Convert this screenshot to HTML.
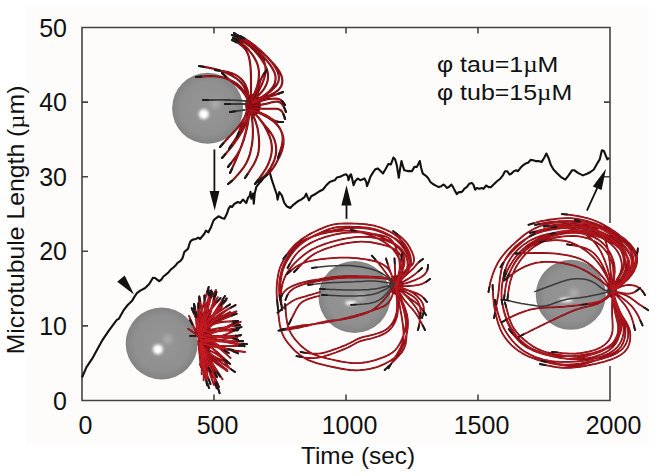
<!DOCTYPE html>
<html><head><meta charset="utf-8"><style>
html,body{margin:0;padding:0;background:#fff;width:658px;height:476px;overflow:hidden}
svg{display:block}
.s{font-family:"Liberation Sans",sans-serif}
.r{font-family:"Liberation Serif",serif}
</style></head><body>
<svg width="658" height="476" viewBox="0 0 658 476">
<defs><clipPath id="c1"><circle cx="207.6" cy="108.3" r="35.5"/></clipPath><clipPath id="c2"><circle cx="161.7" cy="343.5" r="36"/></clipPath><clipPath id="c3"><circle cx="354.5" cy="297" r="36"/></clipPath><clipPath id="c4"><circle cx="570.8" cy="294.8" r="35"/></clipPath><filter id="blur1" x="-1" y="-1" width="3" height="3"><feGaussianBlur stdDeviation="1.8"/></filter><filter id="blur2" x="-1" y="-1" width="3" height="3"><feGaussianBlur stdDeviation="2.5"/></filter></defs>
<rect x="26" y="7" width="623" height="437" fill="#fdfcfb"/>
<g stroke="#444" stroke-width="1.6" fill="none">
<path d="M82 27.5 H610 V400.5 H82 Z"/>
<path d="M214 400.5 v-6 M214 27.5 v6"/>
<path d="M346 400.5 v-6 M346 27.5 v6"/>
<path d="M478 400.5 v-6 M478 27.5 v6"/>
<path d="M82 325.9 h6 M610 325.9 h-6"/>
<path d="M82 251.3 h6 M610 251.3 h-6"/>
<path d="M82 176.7 h6 M610 176.7 h-6"/>
<path d="M82 102.1 h6 M610 102.1 h-6"/>
</g>
<g class="s" font-size="25" fill="#111">
<text x="67" y="409.5" text-anchor="end">0</text>
<text x="67" y="334.9" text-anchor="end">10</text>
<text x="67" y="260.3" text-anchor="end">20</text>
<text x="67" y="185.7" text-anchor="end">30</text>
<text x="67" y="111.1" text-anchor="end">40</text>
<text x="67" y="36.5" text-anchor="end">50</text>
<text x="85.5" y="434" text-anchor="middle">0</text>
<text x="217.5" y="434" text-anchor="middle">500</text>
<text x="349.5" y="434" text-anchor="middle">1000</text>
<text x="481.5" y="434" text-anchor="middle">1500</text>
<text x="613.5" y="434" text-anchor="middle">2000</text>
</g>
<text x="301" y="464" textLength="114" lengthAdjust="spacingAndGlyphs" class="s" font-size="24" fill="#111">Time (sec)</text>
<text transform="translate(23.5 354.3) rotate(-90)" textLength="268.7" lengthAdjust="spacingAndGlyphs" class="s" font-size="24" fill="#111">Microtubule Length (<tspan class="r">µ</tspan>m)</text>
<g class="s" font-size="23" fill="#111" transform="translate(437 0) scale(1.085 1) translate(-437 0)"><text x="437" y="72">φ tau=1<tspan class="r">µ</tspan>M</text><text x="437" y="100.4">φ tub=15<tspan class="r">µ</tspan>M</text></g>
<path d="M82,377.5 L86.5,367.2 L92.2,358.7 L97.9,348.3 L102.6,339.8 L108.3,331.3 L114,323.7 L116.8,319.9 L118.7,318.9 L123.5,310.4 L127.7,305 L131.9,301.1 L134.4,296.9 L136.9,293.2 L140.3,290.6 L145.2,288 L149.4,283.8 L152.8,277.9 L155,278 L157.1,279.6 L159.2,281.2 L161.3,279.6 L163.4,276.5 L165.5,274.9 L168.1,272.8 L170.7,269.6 L173.4,267.5 L176,264.9 L177.6,262.8 L180.2,261.2 L182.3,258.6 L183.3,255.5 L184.4,251.8 L186.5,250.2 L188.1,248.6 L189.1,245 L190.2,241.8 L191.7,240.2 L193.8,239.2 L195.6,239.2 L198.2,237.6 L200,239 L204.2,234 L205.9,230.6 L208.4,232.3 L211,227.2 L213.5,220.5 L215.2,218.8 L218.5,216.3 L221.9,218 L224.4,218.8 L226.9,213.8 L228.6,208.7 L230.3,206.2 L232,207 L234.5,203.7 L237.9,202 L240.4,202.9 L242.9,199.5 L244.6,201.2 L246.3,202.9 L248,197.8 L249.6,196.1 L250.5,191.9 L251.3,198.7 L253,193.6 L253.8,203.7 L254.7,193.6 L256.3,186.9 L258.9,183.5 L261.4,181 L263.9,177.6 L266.4,175.1 L269.5,171.5 L271.7,179.4 L274.2,187 L276.8,194.5 L277.6,199.6 L279.3,192 L281.8,195.4 L284.3,202.9 L286.8,206.3 L290.2,208 L293.6,204.6 L297.8,201.3 L301.1,199.6 L304.5,197.1 L306.2,193.7 L307.9,197.9 L309,200.4 L311.2,196.2 L314.6,194.5 L317.1,192.9 L319.6,191.2 L323,189.5 L326.3,185.3 L329.7,181.9 L332.2,181.1 L334.7,180.3 L336.8,177.6 L340.1,176.8 L343.5,175.1 L346,174.3 L347.7,176 L348.5,180.2 L350.2,175.1 L351,174.3 L351.9,177.6 L353.6,185.2 L355.3,181 L357.8,178.5 L360.3,180.2 L362.8,179.3 L364.5,178.5 L366.2,181.8 L367,186 L368.7,181.8 L370.4,176.8 L372.9,172.6 L375.4,169.2 L377.9,168.4 L380.5,170.9 L383,173.4 L385.5,169.2 L388.3,164 L390.9,164.4 L393.4,157.6 L395.1,159.3 L396.8,165.2 L398.8,177.8 L400.1,168.6 L401.5,161 L402.6,165.2 L404.3,170.3 L407.7,171.1 L411.9,171.1 L414.4,166.9 L416.9,166.9 L418.6,163.5 L419.8,161 L421.1,167.7 L422.8,173.6 L425.3,175.3 L427.9,177.8 L430.4,182 L432.9,184 L435.4,185.4 L438.8,187.1 L441.3,186.2 L443.5,184.5 L444.7,185.4 L446.8,187.9 L448.9,187.1 L451.4,184.5 L453.1,187.1 L454.7,190.4 L456.9,194.1 L459,192.1 L461.5,192.1 L463.2,190.4 L464.2,188.8 L466.7,187.1 L469.2,183.8 L471.8,182.9 L473.4,184.6 L475.1,189.7 L476.8,188 L479.3,188.8 L481.8,188 L483.5,188.8 L486.1,185.5 L488.6,187.1 L491.1,187.1 L493.6,184.6 L497,181.3 L500.3,178.7 L502.9,175.4 L505,171.2 L507.1,171.2 L509.6,174.5 L511.3,173.7 L513.8,171.2 L516.3,170.3 L518,171.2 L520.5,167.8 L523,165.3 L525.5,163.6 L528.1,162.8 L530.6,159.9 L533.1,160.3 L535.6,161.1 L538.4,161.1 L541.7,161.9 L544.2,157.7 L546.4,153.5 L548.4,157.7 L551,165.3 L553.5,169.5 L556.8,172.9 L561,177.1 L565.3,179.6 L568.6,175.4 L572,170.3 L574.5,170.3 L577.9,172.9 L582.9,175.4 L587.1,173.7 L590.5,172 L593.8,169.5 L597.2,163.6 L599.7,159.4 L601.9,150.2 L603.9,151 L605.6,155.2 L607.3,159.4 L609,157.7" fill="none" stroke="#111" stroke-width="2.1" stroke-linejoin="round"/>
<g fill="#111" stroke="#111">
<path d="M214.4 149.4 V192" stroke-width="1.8"/><path d="M209.6 191 L219.4 191 L214.7 210.5 Z" stroke="none"/>
<path d="M346.5 218.8 V204" stroke-width="1.8"/><path d="M341.4 205.4 L351.6 205.4 L346.5 185.2 Z" stroke="none"/>
<path d="M586.9 210.7 L597.2 188.2" stroke-width="1.8"/><path d="M592.8 186.5 L601.6 190.1 L606 168.8 Z" stroke="none"/>
<path d="M117.2 281.8 L124.7 275.5 L134 294.4 Z" stroke="none"/>
</g>
<rect x="600" y="223" width="20" height="143" fill="#fdfdfd"/>
<radialGradient id="g1" gradientUnits="userSpaceOnUse" cx="207.6" cy="108.3" r="35.5">
<stop offset="0" stop-color="#959595"/><stop offset="0.75" stop-color="#909090"/><stop offset="1" stop-color="#838383"/></radialGradient>
<circle cx="207.6" cy="108.3" r="35.5" fill="url(#g1)"/>
<circle cx="215.5" cy="104" r="4" fill="#c8c8c8" opacity="0.6" filter="url(#blur2)"/>
<ellipse cx="203.8" cy="114.2" rx="5" ry="5" fill="#fff" filter="url(#blur1)"/>
<radialGradient id="g2" gradientUnits="userSpaceOnUse" cx="161.7" cy="343.5" r="36">
<stop offset="0" stop-color="#959595"/><stop offset="0.75" stop-color="#909090"/><stop offset="1" stop-color="#838383"/></radialGradient>
<circle cx="161.7" cy="343.5" r="36" fill="url(#g2)"/>
<circle cx="168" cy="339.3" r="4" fill="#c8c8c8" opacity="0.6" filter="url(#blur2)"/>
<ellipse cx="157.9" cy="349.4" rx="5" ry="5" fill="#fff" filter="url(#blur1)"/>
<radialGradient id="g3" gradientUnits="userSpaceOnUse" cx="354.5" cy="297" r="36">
<stop offset="0" stop-color="#959595"/><stop offset="0.75" stop-color="#909090"/><stop offset="1" stop-color="#838383"/></radialGradient>
<circle cx="354.5" cy="297" r="36" fill="url(#g3)"/>
<circle cx="360" cy="297" r="4" fill="#c8c8c8" opacity="0.6" filter="url(#blur2)"/>
<ellipse cx="351" cy="303" rx="6" ry="2.2" fill="#fff" filter="url(#blur1)"/>
<radialGradient id="g4" gradientUnits="userSpaceOnUse" cx="570.8" cy="294.8" r="35">
<stop offset="0" stop-color="#959595"/><stop offset="0.75" stop-color="#909090"/><stop offset="1" stop-color="#838383"/></radialGradient>
<circle cx="570.8" cy="294.8" r="35" fill="url(#g4)"/>
<circle cx="574" cy="293" r="4" fill="#c8c8c8" opacity="0.6" filter="url(#blur2)"/>
<ellipse cx="566" cy="300" rx="7" ry="2.2" fill="#fff" filter="url(#blur1)"/>
<ellipse cx="253" cy="105" rx="8" ry="11" fill="#940c12"/>
<path d="M252.0 102.0 253.9 101.3 256.7 100.3 259.5 99.3 261.4 98.6 263.3 97.9 266.1 96.7 268.9 95.6 270.7 94.7 272.5 93.8 275.1 92.4 277.5 90.7 278.9 89.4 280.1 87.9 281.5 85.4 282.3 82.6 282.4 80.7 282.2 78.8 281.5 76.0 280.3 73.3 279.4 71.5 278.3 69.8 276.6 67.4 274.7 65.1 273.4 63.6 272.0 62.1 270.0 59.9 267.9 57.7 266.5 56.3 265.0 54.9 262.8 52.8 260.6 50.8 259.1 49.5 257.5 48.3 255.2 46.4 252.7 44.6 251.1 43.5 249.4 42.4 246.8 40.8 244.3 39.3 242.5 38.3 240.8 37.2 238.3 35.7 235.7 34.1 234.0 33.0M252.0 102.0 254.7 100.6 256.5 99.7 259.2 98.3 260.9 97.3 263.5 95.8 265.2 94.6 267.6 92.8 269.1 91.4 271.1 89.3 272.4 87.7 273.9 85.2 274.7 83.4 275.4 80.6 275.6 77.7 275.4 75.7 274.6 72.9 273.8 71.1 272.4 68.4 271.4 66.7 269.6 64.2 268.4 62.6 266.5 60.2 265.2 58.7 263.2 56.4 261.8 55.0 259.7 52.8 257.5 50.8 256.0 49.4 253.7 47.5 252.1 46.2 249.7 44.3 248.1 43.1 245.6 41.4 243.9 40.3 241.3 38.9 239.5 38.0 236.7 36.8 234.8 36.1 232.0 35.0M251.0 102.0 253.3 100.1 254.8 98.7 257.1 96.7 258.5 95.3 260.6 93.2 261.9 91.6 263.7 89.3 264.8 87.6 266.2 85.0 267.2 82.2 267.7 80.3 268.0 77.3 268.0 75.4 267.7 72.4 267.2 70.5 266.2 67.7 264.9 65.0 263.9 63.3 262.4 60.7 261.2 59.0 259.5 56.6 258.3 55.0 256.3 52.7 255.0 51.2 252.9 49.1 250.6 47.0 249.1 45.8 246.7 44.0 245.0 42.9 242.4 41.5 240.6 40.7 237.8 39.6 235.9 38.9 233.0 38.0M251.0 100.0 252.4 97.3 253.3 95.6 254.6 92.9 255.4 91.0 256.5 88.2 257.1 86.3 257.9 83.4 258.5 80.5 258.7 78.5 258.9 75.5 259.0 73.5 258.8 70.5 258.5 68.6 257.9 65.7 256.9 62.9 256.1 61.0 254.7 58.4 253.7 56.7 252.0 54.2 250.8 52.6 248.9 50.3 246.9 48.0 245.5 46.6 243.2 44.7 241.7 43.4 239.2 41.7 237.5 40.6 235.0 39.0M251.0 100.0 251.0 97.0 251.0 95.0 251.0 91.9 251.0 89.9 251.0 86.9 251.0 84.9 251.0 81.9 251.0 79.9 251.0 76.9 250.9 74.8 250.8 71.8 250.7 69.8 250.5 66.8 250.3 64.8 249.9 61.8 249.5 59.8 248.9 56.9 248.3 55.0 247.1 52.3 246.2 50.5 244.4 48.2 243.0 46.8 240.7 44.9 239.1 43.7 236.5 42.2 234.7 41.3 232.0 40.0M255.0 100.0 256.0 97.2 256.8 95.3 257.9 92.5 258.8 90.7 260.1 88.0 261.0 86.2 262.2 83.5 263.0 81.6 264.0 78.8 264.6 76.9 265.2 74.0 265.5 72.0 265.6 69.0 265.5 67.1 264.9 64.1 264.4 62.2 263.3 59.4 262.5 57.6 261.0 55.1 259.8 53.5 257.9 51.2 256.5 49.7 254.3 47.7 252.8 46.4 250.4 44.5 248.8 43.3 246.3 41.6 244.7 40.4 242.2 38.8 240.5 37.7 238.0 36.0M253.0 102.0 255.7 100.7 257.5 99.8 260.2 98.4 262.0 97.4 264.5 95.8 266.2 94.7 268.6 92.8 270.1 91.6 272.4 89.6 273.8 88.2 275.8 86.0 277.0 84.4 278.3 81.8 278.7 80.0 278.9 77.1 278.6 75.2 277.8 72.4 277.0 70.6 275.6 67.9 274.0 65.4 272.8 63.7 271.0 61.4 269.7 59.8 267.7 57.5 266.3 56.1 264.2 53.9 262.7 52.5 260.5 50.5 259.0 49.2 256.7 47.2 255.1 45.9 252.7 44.1 251.1 42.9 248.6 41.2 246.9 40.1 244.4 38.5 242.6 37.5 240.0 36.0M252.0 100.0 253.4 97.3 254.4 95.4 255.7 92.7 256.6 90.8 257.8 88.0 258.6 86.1 259.6 83.2 260.2 81.2 261.4 78.4 262.2 76.5 263.8 74.0 265.0 72.3 267.0 70.0M248.0 98.0 247.2 95.1 246.6 93.2 245.6 90.3 244.9 88.5 243.5 85.9 242.4 84.2 240.4 82.0 239.0 80.6 236.7 78.7 235.0 77.6 232.5 76.0 230.7 75.0 228.0 73.7 226.2 72.9 223.4 71.7 221.5 71.0 218.7 70.1 216.7 69.5 213.8 68.8 211.8 68.4 208.9 67.8 206.9 67.4 204.0 66.9 202.0 66.5 199.0 66.0M247.0 97.0 245.5 94.4 244.5 92.6 242.9 90.1 241.7 88.5 239.7 86.3 238.2 84.9 235.8 83.1 233.3 81.6 231.5 80.7 228.7 79.5 226.9 78.8 224.0 77.8 222.0 77.3 219.1 76.7 217.1 76.5 214.1 76.2 211.1 76.1 209.1 76.1 206.1 76.2 204.0 76.4 201.0 76.6 199.0 76.7 196.0 77.0M248.0 100.0 247.0 98.2 245.5 95.5 244.4 93.8 242.6 91.3 241.3 89.8 239.1 87.7 237.6 86.3 235.2 84.4 233.6 83.1 231.2 81.2 229.6 79.9 227.3 77.8 225.8 76.5 223.5 74.4 222.0 73.0M249.0 97.0 248.4 94.0 248.0 92.1 247.2 89.1 246.5 87.3 245.3 84.5 244.3 82.8 242.5 80.5 241.1 79.0 238.8 77.0 237.2 75.9 234.6 74.4 232.7 73.6 229.9 72.7 228.0 72.1 225.0 71.5 223.0 71.1 220.0 70.7 218.0 70.4 215.0 70.0M252.0 104.0 254.9 103.0 256.8 102.4 259.6 101.4 262.5 100.5 264.5 100.0 267.4 99.3 269.4 99.0 272.4 98.7 275.4 98.6 277.3 98.8 280.0 99.6 282.2 101.2 283.4 102.6 285.0 105.0M252.0 108.0 254.0 108.1 257.0 108.3 260.0 108.5 262.0 108.7 264.0 108.8 267.0 108.8 270.0 108.8 272.0 108.7 274.0 108.7 276.9 108.8 279.5 109.6 281.0 110.5 282.2 111.8 283.5 114.3 284.5 117.1 285.0 119.0M253.0 106.0 255.0 105.7 258.0 105.3 261.0 104.8 263.0 104.4 265.0 104.0 267.9 103.4 270.8 102.6 272.8 102.1 274.7 101.7 277.5 101.6 280.0 102.4 281.4 103.5 282.6 104.9 284.1 107.4 285.3 110.1 286.0 112.0M253.0 110.0 255.9 111.0 257.7 111.7 260.6 112.8 262.4 113.6 265.1 114.9 266.9 115.8 269.4 117.4 271.1 118.6 273.6 120.1 275.4 121.0 278.1 121.8 280.1 122.0 283.0 122.0M252.0 103.0 253.9 102.3 256.8 101.3 258.8 100.6 261.7 99.5 263.6 98.9 266.5 97.8 268.5 97.1 271.4 96.1 273.3 95.4 276.2 94.4 278.2 93.7 281.1 92.7 283.0 92.0M248.0 108.0 247.0 110.8 246.3 112.7 245.3 115.5 244.6 117.4 243.5 120.2 242.4 123.0 241.7 124.9 240.6 127.7 239.9 129.5 238.8 132.3 238.1 134.2 237.0 137.0M250.0 110.0 248.9 112.8 248.2 114.7 247.1 117.6 246.4 119.4 245.2 122.2 243.9 124.9 242.9 126.7 241.4 129.4 240.4 131.1 238.8 133.7 237.7 135.4 236.1 137.9 234.4 140.5 233.4 142.2 231.7 144.7 230.6 146.4 229.0 149.0M250.0 110.0 249.2 112.9 248.6 114.8 247.7 117.7 247.1 119.6 246.1 122.5 245.4 124.4 244.2 127.1 243.4 128.9 242.0 131.6 240.9 133.3 239.3 135.9 237.7 138.4 236.5 140.0 234.8 142.5 233.6 144.1 231.8 146.5 230.5 148.1 228.6 150.4 227.3 151.9 225.3 154.2 224.0 155.7 222.0 158.0M250.0 110.0 249.5 113.0 249.1 114.9 248.5 117.9 248.2 119.9 247.6 122.9 247.2 124.8 246.6 127.8 246.2 129.8 245.5 132.7 245.0 134.6 244.2 137.6 243.6 139.5 242.7 142.3 241.7 145.2 241.0 147.1 240.0 149.9 239.2 151.8 238.1 154.6 237.4 156.5 236.2 159.2 235.4 161.1 234.2 163.8 233.3 165.7 232.1 168.4 231.3 170.3 230.0 173.0M251.0 110.0 251.4 113.0 251.6 115.0 251.9 118.0 252.2 120.0 252.5 123.0 252.6 125.0 252.8 128.0 252.9 130.0 252.9 133.0 252.8 136.0 252.7 138.0 252.4 141.0 252.2 143.0 251.7 145.9 251.3 147.9 250.7 150.8 250.0 153.7 249.4 155.7 248.4 158.5 247.6 160.3 246.3 163.0 245.3 164.7 243.7 167.3 241.9 169.7 240.7 171.3 238.7 173.6 237.4 175.1 235.4 177.4 234.1 178.8 231.9 180.9 230.4 182.1 228.0 184.0M252.0 110.0 254.0 112.3 255.3 113.8 257.3 116.1 258.6 117.6 260.4 120.0 261.6 121.6 263.3 124.1 264.4 125.8 265.8 128.5 266.8 130.3 268.1 133.0 269.3 135.7 270.0 137.6 270.9 140.5 271.3 142.4 271.7 145.4 271.9 147.4 271.8 150.4 271.6 152.4 271.1 155.3 270.6 157.3 269.7 160.2 268.7 163.0 267.9 164.8 266.5 167.5 265.5 169.3 263.9 171.8 262.8 173.5 261.0 175.9 259.8 177.6 258.0 180.0 256.8 181.6 255.0 184.0M253.0 110.0 254.8 110.9 257.5 112.2 260.2 113.5 262.0 114.4 263.8 115.3 266.5 116.7 269.1 118.3 270.7 119.4 272.4 120.5 274.7 122.4 276.8 124.5 278.1 126.1 279.3 127.7 280.8 130.2 282.0 132.9 282.6 134.8 283.1 136.7 283.5 139.7 283.5 142.7 283.4 144.6 283.0 146.6 282.3 149.5 281.3 152.3 280.6 154.2 279.8 156.0 278.4 158.7 277.0 161.4 276.1 163.2 275.1 164.9 273.5 167.5 271.8 169.9 270.5 171.5 269.2 172.9 267.0 175.0 264.6 176.8 263.0 178.0M253.0 110.0 255.8 111.2 257.6 112.0 260.4 113.2 262.2 114.0 264.9 115.3 266.7 116.3 269.3 117.8 271.0 118.9 273.3 120.7 275.5 122.8 276.9 124.2 278.7 126.6 279.8 128.3 281.1 130.9 281.8 132.8 282.5 135.7 282.7 138.6 282.6 140.6 282.2 143.5 281.8 145.5 281.0 148.4 280.4 150.3 279.5 153.2 278.9 155.1 278.0 158.0M251.0 110.0 251.8 111.9 252.9 114.7 253.7 116.6 254.8 119.4 255.5 121.3 256.4 124.2 257.0 126.1 257.7 129.1 258.0 131.1 258.5 134.1 258.7 136.1 259.0 139.1 259.1 141.1 259.1 144.1 259.1 146.2 258.8 149.2 258.6 151.2 258.0 154.1 257.4 156.1 256.3 158.9 255.5 160.7 254.2 163.4 253.2 165.2 251.6 167.8 250.5 169.5 248.9 172.1 247.8 173.8 246.1 176.3 245.0 178.0M250.0 110.0 249.6 113.0 249.3 115.0 248.9 117.9 248.5 119.9 248.0 122.9 247.4 125.8 247.0 127.8 246.3 130.7 245.8 132.7 245.0 135.6 244.5 137.5 243.6 140.4 242.6 143.2 241.9 145.1 240.8 147.9 239.9 149.7 238.5 152.4 237.5 154.1 235.9 156.6 234.1 159.0 232.9 160.6 231.1 163.0 229.8 164.6 228.0 167.0M252.0 110.0 253.9 112.3 255.2 113.8 257.2 116.1 258.5 117.7 260.4 120.0 261.6 121.5 263.6 123.8 264.8 125.4 266.8 127.7 268.0 129.2 269.9 131.6 271.0 133.2 272.6 135.8 273.5 137.6 274.6 140.3 275.2 142.2 275.8 145.1 276.1 148.1 276.2 150.1 276.0 153.0 275.7 155.0 275.0 157.9 274.4 159.8 273.3 162.5 272.4 164.3 271.0 167.0 270.0 168.7 268.3 171.2 267.1 172.8 265.2 175.1 263.9 176.6 261.7 178.6 260.2 180.0 258.0 182.0M249.0 109.0 247.6 111.7 246.7 113.4 245.3 116.1 244.3 117.8 242.8 120.4 241.7 122.1 240.0 124.6 238.9 126.2 237.0 128.6 235.6 130.1 233.6 132.3 232.2 133.7 230.1 135.9 228.7 137.3 226.7 139.5 225.3 141.0 223.3 143.2 222.0 144.7 220.0 147.0" fill="none" stroke="#68080c" stroke-width="2.1" stroke-linecap="round" stroke-linejoin="round"/>
<path d="M252.0 102.0 253.9 101.3 256.7 100.3 259.5 99.3 261.4 98.6 263.3 97.9 266.1 96.7 268.9 95.6 270.7 94.7 272.5 93.8 275.1 92.4 277.5 90.7 278.9 89.4 280.1 87.9 281.5 85.4 282.3 82.6 282.4 80.7 282.2 78.8 281.5 76.0 280.3 73.3 279.4 71.5 278.3 69.8 276.6 67.4 274.7 65.1 273.4 63.6 272.0 62.1 270.0 59.9 267.9 57.7 266.5 56.3 265.0 54.9 262.8 52.8 260.6 50.8 259.1 49.5 257.5 48.3 255.2 46.4 252.7 44.6 251.1 43.5 249.4 42.4 246.8 40.8 244.3 39.3 242.5 38.3 240.8 37.2 238.3 35.7 235.7 34.1 234.0 33.0M252.0 102.0 254.7 100.6 256.5 99.7 259.2 98.3 260.9 97.3 263.5 95.8 265.2 94.6 267.6 92.8 269.1 91.4 271.1 89.3 272.4 87.7 273.9 85.2 274.7 83.4 275.4 80.6 275.6 77.7 275.4 75.7 274.6 72.9 273.8 71.1 272.4 68.4 271.4 66.7 269.6 64.2 268.4 62.6 266.5 60.2 265.2 58.7 263.2 56.4 261.8 55.0 259.7 52.8 257.5 50.8 256.0 49.4 253.7 47.5 252.1 46.2 249.7 44.3 248.1 43.1 245.6 41.4 243.9 40.3 241.3 38.9 239.5 38.0 236.7 36.8 234.8 36.1 232.0 35.0M251.0 102.0 253.3 100.1 254.8 98.7 257.1 96.7 258.5 95.3 260.6 93.2 261.9 91.6 263.7 89.3 264.8 87.6 266.2 85.0 267.2 82.2 267.7 80.3 268.0 77.3 268.0 75.4 267.7 72.4 267.2 70.5 266.2 67.7 264.9 65.0 263.9 63.3 262.4 60.7 261.2 59.0 259.5 56.6 258.3 55.0 256.3 52.7 255.0 51.2 252.9 49.1 250.6 47.0 249.1 45.8 246.7 44.0 245.0 42.9 242.4 41.5 240.6 40.7 237.8 39.6 235.9 38.9 233.0 38.0M251.0 100.0 252.4 97.3 253.3 95.6 254.6 92.9 255.4 91.0 256.5 88.2 257.1 86.3 257.9 83.4 258.5 80.5 258.7 78.5 258.9 75.5 259.0 73.5 258.8 70.5 258.5 68.6 257.9 65.7 256.9 62.9 256.1 61.0 254.7 58.4 253.7 56.7 252.0 54.2 250.8 52.6 248.9 50.3 246.9 48.0 245.5 46.6 243.2 44.7 241.7 43.4 239.2 41.7 237.5 40.6 235.0 39.0M251.0 100.0 251.0 97.0 251.0 95.0 251.0 91.9 251.0 89.9 251.0 86.9 251.0 84.9 251.0 81.9 251.0 79.9 251.0 76.9 250.9 74.8 250.8 71.8 250.7 69.8 250.5 66.8 250.3 64.8 249.9 61.8 249.5 59.8 248.9 56.9 248.3 55.0 247.1 52.3 246.2 50.5 244.4 48.2 243.0 46.8 240.7 44.9 239.1 43.7 236.5 42.2 234.7 41.3 232.0 40.0M255.0 100.0 256.0 97.2 256.8 95.3 257.9 92.5 258.8 90.7 260.1 88.0 261.0 86.2 262.2 83.5 263.0 81.6 264.0 78.8 264.6 76.9 265.2 74.0 265.5 72.0 265.6 69.0 265.5 67.1 264.9 64.1 264.4 62.2 263.3 59.4 262.5 57.6 261.0 55.1 259.8 53.5 257.9 51.2 256.5 49.7 254.3 47.7 252.8 46.4 250.4 44.5 248.8 43.3 246.3 41.6 244.7 40.4 242.2 38.8 240.5 37.7 238.0 36.0M253.0 102.0 255.7 100.7 257.5 99.8 260.2 98.4 262.0 97.4 264.5 95.8 266.2 94.7 268.6 92.8 270.1 91.6 272.4 89.6 273.8 88.2 275.8 86.0 277.0 84.4 278.3 81.8 278.7 80.0 278.9 77.1 278.6 75.2 277.8 72.4 277.0 70.6 275.6 67.9 274.0 65.4 272.8 63.7 271.0 61.4 269.7 59.8 267.7 57.5 266.3 56.1 264.2 53.9 262.7 52.5 260.5 50.5 259.0 49.2 256.7 47.2 255.1 45.9 252.7 44.1 251.1 42.9 248.6 41.2 246.9 40.1 244.4 38.5 242.6 37.5 240.0 36.0M252.0 100.0 253.4 97.3 254.4 95.4 255.7 92.7 256.6 90.8 257.8 88.0 258.6 86.1 259.6 83.2 260.2 81.2 261.4 78.4 262.2 76.5 263.8 74.0 265.0 72.3 267.0 70.0M248.0 98.0 247.2 95.1 246.6 93.2 245.6 90.3 244.9 88.5 243.5 85.9 242.4 84.2 240.4 82.0 239.0 80.6 236.7 78.7 235.0 77.6 232.5 76.0 230.7 75.0 228.0 73.7 226.2 72.9 223.4 71.7 221.5 71.0 218.7 70.1 216.7 69.5 213.8 68.8 211.8 68.4 208.9 67.8 206.9 67.4 204.0 66.9 202.0 66.5 199.0 66.0M247.0 97.0 245.5 94.4 244.5 92.6 242.9 90.1 241.7 88.5 239.7 86.3 238.2 84.9 235.8 83.1 233.3 81.6 231.5 80.7 228.7 79.5 226.9 78.8 224.0 77.8 222.0 77.3 219.1 76.7 217.1 76.5 214.1 76.2 211.1 76.1 209.1 76.1 206.1 76.2 204.0 76.4 201.0 76.6 199.0 76.7 196.0 77.0M248.0 100.0 247.0 98.2 245.5 95.5 244.4 93.8 242.6 91.3 241.3 89.8 239.1 87.7 237.6 86.3 235.2 84.4 233.6 83.1 231.2 81.2 229.6 79.9 227.3 77.8 225.8 76.5 223.5 74.4 222.0 73.0M249.0 97.0 248.4 94.0 248.0 92.1 247.2 89.1 246.5 87.3 245.3 84.5 244.3 82.8 242.5 80.5 241.1 79.0 238.8 77.0 237.2 75.9 234.6 74.4 232.7 73.6 229.9 72.7 228.0 72.1 225.0 71.5 223.0 71.1 220.0 70.7 218.0 70.4 215.0 70.0M252.0 104.0 254.9 103.0 256.8 102.4 259.6 101.4 262.5 100.5 264.5 100.0 267.4 99.3 269.4 99.0 272.4 98.7 275.4 98.6 277.3 98.8 280.0 99.6 282.2 101.2 283.4 102.6 285.0 105.0M252.0 108.0 254.0 108.1 257.0 108.3 260.0 108.5 262.0 108.7 264.0 108.8 267.0 108.8 270.0 108.8 272.0 108.7 274.0 108.7 276.9 108.8 279.5 109.6 281.0 110.5 282.2 111.8 283.5 114.3 284.5 117.1 285.0 119.0M253.0 106.0 255.0 105.7 258.0 105.3 261.0 104.8 263.0 104.4 265.0 104.0 267.9 103.4 270.8 102.6 272.8 102.1 274.7 101.7 277.5 101.6 280.0 102.4 281.4 103.5 282.6 104.9 284.1 107.4 285.3 110.1 286.0 112.0M253.0 110.0 255.9 111.0 257.7 111.7 260.6 112.8 262.4 113.6 265.1 114.9 266.9 115.8 269.4 117.4 271.1 118.6 273.6 120.1 275.4 121.0 278.1 121.8 280.1 122.0 283.0 122.0M252.0 103.0 253.9 102.3 256.8 101.3 258.8 100.6 261.7 99.5 263.6 98.9 266.5 97.8 268.5 97.1 271.4 96.1 273.3 95.4 276.2 94.4 278.2 93.7 281.1 92.7 283.0 92.0M248.0 108.0 247.0 110.8 246.3 112.7 245.3 115.5 244.6 117.4 243.5 120.2 242.4 123.0 241.7 124.9 240.6 127.7 239.9 129.5 238.8 132.3 238.1 134.2 237.0 137.0M250.0 110.0 248.9 112.8 248.2 114.7 247.1 117.6 246.4 119.4 245.2 122.2 243.9 124.9 242.9 126.7 241.4 129.4 240.4 131.1 238.8 133.7 237.7 135.4 236.1 137.9 234.4 140.5 233.4 142.2 231.7 144.7 230.6 146.4 229.0 149.0M250.0 110.0 249.2 112.9 248.6 114.8 247.7 117.7 247.1 119.6 246.1 122.5 245.4 124.4 244.2 127.1 243.4 128.9 242.0 131.6 240.9 133.3 239.3 135.9 237.7 138.4 236.5 140.0 234.8 142.5 233.6 144.1 231.8 146.5 230.5 148.1 228.6 150.4 227.3 151.9 225.3 154.2 224.0 155.7 222.0 158.0M250.0 110.0 249.5 113.0 249.1 114.9 248.5 117.9 248.2 119.9 247.6 122.9 247.2 124.8 246.6 127.8 246.2 129.8 245.5 132.7 245.0 134.6 244.2 137.6 243.6 139.5 242.7 142.3 241.7 145.2 241.0 147.1 240.0 149.9 239.2 151.8 238.1 154.6 237.4 156.5 236.2 159.2 235.4 161.1 234.2 163.8 233.3 165.7 232.1 168.4 231.3 170.3 230.0 173.0M251.0 110.0 251.4 113.0 251.6 115.0 251.9 118.0 252.2 120.0 252.5 123.0 252.6 125.0 252.8 128.0 252.9 130.0 252.9 133.0 252.8 136.0 252.7 138.0 252.4 141.0 252.2 143.0 251.7 145.9 251.3 147.9 250.7 150.8 250.0 153.7 249.4 155.7 248.4 158.5 247.6 160.3 246.3 163.0 245.3 164.7 243.7 167.3 241.9 169.7 240.7 171.3 238.7 173.6 237.4 175.1 235.4 177.4 234.1 178.8 231.9 180.9 230.4 182.1 228.0 184.0M252.0 110.0 254.0 112.3 255.3 113.8 257.3 116.1 258.6 117.6 260.4 120.0 261.6 121.6 263.3 124.1 264.4 125.8 265.8 128.5 266.8 130.3 268.1 133.0 269.3 135.7 270.0 137.6 270.9 140.5 271.3 142.4 271.7 145.4 271.9 147.4 271.8 150.4 271.6 152.4 271.1 155.3 270.6 157.3 269.7 160.2 268.7 163.0 267.9 164.8 266.5 167.5 265.5 169.3 263.9 171.8 262.8 173.5 261.0 175.9 259.8 177.6 258.0 180.0 256.8 181.6 255.0 184.0M253.0 110.0 254.8 110.9 257.5 112.2 260.2 113.5 262.0 114.4 263.8 115.3 266.5 116.7 269.1 118.3 270.7 119.4 272.4 120.5 274.7 122.4 276.8 124.5 278.1 126.1 279.3 127.7 280.8 130.2 282.0 132.9 282.6 134.8 283.1 136.7 283.5 139.7 283.5 142.7 283.4 144.6 283.0 146.6 282.3 149.5 281.3 152.3 280.6 154.2 279.8 156.0 278.4 158.7 277.0 161.4 276.1 163.2 275.1 164.9 273.5 167.5 271.8 169.9 270.5 171.5 269.2 172.9 267.0 175.0 264.6 176.8 263.0 178.0M253.0 110.0 255.8 111.2 257.6 112.0 260.4 113.2 262.2 114.0 264.9 115.3 266.7 116.3 269.3 117.8 271.0 118.9 273.3 120.7 275.5 122.8 276.9 124.2 278.7 126.6 279.8 128.3 281.1 130.9 281.8 132.8 282.5 135.7 282.7 138.6 282.6 140.6 282.2 143.5 281.8 145.5 281.0 148.4 280.4 150.3 279.5 153.2 278.9 155.1 278.0 158.0M251.0 110.0 251.8 111.9 252.9 114.7 253.7 116.6 254.8 119.4 255.5 121.3 256.4 124.2 257.0 126.1 257.7 129.1 258.0 131.1 258.5 134.1 258.7 136.1 259.0 139.1 259.1 141.1 259.1 144.1 259.1 146.2 258.8 149.2 258.6 151.2 258.0 154.1 257.4 156.1 256.3 158.9 255.5 160.7 254.2 163.4 253.2 165.2 251.6 167.8 250.5 169.5 248.9 172.1 247.8 173.8 246.1 176.3 245.0 178.0M250.0 110.0 249.6 113.0 249.3 115.0 248.9 117.9 248.5 119.9 248.0 122.9 247.4 125.8 247.0 127.8 246.3 130.7 245.8 132.7 245.0 135.6 244.5 137.5 243.6 140.4 242.6 143.2 241.9 145.1 240.8 147.9 239.9 149.7 238.5 152.4 237.5 154.1 235.9 156.6 234.1 159.0 232.9 160.6 231.1 163.0 229.8 164.6 228.0 167.0M252.0 110.0 253.9 112.3 255.2 113.8 257.2 116.1 258.5 117.7 260.4 120.0 261.6 121.5 263.6 123.8 264.8 125.4 266.8 127.7 268.0 129.2 269.9 131.6 271.0 133.2 272.6 135.8 273.5 137.6 274.6 140.3 275.2 142.2 275.8 145.1 276.1 148.1 276.2 150.1 276.0 153.0 275.7 155.0 275.0 157.9 274.4 159.8 273.3 162.5 272.4 164.3 271.0 167.0 270.0 168.7 268.3 171.2 267.1 172.8 265.2 175.1 263.9 176.6 261.7 178.6 260.2 180.0 258.0 182.0M249.0 109.0 247.6 111.7 246.7 113.4 245.3 116.1 244.3 117.8 242.8 120.4 241.7 122.1 240.0 124.6 238.9 126.2 237.0 128.6 235.6 130.1 233.6 132.3 232.2 133.7 230.1 135.9 228.7 137.3 226.7 139.5 225.3 141.0 223.3 143.2 222.0 144.7 220.0 147.0" fill="none" stroke="#b8161d" stroke-width="0.95" stroke-linecap="round" stroke-linejoin="round"/>
<path d="M247.0 101.0 244.0 100.8 242.0 100.6 239.0 100.4 237.0 100.3 234.0 100.2 231.0 100.1 229.0 100.0 226.0 100.0 224.0 99.9 221.0 99.9 219.0 99.9 216.0 99.9 213.0 100.0 211.0 100.0 208.0 100.0 206.0 100.0 203.0 100.0M246.0 104.0 243.0 104.0 241.0 104.0 238.0 104.0 236.0 104.0 233.0 104.0 230.0 104.0 228.0 104.0 225.0 104.0M245.0 110.0 243.0 110.2 240.0 110.6 237.0 111.0 235.0 111.3 233.0 111.6 230.0 112.0" fill="none" stroke="#3a3a3a" stroke-width="1.78" stroke-linecap="round" stroke-linejoin="round"/>
<path d="M234.0 33.0 235.7 34.1 238.2 35.6M232.0 35.0 234.8 36.1 236.7 36.8M233.0 38.0 235.9 38.9 237.7 39.6M235.0 39.0 237.5 40.6 239.2 41.7M232.0 40.0 234.7 41.3 236.5 42.2M238.0 36.0 240.5 37.7 242.2 38.7M240.0 36.0 242.6 37.5 244.3 38.5M267.0 70.0 265.0 72.3 263.9 73.9M199.0 66.0 202.0 66.5 203.9 66.9M196.0 77.0 199.0 76.7 201.0 76.6M222.0 73.0 223.5 74.4 225.7 76.4M215.0 70.0 218.0 70.4 220.0 70.7M203.0 100.0 206.0 100.0 208.0 100.0M225.0 104.0 228.0 104.0 230.0 104.0M230.0 112.0 233.0 111.6 235.0 111.3M285.0 105.0 283.4 102.6 282.2 101.2 282.0 101.0M285.0 119.0 284.5 117.1 283.5 114.3 283.5 114.2M286.0 112.0 285.3 110.1 284.1 107.4M283.0 122.0 280.1 122.0 278.1 121.8 278.0 121.7M283.0 92.0 281.1 92.7 278.3 93.7M237.0 137.0 238.1 134.2 238.8 132.3M229.0 149.0 230.6 146.4 231.7 144.8M222.0 158.0 224.0 155.7 225.3 154.2M230.0 173.0 231.3 170.3 232.1 168.5M228.0 184.0 230.4 182.1 231.9 180.9 231.9 180.9M255.0 184.0 256.8 181.6 258.0 180.0M263.0 178.0 264.6 176.8 267.0 175.0M278.0 158.0 278.9 155.1 279.5 153.2M245.0 178.0 246.1 176.3 247.7 173.8M228.0 167.0 229.8 164.6 231.1 163.1M258.0 182.0 260.2 180.0 261.7 178.7M220.0 147.0 222.0 144.7 223.3 143.3" fill="none" stroke="#1a1a1a" stroke-width="2.10" stroke-linecap="round"/>
<ellipse cx="205" cy="338" rx="7" ry="17" fill="#900c12"/>
<path d="M201.1 338.6C201.2 340.9 201.8 347.5 201.7 351.9C201.5 356.3 200.3 362.8 200.0 365.0M200.8 339.9C200.9 342.4 200.9 350.0 201.2 355.0C201.6 360.0 202.7 367.5 203.0 370.0M199.8 346.2C200.5 348.6 203.4 355.7 204.4 360.6C205.4 365.5 205.4 373.1 205.6 375.6M202.6 344.8C203.3 347.8 206.1 356.8 206.7 362.9C207.4 369.0 206.5 378.4 206.4 381.5M202.8 347.6C202.9 351.0 202.2 361.5 203.3 368.2C204.3 374.9 208.0 384.7 209.0 388.0M202.0 342.1C202.8 345.8 204.8 356.8 206.8 363.9C208.8 371.1 212.8 381.5 214.0 385.0M198.2 343.8C199.1 346.2 201.1 353.8 203.3 358.5C205.4 363.2 209.7 369.8 211.0 372.0M201.8 351.0C203.5 354.4 209.3 364.4 212.3 371.4C215.2 378.5 218.4 389.6 219.6 393.2M198.7 342.5C200.3 345.3 205.4 353.7 208.4 359.4C211.5 365.2 215.6 374.1 217.0 377.0M201.0 343.3C202.7 346.4 207.6 355.6 211.2 361.6C214.8 367.7 220.7 376.4 222.6 379.3M199.8 344.9C201.9 347.2 207.9 354.2 212.5 358.3C217.0 362.5 224.6 367.8 227.0 369.7M200.1 347.1C203.0 349.2 211.5 355.7 217.3 359.8C223.1 363.9 232.1 369.9 235.0 371.9M199.3 342.7C201.4 344.7 207.3 351.7 212.1 355.0C216.9 358.4 225.3 361.7 228.0 363.0M200.7 339.8C203.5 341.0 212.1 343.6 217.0 346.7C222.0 349.7 228.3 356.1 230.6 358.0M201.9 343.2C204.5 343.8 212.1 346.1 217.3 347.3C222.5 348.4 230.4 349.5 233.0 350.0M199.5 343.1C203.3 344.0 214.5 347.1 222.0 348.6C229.6 350.1 241.2 351.4 245.0 352.0M199.9 342.0C203.7 341.9 215.1 340.9 222.5 341.6C229.9 342.3 240.9 345.4 244.6 346.2M201.7 340.4C205.2 340.6 215.5 341.0 222.4 341.1C229.2 341.2 239.6 341.0 243.0 341.0M200.8 337.8C203.9 337.5 213.3 335.8 219.5 336.1C225.7 336.4 234.9 339.0 238.0 339.6M201.5 340.6C204.9 340.5 215.0 340.7 221.5 339.7C228.1 338.8 237.8 335.8 241.0 335.0M198.5 340.1C202.0 339.5 212.8 338.6 219.6 336.6C226.4 334.7 235.9 329.7 239.2 328.3M201.1 331.6C204.3 331.0 214.0 329.1 220.5 328.0C227.0 326.9 236.8 325.5 240.0 325.0M198.7 338.5C202.0 337.1 212.1 333.4 218.6 330.5C225.2 327.6 234.7 322.6 237.9 321.0M200.5 333.9C203.3 331.9 211.4 325.1 217.4 321.7C223.4 318.3 233.5 315.0 236.7 313.7M198.9 336.9C201.1 334.5 207.3 326.2 212.5 322.0C217.7 317.9 227.1 313.7 230.0 312.0M202.9 331.7C205.3 329.1 211.8 320.4 217.2 316.0C222.7 311.6 232.5 306.9 235.5 305.1M198.6 331.6C200.8 328.9 207.5 320.8 212.1 315.6C216.7 310.4 224.0 302.8 226.4 300.3M200.7 334.6C202.3 332.1 206.9 324.7 210.4 320.1C214.0 315.5 220.1 309.2 222.0 307.0M201.8 334.1C203.7 330.9 209.2 321.2 213.0 314.8C216.9 308.5 223.0 299.1 225.0 296.0M202.9 333.0C203.7 329.9 205.4 320.1 207.9 314.1C210.4 308.1 216.2 300.0 217.8 297.2M200.5 328.0C201.4 324.6 203.1 314.3 205.7 307.9C208.2 301.6 214.3 293.0 216.0 290.0M199.9 326.9C201.2 324.1 205.3 315.7 207.3 309.9C209.3 304.1 211.2 295.0 212.0 292.0M198.2 324.1C199.1 321.0 201.4 311.6 203.2 305.4C204.9 299.2 207.8 290.0 208.7 286.9M199.8 334.5C200.6 331.3 203.8 321.7 204.5 315.2C205.3 308.7 204.4 298.7 204.4 295.4M201.7 329.9C201.4 327.2 200.1 319.3 199.7 314.0C199.2 308.7 199.1 300.7 199.0 298.0M198.4 332.6C198.2 330.2 197.7 322.9 197.0 318.1C196.3 313.4 194.6 306.3 194.1 303.9M200.2 337.5C199.6 335.4 197.3 329.2 196.6 325.0C195.9 320.8 196.1 314.2 196.0 312.0M202.8 336.4C202.1 334.1 199.9 327.1 198.3 322.5C196.6 317.9 193.8 311.1 192.9 308.8M198.9 333.5C198.1 332.4 195.5 329.3 194.0 327.0C192.5 324.8 190.7 321.2 190.0 320.0M201.5 335.9C200.5 335.9 197.7 335.9 195.8 335.9C194.0 335.9 191.1 335.9 190.2 335.9M198.8 348.0C199.0 349.6 199.6 354.4 200.0 357.7C200.3 360.9 200.9 365.7 201.0 367.4M200.4 348.9C200.7 351.0 201.5 357.3 201.8 361.6C202.0 365.8 201.7 372.2 201.7 374.3M200.0 346.5C200.6 349.3 203.2 357.6 203.8 363.2C204.4 368.8 203.7 377.4 203.6 380.2M200.9 345.4C201.4 348.7 202.8 358.7 203.9 365.3C204.9 371.9 206.5 381.8 207.0 385.1M202.7 350.4C203.1 353.3 203.7 362.0 205.0 367.7C206.3 373.3 209.6 381.4 210.5 384.1M200.0 345.3C201.2 347.9 204.9 355.7 207.1 361.0C209.3 366.3 212.2 374.4 213.2 377.1M199.2 350.0C201.2 353.0 207.9 361.4 210.8 367.8C213.7 374.1 215.7 384.8 216.7 388.2M200.2 349.0C201.9 352.1 207.3 361.2 210.4 367.5C213.5 373.9 217.5 383.7 218.9 386.9M198.1 341.5C199.8 344.5 204.9 353.5 208.5 359.3C212.2 365.1 218.1 373.6 220.0 376.4M200.1 347.6C202.2 349.8 208.2 356.7 212.7 360.6C217.3 364.5 225.1 369.4 227.5 371.1M201.0 338.7C203.6 341.0 211.8 347.3 216.6 352.2C221.3 357.2 227.4 365.6 229.6 368.3M199.9 338.9C202.5 340.9 210.6 346.5 215.6 350.7C220.6 354.8 227.6 361.7 230.0 363.9M199.8 346.3C202.3 347.4 209.9 350.3 214.6 353.0C219.2 355.7 225.5 361.0 227.7 362.6M199.9 335.7C202.4 337.0 210.0 340.7 214.8 343.6C219.6 346.5 226.4 351.5 228.7 353.1M200.8 336.3C203.8 337.8 212.9 342.7 219.1 345.5C225.3 348.4 234.9 352.0 238.1 353.3M199.8 344.0C203.4 344.3 214.4 345.7 221.7 346.0C229.1 346.3 240.1 345.8 243.8 345.7M202.4 336.2C206.1 337.2 217.0 340.6 224.4 341.9C231.8 343.2 243.2 343.7 247.0 344.1M202.6 341.1C205.5 340.5 214.0 337.8 219.8 337.2C225.6 336.6 234.5 337.4 237.4 337.4M200.1 334.5C203.4 334.8 213.5 336.1 220.2 336.2C227.0 336.4 237.1 335.6 240.4 335.5M201.8 336.7C204.7 335.8 213.3 332.1 219.3 331.0C225.3 329.9 234.7 330.3 237.8 330.2M199.2 331.5C202.8 331.4 213.5 331.5 220.5 330.8C227.6 330.1 238.0 327.7 241.5 327.1M199.5 334.1C203.0 333.5 213.9 332.2 220.7 330.1C227.6 328.1 237.4 323.2 240.7 321.8M199.2 330.3C202.4 329.0 211.5 324.2 218.0 322.7C224.4 321.1 234.7 321.3 238.1 321.0M202.9 329.4C205.5 327.7 213.2 321.8 218.8 318.8C224.4 315.8 233.5 312.6 236.4 311.3M199.5 333.5C201.9 331.3 208.9 324.6 213.8 320.4C218.7 316.2 226.4 310.4 229.0 308.4M198.1 330.8C200.6 328.4 207.6 320.6 212.9 316.2C218.3 311.8 227.2 306.4 230.1 304.4M199.4 329.2C201.5 327.0 208.2 320.7 212.3 316.0C216.3 311.4 221.7 303.9 223.6 301.4M199.9 328.8C202.3 326.5 209.9 319.6 214.3 314.6C218.8 309.5 224.7 301.1 226.7 298.4M198.9 331.9C200.4 328.9 204.4 319.5 208.0 313.9C211.5 308.2 218.4 300.7 220.5 298.0M202.5 332.2C203.8 329.1 208.2 320.1 210.3 313.8C212.3 307.5 213.9 297.6 214.6 294.3M202.5 326.1C203.8 323.3 208.2 315.3 210.5 309.6C212.9 304.0 215.5 295.1 216.5 292.2M199.9 331.3C200.7 327.8 202.7 317.4 204.6 310.6C206.5 303.8 210.1 293.9 211.3 290.5M201.5 329.2C202.6 326.0 206.6 316.6 207.8 310.1C209.0 303.6 208.5 293.4 208.6 290.0M199.9 329.4C200.2 326.7 201.9 318.4 201.8 312.9C201.7 307.4 199.7 299.2 199.3 296.5M198.5 334.7C198.4 332.1 198.2 324.2 198.2 319.0C198.1 313.7 198.3 305.8 198.4 303.2M202.4 335.0C201.4 332.6 197.8 325.3 196.4 320.2C195.0 315.1 194.3 307.1 193.9 304.4M198.8 333.9C198.4 331.7 197.8 325.0 196.6 320.7C195.4 316.4 192.5 310.3 191.7 308.2M198.9 338.7C198.1 336.8 195.7 331.1 194.0 327.3C192.4 323.5 189.8 317.9 189.0 316.0M201.0 337.8C200.0 337.0 196.7 334.8 194.6 333.3C192.4 331.8 189.2 329.5 188.1 328.8" fill="none" stroke="#700a10" stroke-width="1.9" stroke-linecap="round"/>
<path d="M201.1 338.6C201.2 340.9 201.8 347.5 201.7 351.9C201.5 356.3 200.3 362.8 200.0 365.0M200.8 339.9C200.9 342.4 200.9 350.0 201.2 355.0C201.6 360.0 202.7 367.5 203.0 370.0M199.8 346.2C200.5 348.6 203.4 355.7 204.4 360.6C205.4 365.5 205.4 373.1 205.6 375.6M202.6 344.8C203.3 347.8 206.1 356.8 206.7 362.9C207.4 369.0 206.5 378.4 206.4 381.5M202.8 347.6C202.9 351.0 202.2 361.5 203.3 368.2C204.3 374.9 208.0 384.7 209.0 388.0M202.0 342.1C202.8 345.8 204.8 356.8 206.8 363.9C208.8 371.1 212.8 381.5 214.0 385.0M198.2 343.8C199.1 346.2 201.1 353.8 203.3 358.5C205.4 363.2 209.7 369.8 211.0 372.0M201.8 351.0C203.5 354.4 209.3 364.4 212.3 371.4C215.2 378.5 218.4 389.6 219.6 393.2M198.7 342.5C200.3 345.3 205.4 353.7 208.4 359.4C211.5 365.2 215.6 374.1 217.0 377.0M201.0 343.3C202.7 346.4 207.6 355.6 211.2 361.6C214.8 367.7 220.7 376.4 222.6 379.3M199.8 344.9C201.9 347.2 207.9 354.2 212.5 358.3C217.0 362.5 224.6 367.8 227.0 369.7M200.1 347.1C203.0 349.2 211.5 355.7 217.3 359.8C223.1 363.9 232.1 369.9 235.0 371.9M199.3 342.7C201.4 344.7 207.3 351.7 212.1 355.0C216.9 358.4 225.3 361.7 228.0 363.0M200.7 339.8C203.5 341.0 212.1 343.6 217.0 346.7C222.0 349.7 228.3 356.1 230.6 358.0M201.9 343.2C204.5 343.8 212.1 346.1 217.3 347.3C222.5 348.4 230.4 349.5 233.0 350.0M199.5 343.1C203.3 344.0 214.5 347.1 222.0 348.6C229.6 350.1 241.2 351.4 245.0 352.0M199.9 342.0C203.7 341.9 215.1 340.9 222.5 341.6C229.9 342.3 240.9 345.4 244.6 346.2M201.7 340.4C205.2 340.6 215.5 341.0 222.4 341.1C229.2 341.2 239.6 341.0 243.0 341.0M200.8 337.8C203.9 337.5 213.3 335.8 219.5 336.1C225.7 336.4 234.9 339.0 238.0 339.6M201.5 340.6C204.9 340.5 215.0 340.7 221.5 339.7C228.1 338.8 237.8 335.8 241.0 335.0M198.5 340.1C202.0 339.5 212.8 338.6 219.6 336.6C226.4 334.7 235.9 329.7 239.2 328.3M201.1 331.6C204.3 331.0 214.0 329.1 220.5 328.0C227.0 326.9 236.8 325.5 240.0 325.0M198.7 338.5C202.0 337.1 212.1 333.4 218.6 330.5C225.2 327.6 234.7 322.6 237.9 321.0M200.5 333.9C203.3 331.9 211.4 325.1 217.4 321.7C223.4 318.3 233.5 315.0 236.7 313.7M198.9 336.9C201.1 334.5 207.3 326.2 212.5 322.0C217.7 317.9 227.1 313.7 230.0 312.0M202.9 331.7C205.3 329.1 211.8 320.4 217.2 316.0C222.7 311.6 232.5 306.9 235.5 305.1M198.6 331.6C200.8 328.9 207.5 320.8 212.1 315.6C216.7 310.4 224.0 302.8 226.4 300.3M200.7 334.6C202.3 332.1 206.9 324.7 210.4 320.1C214.0 315.5 220.1 309.2 222.0 307.0M201.8 334.1C203.7 330.9 209.2 321.2 213.0 314.8C216.9 308.5 223.0 299.1 225.0 296.0M202.9 333.0C203.7 329.9 205.4 320.1 207.9 314.1C210.4 308.1 216.2 300.0 217.8 297.2M200.5 328.0C201.4 324.6 203.1 314.3 205.7 307.9C208.2 301.6 214.3 293.0 216.0 290.0M199.9 326.9C201.2 324.1 205.3 315.7 207.3 309.9C209.3 304.1 211.2 295.0 212.0 292.0M198.2 324.1C199.1 321.0 201.4 311.6 203.2 305.4C204.9 299.2 207.8 290.0 208.7 286.9M199.8 334.5C200.6 331.3 203.8 321.7 204.5 315.2C205.3 308.7 204.4 298.7 204.4 295.4M201.7 329.9C201.4 327.2 200.1 319.3 199.7 314.0C199.2 308.7 199.1 300.7 199.0 298.0M198.4 332.6C198.2 330.2 197.7 322.9 197.0 318.1C196.3 313.4 194.6 306.3 194.1 303.9M200.2 337.5C199.6 335.4 197.3 329.2 196.6 325.0C195.9 320.8 196.1 314.2 196.0 312.0M202.8 336.4C202.1 334.1 199.9 327.1 198.3 322.5C196.6 317.9 193.8 311.1 192.9 308.8M198.9 333.5C198.1 332.4 195.5 329.3 194.0 327.0C192.5 324.8 190.7 321.2 190.0 320.0M201.5 335.9C200.5 335.9 197.7 335.9 195.8 335.9C194.0 335.9 191.1 335.9 190.2 335.9M198.8 348.0C199.0 349.6 199.6 354.4 200.0 357.7C200.3 360.9 200.9 365.7 201.0 367.4M200.4 348.9C200.7 351.0 201.5 357.3 201.8 361.6C202.0 365.8 201.7 372.2 201.7 374.3M200.0 346.5C200.6 349.3 203.2 357.6 203.8 363.2C204.4 368.8 203.7 377.4 203.6 380.2M200.9 345.4C201.4 348.7 202.8 358.7 203.9 365.3C204.9 371.9 206.5 381.8 207.0 385.1M202.7 350.4C203.1 353.3 203.7 362.0 205.0 367.7C206.3 373.3 209.6 381.4 210.5 384.1M200.0 345.3C201.2 347.9 204.9 355.7 207.1 361.0C209.3 366.3 212.2 374.4 213.2 377.1M199.2 350.0C201.2 353.0 207.9 361.4 210.8 367.8C213.7 374.1 215.7 384.8 216.7 388.2M200.2 349.0C201.9 352.1 207.3 361.2 210.4 367.5C213.5 373.9 217.5 383.7 218.9 386.9M198.1 341.5C199.8 344.5 204.9 353.5 208.5 359.3C212.2 365.1 218.1 373.6 220.0 376.4M200.1 347.6C202.2 349.8 208.2 356.7 212.7 360.6C217.3 364.5 225.1 369.4 227.5 371.1M201.0 338.7C203.6 341.0 211.8 347.3 216.6 352.2C221.3 357.2 227.4 365.6 229.6 368.3M199.9 338.9C202.5 340.9 210.6 346.5 215.6 350.7C220.6 354.8 227.6 361.7 230.0 363.9M199.8 346.3C202.3 347.4 209.9 350.3 214.6 353.0C219.2 355.7 225.5 361.0 227.7 362.6M199.9 335.7C202.4 337.0 210.0 340.7 214.8 343.6C219.6 346.5 226.4 351.5 228.7 353.1M200.8 336.3C203.8 337.8 212.9 342.7 219.1 345.5C225.3 348.4 234.9 352.0 238.1 353.3M199.8 344.0C203.4 344.3 214.4 345.7 221.7 346.0C229.1 346.3 240.1 345.8 243.8 345.7M202.4 336.2C206.1 337.2 217.0 340.6 224.4 341.9C231.8 343.2 243.2 343.7 247.0 344.1M202.6 341.1C205.5 340.5 214.0 337.8 219.8 337.2C225.6 336.6 234.5 337.4 237.4 337.4M200.1 334.5C203.4 334.8 213.5 336.1 220.2 336.2C227.0 336.4 237.1 335.6 240.4 335.5M201.8 336.7C204.7 335.8 213.3 332.1 219.3 331.0C225.3 329.9 234.7 330.3 237.8 330.2M199.2 331.5C202.8 331.4 213.5 331.5 220.5 330.8C227.6 330.1 238.0 327.7 241.5 327.1M199.5 334.1C203.0 333.5 213.9 332.2 220.7 330.1C227.6 328.1 237.4 323.2 240.7 321.8M199.2 330.3C202.4 329.0 211.5 324.2 218.0 322.7C224.4 321.1 234.7 321.3 238.1 321.0M202.9 329.4C205.5 327.7 213.2 321.8 218.8 318.8C224.4 315.8 233.5 312.6 236.4 311.3M199.5 333.5C201.9 331.3 208.9 324.6 213.8 320.4C218.7 316.2 226.4 310.4 229.0 308.4M198.1 330.8C200.6 328.4 207.6 320.6 212.9 316.2C218.3 311.8 227.2 306.4 230.1 304.4M199.4 329.2C201.5 327.0 208.2 320.7 212.3 316.0C216.3 311.4 221.7 303.9 223.6 301.4M199.9 328.8C202.3 326.5 209.9 319.6 214.3 314.6C218.8 309.5 224.7 301.1 226.7 298.4M198.9 331.9C200.4 328.9 204.4 319.5 208.0 313.9C211.5 308.2 218.4 300.7 220.5 298.0M202.5 332.2C203.8 329.1 208.2 320.1 210.3 313.8C212.3 307.5 213.9 297.6 214.6 294.3M202.5 326.1C203.8 323.3 208.2 315.3 210.5 309.6C212.9 304.0 215.5 295.1 216.5 292.2M199.9 331.3C200.7 327.8 202.7 317.4 204.6 310.6C206.5 303.8 210.1 293.9 211.3 290.5M201.5 329.2C202.6 326.0 206.6 316.6 207.8 310.1C209.0 303.6 208.5 293.4 208.6 290.0M199.9 329.4C200.2 326.7 201.9 318.4 201.8 312.9C201.7 307.4 199.7 299.2 199.3 296.5M198.5 334.7C198.4 332.1 198.2 324.2 198.2 319.0C198.1 313.7 198.3 305.8 198.4 303.2M202.4 335.0C201.4 332.6 197.8 325.3 196.4 320.2C195.0 315.1 194.3 307.1 193.9 304.4M198.8 333.9C198.4 331.7 197.8 325.0 196.6 320.7C195.4 316.4 192.5 310.3 191.7 308.2M198.9 338.7C198.1 336.8 195.7 331.1 194.0 327.3C192.4 323.5 189.8 317.9 189.0 316.0M201.0 337.8C200.0 337.0 196.7 334.8 194.6 333.3C192.4 331.8 189.2 329.5 188.1 328.8" fill="none" stroke="#c81a22" stroke-width="0.95" stroke-linecap="round"/>
<path d="M209.0 388.0 208.8 387.5 208.6 386.8 208.4 386.1 208.1 385.3 207.8 384.5 207.5 383.5 207.4 383.3M211.0 372.0 210.8 371.6 210.5 371.2 210.2 370.7 209.9 370.2 209.5 369.6 209.2 369.0 208.8 368.3 208.4 367.7M219.6 393.2 219.4 392.6 219.2 391.9 218.9 391.1 218.7 390.2 218.4 389.3 218.1 388.4M217.0 377.0 216.8 376.5 216.5 376.0 216.2 375.3 215.9 374.6 215.5 373.8 215.1 373.0 214.9 372.5M235.0 371.9 234.5 371.6 233.9 371.2 233.3 370.7 232.6 370.3 231.8 369.7 231.0 369.2 230.9 369.1M233.0 350.0 232.6 349.9 232.1 349.8 231.5 349.8 230.9 349.6 230.2 349.5 229.4 349.4 228.7 349.3 228.1 349.2M244.6 346.2 244.0 346.1 243.3 345.9 242.5 345.7 241.6 345.5 240.6 345.3 239.7 345.0M243.0 341.0 242.4 341.0 241.8 341.0 241.0 341.0 240.2 341.0 239.3 341.0 238.3 341.1 238.0 341.1M238.0 339.6 237.5 339.5 236.9 339.4 236.2 339.2 235.5 339.0 234.7 338.8 233.8 338.6 233.1 338.5M241.0 335.0 240.5 335.1 239.8 335.3 239.1 335.5 238.4 335.7 237.5 335.9 236.6 336.2 236.2 336.3M239.2 328.3 238.7 328.5 238.0 328.8 237.3 329.1 236.6 329.5 235.7 329.9 234.8 330.3 234.7 330.4M240.0 325.0 239.5 325.1 238.8 325.2 238.1 325.3 237.3 325.4 236.5 325.5 235.6 325.7 235.1 325.7M237.9 321.0 237.4 321.3 236.8 321.6 236.1 321.9 235.3 322.3 234.5 322.7 233.6 323.2 233.4 323.3M236.7 313.7 236.2 313.9 235.5 314.2 234.8 314.4 234.0 314.7 233.2 315.0 232.3 315.4 232.0 315.5M235.5 305.1 235.0 305.4 234.4 305.7 233.7 306.1 233.0 306.5 232.1 306.9 231.2 307.4 231.1 307.5M225.0 296.0 224.7 296.5 224.3 297.1 223.8 297.8 223.4 298.6 222.8 299.4 222.3 300.2M212.0 292.0 211.9 292.5 211.7 293.1 211.6 293.7 211.4 294.5 211.2 295.2 211.0 296.1 210.8 296.9M208.7 286.9 208.5 287.4 208.4 288.0 208.2 288.7 207.9 289.4 207.7 290.2 207.4 291.1 207.2 291.7M204.4 295.4 204.4 295.9 204.4 296.6 204.5 297.3 204.5 298.1 204.5 299.0 204.6 299.9 204.6 300.4M194.1 303.9 194.2 304.3 194.3 304.7 194.4 305.3 194.5 305.8 194.7 306.5 194.8 307.1 195.0 307.8 195.1 308.6 195.2 308.8M196.0 312.0 196.0 312.4 196.0 312.8 196.0 313.3 196.0 313.8 196.0 314.3 196.0 315.0 196.0 315.6 196.0 316.3 196.0 317.0 196.0 317.0M192.9 308.8 193.0 309.2 193.2 309.6 193.4 310.1 193.6 310.7 193.9 311.3 194.1 311.9 194.4 312.6 194.7 313.3 194.8 313.4M190.0 320.0 190.1 320.2 190.2 320.4 190.4 320.7 190.5 321.0 190.7 321.3 190.9 321.6 191.1 322.0 191.3 322.3 191.5 322.7 191.7 323.1 191.9 323.5 192.1 323.9 192.4 324.3 192.4 324.4M190.2 335.9 190.4 335.9 190.5 335.9 190.7 335.9 191.0 335.9 191.2 335.9 191.5 335.9 191.8 335.9 192.0 335.9 192.3 335.9 192.7 335.9 193.0 335.9 193.3 335.9 193.6 335.9 194.0 335.9 194.3 335.9 194.6 335.9 194.9 335.9 195.2 335.9M207.0 385.1 207.0 384.6 206.9 384.0 206.7 383.2 206.6 382.4 206.5 381.6 206.3 380.6 206.2 380.2M210.5 384.1 210.3 383.7 210.1 383.2 209.9 382.6 209.7 381.9 209.4 381.2 209.1 380.4 208.8 379.6 208.8 379.4M216.7 388.2 216.5 387.6 216.4 386.9 216.2 386.2 216.0 385.4 215.8 384.4 215.5 383.5 215.5 383.3M218.9 386.9 218.7 386.4 218.4 385.8 218.1 385.1 217.8 384.3 217.4 383.4 217.0 382.5 217.0 382.3M220.0 376.4 219.7 376.0 219.3 375.4 218.9 374.8 218.4 374.1 217.9 373.4 217.4 372.6 217.2 372.3M230.0 363.9 229.6 363.6 229.1 363.1 228.6 362.6 228.0 362.1 227.4 361.5 226.8 360.9 226.3 360.5M227.7 362.6 227.3 362.3 226.9 362.0 226.5 361.6 225.9 361.2 225.4 360.8 224.8 360.3 224.1 359.8 223.7 359.5M228.7 353.1 228.3 352.8 227.9 352.5 227.4 352.2 226.9 351.8 226.3 351.4 225.6 350.9 224.9 350.4 224.7 350.2M238.1 353.3 237.6 353.1 236.9 352.9 236.2 352.6 235.5 352.3 234.6 351.9 233.8 351.6 233.4 351.5M243.8 345.7 243.2 345.8 242.5 345.8 241.7 345.8 240.8 345.8 239.8 345.8 238.8 345.9M247.0 344.1 246.4 344.0 245.6 344.0 244.8 343.9 243.9 343.8 242.9 343.8 242.0 343.7M240.4 335.5 239.9 335.5 239.2 335.6 238.5 335.6 237.7 335.7 236.8 335.7 235.9 335.8 235.4 335.8M237.8 330.2 237.3 330.2 236.7 330.2 236.0 330.2 235.2 330.2 234.4 330.2 233.6 330.2 232.8 330.2M241.5 327.1 240.9 327.2 240.2 327.3 239.5 327.5 238.6 327.6 237.7 327.8 236.7 328.0 236.6 328.0M238.1 321.0 237.5 321.0 236.9 321.1 236.2 321.1 235.3 321.1 234.4 321.2 233.5 321.2 233.1 321.2M230.1 304.4 229.6 304.7 229.1 305.1 228.4 305.5 227.7 305.9 226.9 306.4 226.1 307.0 225.9 307.1M223.6 301.4 223.3 301.8 222.9 302.3 222.5 302.9 222.1 303.4 221.6 304.1 221.1 304.8 220.6 305.4M226.7 298.4 226.4 298.9 226.0 299.4 225.6 300.0 225.1 300.7 224.5 301.4 224.0 302.1 223.8 302.5M220.5 298.0 220.1 298.5 219.7 299.0 219.2 299.5 218.7 300.2 218.1 300.8 217.5 301.6 217.3 301.9M214.6 294.3 214.5 294.9 214.4 295.5 214.2 296.2 214.1 297.0 213.9 297.9 213.8 298.8 213.7 299.3M216.5 292.2 216.3 292.7 216.1 293.3 215.9 293.9 215.7 294.6 215.5 295.4 215.2 296.2 214.9 297.0M211.3 290.5 211.1 291.1 210.9 291.7 210.6 292.4 210.3 293.2 210.0 294.1 209.7 295.0 209.6 295.2M208.6 290.0 208.6 290.6 208.6 291.2 208.6 291.9 208.6 292.8 208.6 293.6 208.6 294.6 208.6 295.0M199.3 296.5 199.4 296.9 199.5 297.5 199.6 298.1 199.7 298.7 199.9 299.4 200.0 300.2 200.2 301.0 200.2 301.4M198.4 303.2 198.4 303.6 198.3 304.1 198.3 304.7 198.3 305.3 198.3 306.0 198.3 306.8 198.3 307.5 198.3 308.2M193.9 304.4 193.9 304.9 194.0 305.4 194.1 305.9 194.1 306.6 194.2 307.3 194.3 308.0 194.4 308.8 194.5 309.4M191.7 308.2 191.8 308.6 192.0 309.0 192.2 309.4 192.4 309.9 192.6 310.5 192.9 311.0 193.2 311.6 193.4 312.3 193.7 312.8" fill="none" stroke="#1a1a1a" stroke-width="1.90" stroke-linecap="round"/>
<ellipse cx="396" cy="285" rx="7" ry="10" fill="#900c12"/>
<path d="M395.5 286.0 396.8 284.5 398.9 282.3 400.9 280.0 402.2 278.5 403.5 277.0 405.4 274.7 407.2 272.3 408.3 270.6 409.2 268.9 410.3 266.1 410.9 263.3 411.0 261.3 410.9 259.4 410.5 256.5 409.6 253.6 408.9 251.7 408.1 249.9 406.6 247.3 405.0 244.8 403.8 243.2 402.6 241.7 400.5 239.5 398.3 237.4 396.8 236.2 395.2 235.0 392.7 233.3 390.1 231.8 388.3 230.9 386.5 230.0 383.7 228.8 380.9 227.7 379.1 227.1 377.1 226.5 374.2 225.7 371.3 225.1 369.3 224.8 367.3 224.5 364.4 224.2 361.4 223.9 359.4 223.8 357.4 223.7 354.3 223.6 351.3 223.5 349.3 223.5 347.3 223.5 344.3 223.5 341.3 223.6 339.3 223.7 337.3 223.9 334.4 224.3 331.4 224.9 329.5 225.5 327.6 226.1 324.8 227.1 322.0 228.3 320.2 229.1 318.3 229.9 315.6 231.2 312.9 232.5 311.1 233.4 309.4 234.4 306.8 235.9 304.2 237.5 302.6 238.6 300.9 239.7 298.6 241.6 296.3 243.5 294.8 244.9 293.4 246.4 291.4 248.6 289.5 250.9 288.3 252.5 287.2 254.1 285.5 256.6 284.0 259.2 283.0 261.0 282.1 262.8 280.8 265.5 279.8 268.3 279.2 270.2 278.7 272.1 278.1 275.1 277.6 278.0 277.3 280.0 277.1 282.0 276.8 285.0 276.6 288.0 276.6 290.0 276.6 292.0 276.7 295.0 276.9 298.0 277.1 300.0 277.3 302.0 277.6 305.0M395.5 286.0 397.5 283.8 398.9 282.3 400.8 280.0 402.1 278.5 404.0 276.2 405.1 274.5 406.7 272.0 407.6 270.2 408.6 267.4 409.2 265.5 409.7 262.6 409.8 260.7 409.5 257.7 409.2 255.8 408.3 253.0 407.5 251.2 406.1 248.6 405.0 246.9 403.1 244.6 401.7 243.2 399.4 241.3 397.8 240.2 395.2 238.6 393.5 237.7 390.8 236.4 389.0 235.5 386.2 234.3 384.4 233.5 381.6 232.4 379.7 231.7 376.9 230.7 375.0 230.1 372.1 229.4 370.1 229.0 367.2 228.5 365.2 228.3 362.2 228.0 360.2 227.9 357.2 227.9 355.2 227.9 352.2 228.0 350.2 228.1 347.2 228.2 345.2 228.4 342.2 228.8 339.3 229.2 337.3 229.5 334.3 230.1 332.4 230.5 329.5 231.2 327.5 231.7 324.6 232.5 322.7 233.1 319.9 234.0 318.0 234.7 315.2 235.8 313.3 236.5 310.6 237.8 308.9 238.7 306.2 240.2 304.5 241.2 302.0 242.8 300.3 244.0 298.0 245.8 296.4 247.0 294.2 249.0 292.8 250.5 290.8 252.7 289.6 254.3 287.9 256.7 286.8 258.4 285.4 261.1 284.5 262.9 283.3 265.6 282.6 267.5 281.7 270.3 281.2 272.2 280.5 275.2 280.1 277.1 279.7 280.1 279.4 282.1 279.2 285.1 279.1 287.0 279.1 290.0 279.2 292.0 279.5 295.0 279.7 297.0 280.0 300.0M395.5 286.0 397.0 283.4 397.9 281.6 399.4 279.0 400.4 277.3 402.0 274.7 403.1 273.1 405.0 270.8 406.4 269.4 408.7 267.6 410.2 266.5 412.3 264.7 413.3 263.2 414.0 260.7 413.9 258.0 413.5 256.1 412.5 253.3 411.8 251.5 410.4 248.8 409.5 247.0 407.9 244.5 406.7 242.9 404.7 240.6 403.3 239.2 401.1 237.2 399.6 236.0 397.2 234.1 395.6 232.9 393.2 231.1M395.5 286.0 396.8 283.3 397.6 281.5 398.9 278.7 399.7 276.9 401.0 274.2 401.7 272.4 402.8 269.6 403.4 267.7 404.2 264.8 404.5 262.9 404.5 259.9 404.2 258.0 403.4 255.2 402.6 253.4 401.0 250.9 399.8 249.4 397.8 247.2 396.3 245.9 393.9 244.2 392.1 243.2 389.4 242.0 387.6 241.2 384.8 240.2 382.9 239.7 380.0 238.9 378.0 238.5 375.1 237.9 373.1 237.6 370.1 237.2 368.1 237.0 365.1 236.9 363.1 236.8 360.1 236.8 358.2 236.9 355.2 237.2 353.2 237.4 350.2 237.8 348.2 238.1 345.3 238.6 343.3 239.0 340.4 239.6 337.4 240.3 335.5 240.8 332.6 241.6 330.7 242.1 327.8 243.0 325.9 243.7 323.1 244.7 321.2 245.4 318.4 246.5 316.6 247.2 313.9 248.5 312.1 249.4 309.5 250.9 307.9 252.0 305.4 253.8 303.8 255.0 301.5 256.9 300.0 258.2 297.8 260.2 296.3 261.6 294.2 263.7 292.9 265.2 290.9 267.4 289.7 269.0 288.0 271.5 286.9 273.2 285.5 275.8 284.7 277.6 283.6 280.4 283.0 282.3 282.2 285.2 281.8 287.1 281.3 290.1 281.2 292.0 281.0 295.0 281.1 297.0 281.2 300.0 281.3 302.0 281.6 305.0 281.7 307.0 282.0 310.0M395.5 286.0 396.4 283.1 397.0 281.2 397.8 278.3 398.3 276.4 399.0 273.5 399.4 271.5 399.7 268.5 399.8 266.6 399.7 263.6 399.5 261.6 399.0 258.6 398.6 256.7 397.9 253.7 397.4 251.8 396.4 249.0 395.7 247.1 394.4 244.4 392.9 241.9 391.6 240.4 389.5 238.5 387.8 237.5 385.1 236.3 383.2 235.8 380.3 235.1 378.4 234.8 375.4 234.2 373.4 233.9 370.5 233.3 368.5 232.9 365.6 232.4 363.6 232.1 360.6 231.6 358.6 231.3 355.7 230.8 353.7 230.5 350.7 230.1M395.5 286.0 396.9 283.3 397.8 281.5 399.1 278.8 399.9 277.0 400.9 274.2 401.3 272.2 401.6 269.3 401.5 267.4 401.0 264.4 400.5 262.5 399.4 259.7 398.6 257.9 397.2 255.2 396.2 253.5 394.4 251.1 393.2 249.5 391.1 247.3 389.6 246.0 387.3 244.1 385.6 243.0 383.1 241.4 381.4 240.4 378.7 239.0 376.9 238.1 374.1 236.8 372.3 236.1 369.5 235.0 367.6 234.3 364.7 233.4 362.8 232.8 359.9 232.1 357.9 231.7 354.9 231.2 352.9 231.0 349.9 230.7 347.9 230.6 344.9 230.6 342.9 230.7 339.9 230.8 337.9 231.0 334.9 231.3 332.9 231.6 329.9 232.1 327.9 232.4 325.0 233.1 323.0 233.5 320.1 234.2 318.2 234.8 315.3 235.7 313.4 236.3 310.5 237.3 308.7 238.0 305.9 239.2 304.1 240.0 301.4 241.4 299.7 242.5 297.2 244.2 295.6 245.4 293.4 247.4 292.0 248.9 289.9 251.1 288.6 252.6 286.6 254.9 285.3 256.4 283.4 258.7M394.5 284.0 393.3 282.5 391.2 280.5 388.8 279.1 387.0 278.4 385.1 277.9 382.1 277.5 379.1 277.2 377.1 277.0 375.1 276.9 372.1 276.7 369.1 276.6 367.1 276.5 365.1 276.5 362.0 276.4 359.0 276.3 357.0 276.2 355.0 276.2 352.0 276.2 349.0 276.2 346.9 276.2 344.9 276.2 341.9 276.3 338.9 276.5 336.9 276.6 334.9 276.8 331.9 277.2 328.9 277.6 326.9 277.9 324.9 278.2 322.0 278.7 319.0 279.3 317.0 279.6 315.0 280.0 312.0 280.5 309.1 281.0 307.1 281.4 305.1 281.8 302.2 282.6 299.3 283.4 297.4 284.1 295.5 284.8 292.7 285.9 290.0 287.2 288.3 288.2 286.7 289.3 284.6 291.3 282.8 293.7 281.9 295.4 281.1 297.2 280.0 300.0M394.5 284.0 394.2 286.0 393.7 289.0 393.3 290.9 392.7 293.9 392.1 295.8 391.1 298.6 390.1 300.3 388.4 302.6 386.9 304.0 384.5 305.7 382.8 306.6 380.1 307.8 378.2 308.6 375.3 309.5 373.4 310.2 370.5 311.1 368.6 311.7 365.7 312.6 363.8 313.1 360.9 314.0 359.0 314.6 356.1 315.4 354.1 316.0 351.2 316.7 349.3 317.2 346.3 318.0 344.4 318.4 341.4 319.1 339.5 319.6 336.5 320.3 334.5 320.7 331.6 321.3 329.6 321.6 326.6 322.2 324.6 322.5 321.7 323.0 319.7 323.3 316.7 323.7 314.7 324.0 311.7 324.3 309.7 324.6 306.7 324.9 304.7 325.1 301.7 325.4 299.7 325.8 296.7 326.3 294.7 326.7 291.8 327.3 289.8 327.7 286.9 328.4 284.9 328.9 282.0 329.5 280.0 330.0M394.5 284.0 393.7 281.1 393.1 279.2 392.1 276.3 391.4 274.5 390.1 271.8 389.1 270.1 387.2 267.8 385.8 266.5 383.4 264.7 381.7 263.8 379.0 262.6 377.1 261.9 374.2 261.1 372.2 260.6 369.3 260.0 367.3 259.6 364.3 259.2 361.3 258.8 359.3 258.5 356.3 258.2 354.3 258.1 351.3 257.8 349.3 257.7 346.3 257.6 344.3 257.6 341.3 257.6 339.3 257.7 336.2 257.8 334.2 257.9 331.2 258.2 329.2 258.3 326.2 258.6 323.2 259.0 321.2 259.2 318.2 259.6 316.2 259.9 313.3 260.5 311.3 260.8 308.4 261.5 306.4 262.0 303.6 263.0 301.7 263.7 299.0 265.0 297.3 266.0 294.8 267.6 293.2 268.8 290.8 270.7 289.3 272.0 287.0 274.0M395.5 286.0 394.2 287.5 392.3 289.8 390.4 292.2 389.1 293.7 387.8 295.2 385.9 297.5 383.9 299.8 382.6 301.3 381.2 302.7 379.0 304.8 376.8 306.8 375.2 308.0 373.6 309.2 371.1 310.7 368.4 312.1 366.6 312.9 364.7 313.7 361.9 314.7 359.0 315.5 357.1 316.1 355.2 316.6 352.3 317.3 349.3 318.0 347.4 318.4 345.4 318.8 342.5 319.4 339.5 319.9 337.5 320.1 335.5 320.3 332.6 320.5 329.6 320.9 327.6 321.2 325.6 321.5 322.7 322.1 319.8 322.7 317.8 323.2 315.9 323.7 312.9 324.4 310.0 325.1 308.1 325.6 306.1 326.0 303.2 326.7 300.3 327.4 298.3 327.8 296.3 328.1 293.4 328.6 290.4 329.1 288.4 329.4 286.4 329.6 283.5 330.0 280.5 330.4 278.5 330.6M320.0 292.0 317.1 292.9 315.2 293.5 312.3 294.3 310.4 294.9 307.5 295.7 305.6 296.3 302.7 297.1 300.8 297.6 297.9 298.5 296.1 299.2 293.4 300.5 291.7 301.5 289.2 303.2 287.6 304.4 285.2 306.2 283.7 307.5 281.4 309.4 279.9 310.7 277.6 312.7M319.0 296.0 316.1 296.7 314.1 297.2 311.2 298.1 309.3 298.7 306.5 299.7 303.8 301.0 302.2 302.0 300.0 303.9 298.7 305.4 297.1 307.9 296.1 309.6 294.8 312.3 293.4 315.0 292.5 316.8 291.1 319.5 290.2 321.3 288.9 324.0M395.5 286.0 396.2 289.0 396.6 290.9 397.3 293.9 397.7 295.9 398.4 298.8 398.8 300.8 399.4 303.8 399.7 305.7 400.3 308.7 400.6 310.7 401.2 313.7 401.5 315.7 402.0 318.7 402.3 320.7 402.7 323.7 403.0 325.7 403.3 328.7 403.5 331.7 403.6 333.7 403.5 336.7 403.3 338.7 402.8 341.7 402.2 343.6 401.1 346.4 400.3 348.2 398.9 350.9 397.9 352.7 396.4 355.3 395.4 357.0 393.8 359.6 392.7 361.3 391.1 363.9 390.1 365.6 388.5 368.2M395.5 286.0 396.6 288.8 397.3 290.7 398.3 293.6 399.0 295.4 400.1 298.3 400.7 300.2 401.7 303.0 402.3 305.0 403.2 307.9 403.7 309.8 404.4 312.7 404.8 314.7 405.3 317.7 405.6 319.7 405.9 322.7 406.1 324.7 406.3 327.7 406.4 329.7 406.5 332.7 406.5 334.8 406.4 337.8 406.2 339.8 405.8 342.7 405.4 344.7 404.4 347.5 403.6 349.3 402.1 351.9 400.9 353.5 398.9 355.7 397.5 357.2 395.4 359.3 394.0 360.8 391.9 362.9 390.5 364.4 388.3 366.5 386.9 367.9 384.7 370.0M395.5 286.0 395.8 288.0 396.2 291.0 396.7 294.0 396.9 295.9 397.2 297.9 397.6 300.9 397.8 303.9 397.9 305.9 398.0 307.9 397.8 310.9 397.5 313.9 397.1 315.9 396.6 317.8 395.6 320.6 394.3 323.3 393.4 325.1 392.3 326.7 390.4 329.0 388.2 331.1 386.6 332.2 385.0 333.3 382.3 334.6 379.5 335.8 377.6 336.5 375.7 337.1 372.9 338.0 370.0 338.8 368.0 339.2 366.0 339.6 363.1 340.3 360.3 341.2 358.4 342.0 356.6 342.8 354.0 344.3 351.3 345.7 349.6 346.6 347.8 347.5 345.0 348.8 342.2 349.9 340.4 350.7 338.5 351.4 335.7 352.5 332.8 353.5 330.9 354.2 329.0 354.8 326.2 355.7 323.3 356.5 321.3 357.0 319.4 357.4 316.4 357.9 313.4 358.1 311.4 358.1 309.4 358.0 306.4 357.8 303.4 357.3 301.5 357.0 299.5 356.7 296.5 356.2M395.5 286.0 396.3 287.8 397.5 290.6 398.8 293.3 399.6 295.1 400.4 297.0 401.6 299.7 402.8 302.5 403.6 304.3 404.3 306.2 405.3 309.0 406.2 311.9 406.7 313.8 407.2 315.7 407.6 318.7 407.9 321.7 407.9 323.7 407.8 325.7 407.6 328.6 407.1 331.6 406.8 333.6 406.3 335.5 405.6 338.4 404.7 341.3 404.0 343.2 403.3 345.0 402.1 347.8 400.7 350.4 399.6 352.1 398.5 353.7 396.5 355.9 394.3 357.9 392.8 359.1 391.1 360.3 388.6 361.8 385.9 363.2 384.1 364.1 382.3 364.9 379.5 366.1 376.7 367.1 374.8 367.7 372.9 368.2 370.0 368.9 367.0 369.4 365.0 369.7 363.0 369.9 360.0 370.2 357.1 370.3 355.1 370.3 353.1 370.2 350.1 370.0 347.1 369.6 345.1 369.3 343.1 369.0 340.2 368.5 337.2 367.9 335.3 367.5 333.3 367.1 330.4 366.5 327.5 365.8 325.5 365.3 323.6 364.9 320.6 364.1 317.7 363.4 315.8 362.8 313.9 362.2 311.1 361.2 308.3 360.1 306.6 359.2 304.8 358.2 302.3 356.6 299.8 354.9 298.3 353.6 296.7 352.3 294.5 350.3 292.4 348.2 291.1 346.7 289.8 345.2 287.9 342.9 286.1 340.5 285.0 338.8 284.0 337.1 282.7 334.4 281.6 331.6 281.0 329.7 280.5 327.8 279.8 324.9 279.4 321.9 279.1 319.9 278.9 318.0 278.5 315.0 278.3 312.0 278.1 310.0 277.9 308.0 277.6 305.0M395.5 286.0 397.5 285.5 400.4 284.7 402.4 284.2 405.3 283.4 407.3 282.8 410.2 281.9 412.1 281.2 415.0 280.1 416.8 279.3 419.6 278.0 421.3 277.0 423.7 275.3 425.1 273.9 426.7 271.5 427.4 269.8 427.9 267.0 428.0 265.0M395.5 286.0 398.5 286.1 400.5 286.1 403.6 286.1 405.6 286.1 408.6 286.0 410.6 285.9 413.6 285.6 416.6 285.2 418.6 284.8 421.5 284.1 423.3 283.3 426.0 281.9 427.6 280.8 430.0 279.0M395.5 286.0 398.4 287.0 400.3 287.6 403.1 288.6 405.1 289.3 407.9 290.3 409.8 290.9 412.7 291.9 415.5 292.9 417.4 293.6 420.0 295.0 421.6 296.1 423.8 298.1 425.1 299.6 427.0 302.0M395.5 286.0 397.0 287.4 399.3 289.4 400.8 290.7 403.1 292.7 404.6 294.1 406.9 296.0 408.5 297.2 410.9 299.1 412.6 300.2 415.0 302.0 416.6 303.3 418.8 305.3 420.2 306.8 422.1 309.1 423.2 310.8 424.9 313.3 426.0 315.0M395.5 286.0 397.1 288.6 398.1 290.3 399.7 292.9 400.8 294.6 402.4 297.1 403.5 298.7 405.3 301.2 406.6 302.7 408.6 305.0 409.9 306.5 412.0 308.7 413.3 310.2 415.1 312.5 416.3 314.2 417.9 316.7 418.9 318.4 420.4 321.1 421.4 322.8 422.7 325.5 423.7 327.3 425.0 330.0M395.5 286.0 397.6 283.8 399.0 282.3 401.1 280.0 402.5 278.6 404.7 276.4 406.2 275.0 408.5 272.9 410.0 271.6 412.2 269.4 413.6 268.0 415.6 265.6 416.9 264.1 419.0 262.0 420.5 260.7 423.0 259.0M395.5 286.0 398.1 284.6 399.9 283.6 402.6 282.1 405.2 280.6 406.9 279.6 409.5 278.0 412.0 276.3 413.6 275.2 416.0 273.4 418.4 271.4 419.8 270.1 422.0 268.0M395.5 286.0 397.2 287.0 399.8 288.5 402.4 290.1 404.1 291.1 405.9 292.1 408.5 293.6 411.1 295.1 412.7 296.2 414.3 297.3 416.4 299.3 418.1 301.7 418.9 303.5 419.6 305.3 420.3 308.2 420.6 311.1 420.6 313.1 420.4 315.0 420.0 318.0M395.5 286.0 393.7 283.5 392.5 281.9 390.7 279.5 389.5 277.8 387.7 275.4 386.5 273.7 384.7 271.3 383.5 269.7 381.7 267.2 380.4 265.6 378.5 263.3 377.2 261.7 375.2 259.4 373.9 257.9 371.8 255.7M395.5 286.0 394.5 283.2 393.8 281.3 392.8 278.4 391.8 275.6 391.1 273.7 390.1 270.9 389.4 269.0 388.4 266.1 387.5 263.3 386.9 261.4 386.0 258.5M395.5 286.0 395.4 284.0 395.4 280.9 395.3 278.9 395.2 275.8 395.2 273.8 395.1 270.7 395.0 268.7 394.9 265.6 394.8 263.6 394.6 260.5 394.5 258.5M395.5 286.0 396.0 284.0 396.8 281.0 397.3 279.0 398.1 276.0 398.6 274.1 399.3 271.0 399.7 269.0 400.3 266.0 400.6 264.0 401.1 260.9 401.4 258.9 401.7 255.8 402.0 253.8M395.5 286.0 397.7 288.1 399.2 289.4 401.5 291.5 402.9 292.9 405.1 295.0 406.5 296.4 408.6 298.6 410.0 300.1 412.0 302.4 413.2 304.0 415.1 306.4 416.2 308.0 417.7 310.6 418.6 312.4 419.5 315.2 419.8 317.2 419.8 320.1 419.6 322.1 419.1 325.1 418.7 327.0 418.0 330.0M395.5 286.0 398.4 286.9 400.4 287.5 403.3 288.4 405.2 289.1 408.0 290.2 409.8 291.1 412.5 292.6 414.1 293.8 416.5 295.7 417.9 297.1 420.0 299.3 421.2 300.9 422.7 303.5 423.3 305.3 423.8 308.2 423.8 310.1 423.3 313.1 422.8 315.1 422.0 318.0M395.5 286.0 396.8 284.5 398.8 282.2 400.8 280.0 402.1 278.5 403.3 276.9 405.2 274.6 406.8 272.1 407.8 270.4 408.6 268.6 409.3 265.8 409.6 262.9 409.4 261.0 409.0 259.0 408.1 256.2 406.9 253.5 406.0 251.8 404.9 250.1 403.2 247.6 401.4 245.2 400.1 243.7 398.7 242.3 396.6 240.2 394.3 238.3 392.6 237.2 391.0 236.1 388.4 234.6 385.7 233.3 383.9 232.4 382.0 231.6 379.2 230.6 376.4 229.6 374.5 229.1 372.5 228.7 369.6 228.1 366.6 227.7 364.6 227.4 362.7 227.3 359.7 227.0 356.7 226.9 354.7 226.8 352.7 226.8 349.7 226.7 346.7 226.7 344.7 226.7 342.7 226.8 339.7 226.9 336.7 227.2 334.7 227.6 332.8 228.0 329.9 228.8 327.1 229.8 325.2 230.5 323.4 231.3 320.7 232.5 317.9 233.8 316.1 234.6 314.3 235.5 311.7 236.9 309.1 238.4 307.4 239.5 305.7 240.5 303.3 242.2 300.9 244.1 299.4 245.4 297.9 246.8 295.8 248.9 293.8 251.1 292.6 252.7 291.4 254.3 289.6 256.7 288.0 259.2 287.0 260.9 286.0 262.7 284.7 265.4 283.6 268.1 282.9 270.0 282.3 271.9 281.7 274.8 281.1 277.8 280.8 279.8 280.6 281.7 280.3 284.7 280.1 287.7 280.0 289.7 280.0 291.7 280.1 294.7 280.3 297.7 280.5 299.7 280.7 301.7 281.0 304.7M395.5 286.0 397.4 283.7 398.7 282.2 400.6 279.9 401.9 278.3 403.6 275.9 404.6 274.2 406.0 271.5 406.7 269.7 407.4 266.8 407.6 264.9 407.5 261.9 407.2 260.0 406.4 257.2 405.6 255.4 404.1 252.8 403.0 251.2 401.0 248.9 399.7 247.5 397.4 245.6 395.8 244.4 393.3 242.8 391.5 241.8 388.9 240.5 386.1 239.2 384.3 238.4 381.6 237.2 379.7 236.5 376.9 235.4 375.0 234.8 372.1 234.0 370.2 233.6 367.2 233.0 365.2 232.8 362.2 232.5 360.2 232.4 357.2 232.3 355.2 232.3 352.2 232.4 350.2 232.5 347.3 232.7 345.3 232.9 342.3 233.2 340.3 233.5 337.3 234.0 335.4 234.4 332.5 235.1 329.5 235.8 327.6 236.3 324.7 237.2 322.8 237.8 320.0 238.8 318.1 239.5 315.4 240.7 313.6 241.5 310.9 242.9 309.2 243.9 306.6 245.5 305.0 246.6 302.5 248.3 301.0 249.6 298.7 251.5 297.3 253.0 295.4 255.2 294.2 256.8 292.5 259.3 291.5 261.0 290.0 263.6 289.0 265.3 287.6 268.0M395.5 286.0 396.3 284.2 397.5 281.4 398.2 279.5 399.4 276.8 400.2 274.9 401.2 272.1 401.9 270.2 402.6 267.3 403.0 265.4 403.1 262.5 402.8 260.5 402.0 257.8 401.1 256.0 399.4 253.6 398.1 252.2 395.9 250.2 394.2 249.1 391.6 247.7 389.8 246.9 387.0 245.9 385.1 245.3 382.2 244.6 380.2 244.1 377.3 243.5 375.3 243.1 372.3 242.5 370.4 242.2 367.4 241.9 365.4 241.8 362.4 241.6 360.4 241.7 357.4 241.8 355.4 242.0 352.4 242.3 350.4 242.6 347.4 243.0 345.5 243.4 342.5 244.0 340.5 244.4 337.6 245.1 335.7 245.6 332.8 246.5 330.9 247.1 328.0 248.0 326.1 248.7 323.3 249.7 321.4 250.5 318.7 251.7 316.9 252.5 314.3 254.0 312.6 255.1 310.1 256.8 308.6 258.0 306.3 260.0 304.8 261.3 302.6 263.4 301.2 264.8 299.1 267.0 297.7 268.4 295.6 270.5 294.1 272.0M394.5 284.0 392.4 282.0 390.8 280.8 388.3 279.5 386.5 278.9 383.6 278.4 381.6 278.1 378.6 277.9 376.6 277.8 373.6 277.7 371.6 277.6 368.6 277.6 366.6 277.5 363.6 277.5 361.6 277.5 358.6 277.4 355.6 277.5 353.6 277.5 350.6 277.5 348.6 277.6 345.6 277.7 343.6 277.8 340.6 277.9 338.6 278.1 335.6 278.4 333.6 278.6 330.7 279.0 328.7 279.3 325.7 279.8 323.7 280.2 320.8 280.7 318.8 281.1 315.9 281.6 312.9 282.1 310.9 282.5 308.0 283.1 306.1 283.6 303.2 284.5 301.3 285.1 298.5 286.2 296.7 287.0 294.0 288.3 292.4 289.4 290.2 291.3 288.9 292.7 287.4 295.2 286.6 297.0 285.5 299.8M395.5 286.0 395.7 288.0 396.0 291.0 396.2 293.0 396.6 296.0 396.7 298.0 397.0 301.0 397.1 303.0 397.1 306.0 397.1 308.0 396.8 311.0 396.4 313.0 395.7 315.9 395.0 317.8 393.8 320.5 392.9 322.2 391.2 324.7 389.9 326.2 387.8 328.3 386.2 329.5 383.7 331.0 381.9 331.9 379.1 332.9 377.2 333.5 374.3 334.4 372.3 334.9 369.4 335.6 367.5 336.1 364.5 336.7 362.6 337.2 359.7 338.2 357.9 338.9 355.2 340.3 353.4 341.2 350.8 342.6 349.0 343.5 346.3 344.8 344.4 345.6 341.6 346.7 339.7 347.5 336.9 348.5 335.0 349.2 332.2 350.2 330.3 350.9 327.4 351.7 325.5 352.3 322.5 353.0 320.6 353.3 317.6 353.6 315.6 353.7 312.6 353.6 310.6 353.5 307.6 353.1 305.6 352.8 302.6 352.3 300.6 352.0M395.5 286.0 396.2 287.9 397.3 290.7 398.5 293.5 399.2 295.3 400.0 297.2 401.1 300.0 402.2 302.8 402.8 304.7 403.5 306.6 404.3 309.5 405.1 312.4 405.5 314.4 405.8 316.3 406.0 319.3 406.0 322.3 405.9 324.3 405.6 326.3 405.1 329.2 404.4 332.2 403.8 334.1 403.2 336.0 402.1 338.8 400.9 341.5 400.0 343.3 399.0 345.1 397.4 347.5 395.5 349.8 394.0 351.2 392.5 352.5 390.0 354.1 387.4 355.5 385.5 356.3 383.7 357.1 380.9 358.1 378.0 359.1 376.1 359.8 374.2 360.4 371.3 361.2 368.4 361.8 366.4 362.2 364.4 362.5 361.4 362.9 358.5 363.1 356.5 363.2 354.5 363.2 351.5 363.0 348.5 362.6 346.5 362.4 344.5 362.1 341.5 361.6 338.6 361.0 336.6 360.6 334.6 360.2 331.7 359.5 328.8 358.8 326.8 358.4 324.9 357.9 321.9 357.1 319.0 356.3 317.1 355.7 315.3 355.0 312.5 353.8 309.9 352.4 308.2 351.4 306.5 350.2 304.1 348.4 301.8 346.5 300.3 345.1 298.9 343.7 296.9 341.5 294.9 339.2 293.7 337.6 292.6 336.0 291.0 333.4 289.6 330.8 288.9 328.9 288.2 327.0 287.5 324.1 286.9 321.2 286.6 319.2 286.3 317.2 286.0 314.2 285.7 311.2 285.5 309.2 285.3 307.2 285.0 304.2" fill="none" stroke="#760a10" stroke-width="1.8" stroke-linecap="round" stroke-linejoin="round"/>
<path d="M395.5 286.0 396.8 284.5 398.9 282.3 400.9 280.0 402.2 278.5 403.5 277.0 405.4 274.7 407.2 272.3 408.3 270.6 409.2 268.9 410.3 266.1 410.9 263.3 411.0 261.3 410.9 259.4 410.5 256.5 409.6 253.6 408.9 251.7 408.1 249.9 406.6 247.3 405.0 244.8 403.8 243.2 402.6 241.7 400.5 239.5 398.3 237.4 396.8 236.2 395.2 235.0 392.7 233.3 390.1 231.8 388.3 230.9 386.5 230.0 383.7 228.8 380.9 227.7 379.1 227.1 377.1 226.5 374.2 225.7 371.3 225.1 369.3 224.8 367.3 224.5 364.4 224.2 361.4 223.9 359.4 223.8 357.4 223.7 354.3 223.6 351.3 223.5 349.3 223.5 347.3 223.5 344.3 223.5 341.3 223.6 339.3 223.7 337.3 223.9 334.4 224.3 331.4 224.9 329.5 225.5 327.6 226.1 324.8 227.1 322.0 228.3 320.2 229.1 318.3 229.9 315.6 231.2 312.9 232.5 311.1 233.4 309.4 234.4 306.8 235.9 304.2 237.5 302.6 238.6 300.9 239.7 298.6 241.6 296.3 243.5 294.8 244.9 293.4 246.4 291.4 248.6 289.5 250.9 288.3 252.5 287.2 254.1 285.5 256.6 284.0 259.2 283.0 261.0 282.1 262.8 280.8 265.5 279.8 268.3 279.2 270.2 278.7 272.1 278.1 275.1 277.6 278.0 277.3 280.0 277.1 282.0 276.8 285.0 276.6 288.0 276.6 290.0 276.6 292.0 276.7 295.0 276.9 298.0 277.1 300.0 277.3 302.0 277.6 305.0M395.5 286.0 397.5 283.8 398.9 282.3 400.8 280.0 402.1 278.5 404.0 276.2 405.1 274.5 406.7 272.0 407.6 270.2 408.6 267.4 409.2 265.5 409.7 262.6 409.8 260.7 409.5 257.7 409.2 255.8 408.3 253.0 407.5 251.2 406.1 248.6 405.0 246.9 403.1 244.6 401.7 243.2 399.4 241.3 397.8 240.2 395.2 238.6 393.5 237.7 390.8 236.4 389.0 235.5 386.2 234.3 384.4 233.5 381.6 232.4 379.7 231.7 376.9 230.7 375.0 230.1 372.1 229.4 370.1 229.0 367.2 228.5 365.2 228.3 362.2 228.0 360.2 227.9 357.2 227.9 355.2 227.9 352.2 228.0 350.2 228.1 347.2 228.2 345.2 228.4 342.2 228.8 339.3 229.2 337.3 229.5 334.3 230.1 332.4 230.5 329.5 231.2 327.5 231.7 324.6 232.5 322.7 233.1 319.9 234.0 318.0 234.7 315.2 235.8 313.3 236.5 310.6 237.8 308.9 238.7 306.2 240.2 304.5 241.2 302.0 242.8 300.3 244.0 298.0 245.8 296.4 247.0 294.2 249.0 292.8 250.5 290.8 252.7 289.6 254.3 287.9 256.7 286.8 258.4 285.4 261.1 284.5 262.9 283.3 265.6 282.6 267.5 281.7 270.3 281.2 272.2 280.5 275.2 280.1 277.1 279.7 280.1 279.4 282.1 279.2 285.1 279.1 287.0 279.1 290.0 279.2 292.0 279.5 295.0 279.7 297.0 280.0 300.0M395.5 286.0 397.0 283.4 397.9 281.6 399.4 279.0 400.4 277.3 402.0 274.7 403.1 273.1 405.0 270.8 406.4 269.4 408.7 267.6 410.2 266.5 412.3 264.7 413.3 263.2 414.0 260.7 413.9 258.0 413.5 256.1 412.5 253.3 411.8 251.5 410.4 248.8 409.5 247.0 407.9 244.5 406.7 242.9 404.7 240.6 403.3 239.2 401.1 237.2 399.6 236.0 397.2 234.1 395.6 232.9 393.2 231.1M395.5 286.0 396.8 283.3 397.6 281.5 398.9 278.7 399.7 276.9 401.0 274.2 401.7 272.4 402.8 269.6 403.4 267.7 404.2 264.8 404.5 262.9 404.5 259.9 404.2 258.0 403.4 255.2 402.6 253.4 401.0 250.9 399.8 249.4 397.8 247.2 396.3 245.9 393.9 244.2 392.1 243.2 389.4 242.0 387.6 241.2 384.8 240.2 382.9 239.7 380.0 238.9 378.0 238.5 375.1 237.9 373.1 237.6 370.1 237.2 368.1 237.0 365.1 236.9 363.1 236.8 360.1 236.8 358.2 236.9 355.2 237.2 353.2 237.4 350.2 237.8 348.2 238.1 345.3 238.6 343.3 239.0 340.4 239.6 337.4 240.3 335.5 240.8 332.6 241.6 330.7 242.1 327.8 243.0 325.9 243.7 323.1 244.7 321.2 245.4 318.4 246.5 316.6 247.2 313.9 248.5 312.1 249.4 309.5 250.9 307.9 252.0 305.4 253.8 303.8 255.0 301.5 256.9 300.0 258.2 297.8 260.2 296.3 261.6 294.2 263.7 292.9 265.2 290.9 267.4 289.7 269.0 288.0 271.5 286.9 273.2 285.5 275.8 284.7 277.6 283.6 280.4 283.0 282.3 282.2 285.2 281.8 287.1 281.3 290.1 281.2 292.0 281.0 295.0 281.1 297.0 281.2 300.0 281.3 302.0 281.6 305.0 281.7 307.0 282.0 310.0M395.5 286.0 396.4 283.1 397.0 281.2 397.8 278.3 398.3 276.4 399.0 273.5 399.4 271.5 399.7 268.5 399.8 266.6 399.7 263.6 399.5 261.6 399.0 258.6 398.6 256.7 397.9 253.7 397.4 251.8 396.4 249.0 395.7 247.1 394.4 244.4 392.9 241.9 391.6 240.4 389.5 238.5 387.8 237.5 385.1 236.3 383.2 235.8 380.3 235.1 378.4 234.8 375.4 234.2 373.4 233.9 370.5 233.3 368.5 232.9 365.6 232.4 363.6 232.1 360.6 231.6 358.6 231.3 355.7 230.8 353.7 230.5 350.7 230.1M395.5 286.0 396.9 283.3 397.8 281.5 399.1 278.8 399.9 277.0 400.9 274.2 401.3 272.2 401.6 269.3 401.5 267.4 401.0 264.4 400.5 262.5 399.4 259.7 398.6 257.9 397.2 255.2 396.2 253.5 394.4 251.1 393.2 249.5 391.1 247.3 389.6 246.0 387.3 244.1 385.6 243.0 383.1 241.4 381.4 240.4 378.7 239.0 376.9 238.1 374.1 236.8 372.3 236.1 369.5 235.0 367.6 234.3 364.7 233.4 362.8 232.8 359.9 232.1 357.9 231.7 354.9 231.2 352.9 231.0 349.9 230.7 347.9 230.6 344.9 230.6 342.9 230.7 339.9 230.8 337.9 231.0 334.9 231.3 332.9 231.6 329.9 232.1 327.9 232.4 325.0 233.1 323.0 233.5 320.1 234.2 318.2 234.8 315.3 235.7 313.4 236.3 310.5 237.3 308.7 238.0 305.9 239.2 304.1 240.0 301.4 241.4 299.7 242.5 297.2 244.2 295.6 245.4 293.4 247.4 292.0 248.9 289.9 251.1 288.6 252.6 286.6 254.9 285.3 256.4 283.4 258.7M394.5 284.0 393.3 282.5 391.2 280.5 388.8 279.1 387.0 278.4 385.1 277.9 382.1 277.5 379.1 277.2 377.1 277.0 375.1 276.9 372.1 276.7 369.1 276.6 367.1 276.5 365.1 276.5 362.0 276.4 359.0 276.3 357.0 276.2 355.0 276.2 352.0 276.2 349.0 276.2 346.9 276.2 344.9 276.2 341.9 276.3 338.9 276.5 336.9 276.6 334.9 276.8 331.9 277.2 328.9 277.6 326.9 277.9 324.9 278.2 322.0 278.7 319.0 279.3 317.0 279.6 315.0 280.0 312.0 280.5 309.1 281.0 307.1 281.4 305.1 281.8 302.2 282.6 299.3 283.4 297.4 284.1 295.5 284.8 292.7 285.9 290.0 287.2 288.3 288.2 286.7 289.3 284.6 291.3 282.8 293.7 281.9 295.4 281.1 297.2 280.0 300.0M394.5 284.0 394.2 286.0 393.7 289.0 393.3 290.9 392.7 293.9 392.1 295.8 391.1 298.6 390.1 300.3 388.4 302.6 386.9 304.0 384.5 305.7 382.8 306.6 380.1 307.8 378.2 308.6 375.3 309.5 373.4 310.2 370.5 311.1 368.6 311.7 365.7 312.6 363.8 313.1 360.9 314.0 359.0 314.6 356.1 315.4 354.1 316.0 351.2 316.7 349.3 317.2 346.3 318.0 344.4 318.4 341.4 319.1 339.5 319.6 336.5 320.3 334.5 320.7 331.6 321.3 329.6 321.6 326.6 322.2 324.6 322.5 321.7 323.0 319.7 323.3 316.7 323.7 314.7 324.0 311.7 324.3 309.7 324.6 306.7 324.9 304.7 325.1 301.7 325.4 299.7 325.8 296.7 326.3 294.7 326.7 291.8 327.3 289.8 327.7 286.9 328.4 284.9 328.9 282.0 329.5 280.0 330.0M394.5 284.0 393.7 281.1 393.1 279.2 392.1 276.3 391.4 274.5 390.1 271.8 389.1 270.1 387.2 267.8 385.8 266.5 383.4 264.7 381.7 263.8 379.0 262.6 377.1 261.9 374.2 261.1 372.2 260.6 369.3 260.0 367.3 259.6 364.3 259.2 361.3 258.8 359.3 258.5 356.3 258.2 354.3 258.1 351.3 257.8 349.3 257.7 346.3 257.6 344.3 257.6 341.3 257.6 339.3 257.7 336.2 257.8 334.2 257.9 331.2 258.2 329.2 258.3 326.2 258.6 323.2 259.0 321.2 259.2 318.2 259.6 316.2 259.9 313.3 260.5 311.3 260.8 308.4 261.5 306.4 262.0 303.6 263.0 301.7 263.7 299.0 265.0 297.3 266.0 294.8 267.6 293.2 268.8 290.8 270.7 289.3 272.0 287.0 274.0M395.5 286.0 394.2 287.5 392.3 289.8 390.4 292.2 389.1 293.7 387.8 295.2 385.9 297.5 383.9 299.8 382.6 301.3 381.2 302.7 379.0 304.8 376.8 306.8 375.2 308.0 373.6 309.2 371.1 310.7 368.4 312.1 366.6 312.9 364.7 313.7 361.9 314.7 359.0 315.5 357.1 316.1 355.2 316.6 352.3 317.3 349.3 318.0 347.4 318.4 345.4 318.8 342.5 319.4 339.5 319.9 337.5 320.1 335.5 320.3 332.6 320.5 329.6 320.9 327.6 321.2 325.6 321.5 322.7 322.1 319.8 322.7 317.8 323.2 315.9 323.7 312.9 324.4 310.0 325.1 308.1 325.6 306.1 326.0 303.2 326.7 300.3 327.4 298.3 327.8 296.3 328.1 293.4 328.6 290.4 329.1 288.4 329.4 286.4 329.6 283.5 330.0 280.5 330.4 278.5 330.6M320.0 292.0 317.1 292.9 315.2 293.5 312.3 294.3 310.4 294.9 307.5 295.7 305.6 296.3 302.7 297.1 300.8 297.6 297.9 298.5 296.1 299.2 293.4 300.5 291.7 301.5 289.2 303.2 287.6 304.4 285.2 306.2 283.7 307.5 281.4 309.4 279.9 310.7 277.6 312.7M319.0 296.0 316.1 296.7 314.1 297.2 311.2 298.1 309.3 298.7 306.5 299.7 303.8 301.0 302.2 302.0 300.0 303.9 298.7 305.4 297.1 307.9 296.1 309.6 294.8 312.3 293.4 315.0 292.5 316.8 291.1 319.5 290.2 321.3 288.9 324.0M395.5 286.0 396.2 289.0 396.6 290.9 397.3 293.9 397.7 295.9 398.4 298.8 398.8 300.8 399.4 303.8 399.7 305.7 400.3 308.7 400.6 310.7 401.2 313.7 401.5 315.7 402.0 318.7 402.3 320.7 402.7 323.7 403.0 325.7 403.3 328.7 403.5 331.7 403.6 333.7 403.5 336.7 403.3 338.7 402.8 341.7 402.2 343.6 401.1 346.4 400.3 348.2 398.9 350.9 397.9 352.7 396.4 355.3 395.4 357.0 393.8 359.6 392.7 361.3 391.1 363.9 390.1 365.6 388.5 368.2M395.5 286.0 396.6 288.8 397.3 290.7 398.3 293.6 399.0 295.4 400.1 298.3 400.7 300.2 401.7 303.0 402.3 305.0 403.2 307.9 403.7 309.8 404.4 312.7 404.8 314.7 405.3 317.7 405.6 319.7 405.9 322.7 406.1 324.7 406.3 327.7 406.4 329.7 406.5 332.7 406.5 334.8 406.4 337.8 406.2 339.8 405.8 342.7 405.4 344.7 404.4 347.5 403.6 349.3 402.1 351.9 400.9 353.5 398.9 355.7 397.5 357.2 395.4 359.3 394.0 360.8 391.9 362.9 390.5 364.4 388.3 366.5 386.9 367.9 384.7 370.0M395.5 286.0 395.8 288.0 396.2 291.0 396.7 294.0 396.9 295.9 397.2 297.9 397.6 300.9 397.8 303.9 397.9 305.9 398.0 307.9 397.8 310.9 397.5 313.9 397.1 315.9 396.6 317.8 395.6 320.6 394.3 323.3 393.4 325.1 392.3 326.7 390.4 329.0 388.2 331.1 386.6 332.2 385.0 333.3 382.3 334.6 379.5 335.8 377.6 336.5 375.7 337.1 372.9 338.0 370.0 338.8 368.0 339.2 366.0 339.6 363.1 340.3 360.3 341.2 358.4 342.0 356.6 342.8 354.0 344.3 351.3 345.7 349.6 346.6 347.8 347.5 345.0 348.8 342.2 349.9 340.4 350.7 338.5 351.4 335.7 352.5 332.8 353.5 330.9 354.2 329.0 354.8 326.2 355.7 323.3 356.5 321.3 357.0 319.4 357.4 316.4 357.9 313.4 358.1 311.4 358.1 309.4 358.0 306.4 357.8 303.4 357.3 301.5 357.0 299.5 356.7 296.5 356.2M395.5 286.0 396.3 287.8 397.5 290.6 398.8 293.3 399.6 295.1 400.4 297.0 401.6 299.7 402.8 302.5 403.6 304.3 404.3 306.2 405.3 309.0 406.2 311.9 406.7 313.8 407.2 315.7 407.6 318.7 407.9 321.7 407.9 323.7 407.8 325.7 407.6 328.6 407.1 331.6 406.8 333.6 406.3 335.5 405.6 338.4 404.7 341.3 404.0 343.2 403.3 345.0 402.1 347.8 400.7 350.4 399.6 352.1 398.5 353.7 396.5 355.9 394.3 357.9 392.8 359.1 391.1 360.3 388.6 361.8 385.9 363.2 384.1 364.1 382.3 364.9 379.5 366.1 376.7 367.1 374.8 367.7 372.9 368.2 370.0 368.9 367.0 369.4 365.0 369.7 363.0 369.9 360.0 370.2 357.1 370.3 355.1 370.3 353.1 370.2 350.1 370.0 347.1 369.6 345.1 369.3 343.1 369.0 340.2 368.5 337.2 367.9 335.3 367.5 333.3 367.1 330.4 366.5 327.5 365.8 325.5 365.3 323.6 364.9 320.6 364.1 317.7 363.4 315.8 362.8 313.9 362.2 311.1 361.2 308.3 360.1 306.6 359.2 304.8 358.2 302.3 356.6 299.8 354.9 298.3 353.6 296.7 352.3 294.5 350.3 292.4 348.2 291.1 346.7 289.8 345.2 287.9 342.9 286.1 340.5 285.0 338.8 284.0 337.1 282.7 334.4 281.6 331.6 281.0 329.7 280.5 327.8 279.8 324.9 279.4 321.9 279.1 319.9 278.9 318.0 278.5 315.0 278.3 312.0 278.1 310.0 277.9 308.0 277.6 305.0M395.5 286.0 397.5 285.5 400.4 284.7 402.4 284.2 405.3 283.4 407.3 282.8 410.2 281.9 412.1 281.2 415.0 280.1 416.8 279.3 419.6 278.0 421.3 277.0 423.7 275.3 425.1 273.9 426.7 271.5 427.4 269.8 427.9 267.0 428.0 265.0M395.5 286.0 398.5 286.1 400.5 286.1 403.6 286.1 405.6 286.1 408.6 286.0 410.6 285.9 413.6 285.6 416.6 285.2 418.6 284.8 421.5 284.1 423.3 283.3 426.0 281.9 427.6 280.8 430.0 279.0M395.5 286.0 398.4 287.0 400.3 287.6 403.1 288.6 405.1 289.3 407.9 290.3 409.8 290.9 412.7 291.9 415.5 292.9 417.4 293.6 420.0 295.0 421.6 296.1 423.8 298.1 425.1 299.6 427.0 302.0M395.5 286.0 397.0 287.4 399.3 289.4 400.8 290.7 403.1 292.7 404.6 294.1 406.9 296.0 408.5 297.2 410.9 299.1 412.6 300.2 415.0 302.0 416.6 303.3 418.8 305.3 420.2 306.8 422.1 309.1 423.2 310.8 424.9 313.3 426.0 315.0M395.5 286.0 397.1 288.6 398.1 290.3 399.7 292.9 400.8 294.6 402.4 297.1 403.5 298.7 405.3 301.2 406.6 302.7 408.6 305.0 409.9 306.5 412.0 308.7 413.3 310.2 415.1 312.5 416.3 314.2 417.9 316.7 418.9 318.4 420.4 321.1 421.4 322.8 422.7 325.5 423.7 327.3 425.0 330.0M395.5 286.0 397.6 283.8 399.0 282.3 401.1 280.0 402.5 278.6 404.7 276.4 406.2 275.0 408.5 272.9 410.0 271.6 412.2 269.4 413.6 268.0 415.6 265.6 416.9 264.1 419.0 262.0 420.5 260.7 423.0 259.0M395.5 286.0 398.1 284.6 399.9 283.6 402.6 282.1 405.2 280.6 406.9 279.6 409.5 278.0 412.0 276.3 413.6 275.2 416.0 273.4 418.4 271.4 419.8 270.1 422.0 268.0M395.5 286.0 397.2 287.0 399.8 288.5 402.4 290.1 404.1 291.1 405.9 292.1 408.5 293.6 411.1 295.1 412.7 296.2 414.3 297.3 416.4 299.3 418.1 301.7 418.9 303.5 419.6 305.3 420.3 308.2 420.6 311.1 420.6 313.1 420.4 315.0 420.0 318.0M395.5 286.0 393.7 283.5 392.5 281.9 390.7 279.5 389.5 277.8 387.7 275.4 386.5 273.7 384.7 271.3 383.5 269.7 381.7 267.2 380.4 265.6 378.5 263.3 377.2 261.7 375.2 259.4 373.9 257.9 371.8 255.7M395.5 286.0 394.5 283.2 393.8 281.3 392.8 278.4 391.8 275.6 391.1 273.7 390.1 270.9 389.4 269.0 388.4 266.1 387.5 263.3 386.9 261.4 386.0 258.5M395.5 286.0 395.4 284.0 395.4 280.9 395.3 278.9 395.2 275.8 395.2 273.8 395.1 270.7 395.0 268.7 394.9 265.6 394.8 263.6 394.6 260.5 394.5 258.5M395.5 286.0 396.0 284.0 396.8 281.0 397.3 279.0 398.1 276.0 398.6 274.1 399.3 271.0 399.7 269.0 400.3 266.0 400.6 264.0 401.1 260.9 401.4 258.9 401.7 255.8 402.0 253.8M395.5 286.0 397.7 288.1 399.2 289.4 401.5 291.5 402.9 292.9 405.1 295.0 406.5 296.4 408.6 298.6 410.0 300.1 412.0 302.4 413.2 304.0 415.1 306.4 416.2 308.0 417.7 310.6 418.6 312.4 419.5 315.2 419.8 317.2 419.8 320.1 419.6 322.1 419.1 325.1 418.7 327.0 418.0 330.0M395.5 286.0 398.4 286.9 400.4 287.5 403.3 288.4 405.2 289.1 408.0 290.2 409.8 291.1 412.5 292.6 414.1 293.8 416.5 295.7 417.9 297.1 420.0 299.3 421.2 300.9 422.7 303.5 423.3 305.3 423.8 308.2 423.8 310.1 423.3 313.1 422.8 315.1 422.0 318.0M395.5 286.0 396.8 284.5 398.8 282.2 400.8 280.0 402.1 278.5 403.3 276.9 405.2 274.6 406.8 272.1 407.8 270.4 408.6 268.6 409.3 265.8 409.6 262.9 409.4 261.0 409.0 259.0 408.1 256.2 406.9 253.5 406.0 251.8 404.9 250.1 403.2 247.6 401.4 245.2 400.1 243.7 398.7 242.3 396.6 240.2 394.3 238.3 392.6 237.2 391.0 236.1 388.4 234.6 385.7 233.3 383.9 232.4 382.0 231.6 379.2 230.6 376.4 229.6 374.5 229.1 372.5 228.7 369.6 228.1 366.6 227.7 364.6 227.4 362.7 227.3 359.7 227.0 356.7 226.9 354.7 226.8 352.7 226.8 349.7 226.7 346.7 226.7 344.7 226.7 342.7 226.8 339.7 226.9 336.7 227.2 334.7 227.6 332.8 228.0 329.9 228.8 327.1 229.8 325.2 230.5 323.4 231.3 320.7 232.5 317.9 233.8 316.1 234.6 314.3 235.5 311.7 236.9 309.1 238.4 307.4 239.5 305.7 240.5 303.3 242.2 300.9 244.1 299.4 245.4 297.9 246.8 295.8 248.9 293.8 251.1 292.6 252.7 291.4 254.3 289.6 256.7 288.0 259.2 287.0 260.9 286.0 262.7 284.7 265.4 283.6 268.1 282.9 270.0 282.3 271.9 281.7 274.8 281.1 277.8 280.8 279.8 280.6 281.7 280.3 284.7 280.1 287.7 280.0 289.7 280.0 291.7 280.1 294.7 280.3 297.7 280.5 299.7 280.7 301.7 281.0 304.7M395.5 286.0 397.4 283.7 398.7 282.2 400.6 279.9 401.9 278.3 403.6 275.9 404.6 274.2 406.0 271.5 406.7 269.7 407.4 266.8 407.6 264.9 407.5 261.9 407.2 260.0 406.4 257.2 405.6 255.4 404.1 252.8 403.0 251.2 401.0 248.9 399.7 247.5 397.4 245.6 395.8 244.4 393.3 242.8 391.5 241.8 388.9 240.5 386.1 239.2 384.3 238.4 381.6 237.2 379.7 236.5 376.9 235.4 375.0 234.8 372.1 234.0 370.2 233.6 367.2 233.0 365.2 232.8 362.2 232.5 360.2 232.4 357.2 232.3 355.2 232.3 352.2 232.4 350.2 232.5 347.3 232.7 345.3 232.9 342.3 233.2 340.3 233.5 337.3 234.0 335.4 234.4 332.5 235.1 329.5 235.8 327.6 236.3 324.7 237.2 322.8 237.8 320.0 238.8 318.1 239.5 315.4 240.7 313.6 241.5 310.9 242.9 309.2 243.9 306.6 245.5 305.0 246.6 302.5 248.3 301.0 249.6 298.7 251.5 297.3 253.0 295.4 255.2 294.2 256.8 292.5 259.3 291.5 261.0 290.0 263.6 289.0 265.3 287.6 268.0M395.5 286.0 396.3 284.2 397.5 281.4 398.2 279.5 399.4 276.8 400.2 274.9 401.2 272.1 401.9 270.2 402.6 267.3 403.0 265.4 403.1 262.5 402.8 260.5 402.0 257.8 401.1 256.0 399.4 253.6 398.1 252.2 395.9 250.2 394.2 249.1 391.6 247.7 389.8 246.9 387.0 245.9 385.1 245.3 382.2 244.6 380.2 244.1 377.3 243.5 375.3 243.1 372.3 242.5 370.4 242.2 367.4 241.9 365.4 241.8 362.4 241.6 360.4 241.7 357.4 241.8 355.4 242.0 352.4 242.3 350.4 242.6 347.4 243.0 345.5 243.4 342.5 244.0 340.5 244.4 337.6 245.1 335.7 245.6 332.8 246.5 330.9 247.1 328.0 248.0 326.1 248.7 323.3 249.7 321.4 250.5 318.7 251.7 316.9 252.5 314.3 254.0 312.6 255.1 310.1 256.8 308.6 258.0 306.3 260.0 304.8 261.3 302.6 263.4 301.2 264.8 299.1 267.0 297.7 268.4 295.6 270.5 294.1 272.0M394.5 284.0 392.4 282.0 390.8 280.8 388.3 279.5 386.5 278.9 383.6 278.4 381.6 278.1 378.6 277.9 376.6 277.8 373.6 277.7 371.6 277.6 368.6 277.6 366.6 277.5 363.6 277.5 361.6 277.5 358.6 277.4 355.6 277.5 353.6 277.5 350.6 277.5 348.6 277.6 345.6 277.7 343.6 277.8 340.6 277.9 338.6 278.1 335.6 278.4 333.6 278.6 330.7 279.0 328.7 279.3 325.7 279.8 323.7 280.2 320.8 280.7 318.8 281.1 315.9 281.6 312.9 282.1 310.9 282.5 308.0 283.1 306.1 283.6 303.2 284.5 301.3 285.1 298.5 286.2 296.7 287.0 294.0 288.3 292.4 289.4 290.2 291.3 288.9 292.7 287.4 295.2 286.6 297.0 285.5 299.8M395.5 286.0 395.7 288.0 396.0 291.0 396.2 293.0 396.6 296.0 396.7 298.0 397.0 301.0 397.1 303.0 397.1 306.0 397.1 308.0 396.8 311.0 396.4 313.0 395.7 315.9 395.0 317.8 393.8 320.5 392.9 322.2 391.2 324.7 389.9 326.2 387.8 328.3 386.2 329.5 383.7 331.0 381.9 331.9 379.1 332.9 377.2 333.5 374.3 334.4 372.3 334.9 369.4 335.6 367.5 336.1 364.5 336.7 362.6 337.2 359.7 338.2 357.9 338.9 355.2 340.3 353.4 341.2 350.8 342.6 349.0 343.5 346.3 344.8 344.4 345.6 341.6 346.7 339.7 347.5 336.9 348.5 335.0 349.2 332.2 350.2 330.3 350.9 327.4 351.7 325.5 352.3 322.5 353.0 320.6 353.3 317.6 353.6 315.6 353.7 312.6 353.6 310.6 353.5 307.6 353.1 305.6 352.8 302.6 352.3 300.6 352.0M395.5 286.0 396.2 287.9 397.3 290.7 398.5 293.5 399.2 295.3 400.0 297.2 401.1 300.0 402.2 302.8 402.8 304.7 403.5 306.6 404.3 309.5 405.1 312.4 405.5 314.4 405.8 316.3 406.0 319.3 406.0 322.3 405.9 324.3 405.6 326.3 405.1 329.2 404.4 332.2 403.8 334.1 403.2 336.0 402.1 338.8 400.9 341.5 400.0 343.3 399.0 345.1 397.4 347.5 395.5 349.8 394.0 351.2 392.5 352.5 390.0 354.1 387.4 355.5 385.5 356.3 383.7 357.1 380.9 358.1 378.0 359.1 376.1 359.8 374.2 360.4 371.3 361.2 368.4 361.8 366.4 362.2 364.4 362.5 361.4 362.9 358.5 363.1 356.5 363.2 354.5 363.2 351.5 363.0 348.5 362.6 346.5 362.4 344.5 362.1 341.5 361.6 338.6 361.0 336.6 360.6 334.6 360.2 331.7 359.5 328.8 358.8 326.8 358.4 324.9 357.9 321.9 357.1 319.0 356.3 317.1 355.7 315.3 355.0 312.5 353.8 309.9 352.4 308.2 351.4 306.5 350.2 304.1 348.4 301.8 346.5 300.3 345.1 298.9 343.7 296.9 341.5 294.9 339.2 293.7 337.6 292.6 336.0 291.0 333.4 289.6 330.8 288.9 328.9 288.2 327.0 287.5 324.1 286.9 321.2 286.6 319.2 286.3 317.2 286.0 314.2 285.7 311.2 285.5 309.2 285.3 307.2 285.0 304.2" fill="none" stroke="#bc1820" stroke-width="0.90" stroke-linecap="round" stroke-linejoin="round"/>
<path d="M394.5 284.0 393.1 282.6 390.9 280.5 389.4 279.1 387.2 277.1 385.6 275.8 383.1 274.1 381.4 273.0 378.7 271.7 376.9 270.9 374.0 269.9 372.1 269.3 369.2 268.6 367.2 268.1 364.2 267.5 362.3 267.1 359.3 266.6 357.3 266.4 354.3 266.0 352.3 265.8 349.2 265.6 347.2 265.6 344.2 265.5 342.2 265.5 339.1 265.6 337.1 265.7 334.1 265.8 332.1 265.9 329.1 266.1 327.0 266.2 324.0 266.5 322.0 266.7 319.0 267.1 317.0 267.3 314.0 267.7 312.0 268.0M394.5 284.0 391.5 283.4 389.5 283.1 386.6 282.5 384.6 282.2 381.6 281.7 379.6 281.5 376.5 281.2 374.5 281.1 371.5 281.0 369.5 281.0 366.5 281.1 364.4 281.2 361.4 281.4 359.4 281.5 356.4 281.6 354.3 281.8 351.3 281.9 348.3 282.0 346.3 282.1 343.2 282.2 341.2 282.3 338.2 282.4 336.2 282.5 333.1 282.6 331.1 282.7 328.1 282.8 326.1 283.0 323.1 283.2 321.0 283.4 318.0 283.7 316.0 284.0 313.0 284.3 311.0 284.6 308.0 285.0M394.5 284.0 392.6 284.6 389.7 285.4 386.8 286.3 384.9 286.8 382.9 287.3 380.0 288.0 377.1 288.6 375.1 288.9 373.1 289.1 370.1 289.4 367.1 289.7 365.1 289.8 363.1 289.8 360.1 289.9 357.1 290.0 355.1 290.0 353.1 290.0 350.1 290.0 347.1 290.0 345.1 289.9 343.0 289.9 340.0 289.8 337.0 289.7 335.0 289.6 333.0 289.5 330.0 289.4 327.0 289.3 325.0 289.2 323.0 289.1 320.0 289.0M394.5 284.0 392.8 285.0 390.2 286.6 387.6 288.1 385.9 289.1 384.1 290.0 381.4 291.3 378.7 292.5 376.8 293.2 374.9 293.8 372.0 294.5 369.0 295.0 367.0 295.3 365.0 295.5 362.0 295.7 359.0 295.8 357.0 295.9 355.0 295.9 352.0 296.0 349.0 296.0 347.0 296.0 345.0 296.0 342.0 295.9 339.0 295.8 337.0 295.7 335.0 295.6 332.0 295.5 329.0 295.3 327.0 295.2 325.0 295.1 322.0 295.0M394.5 284.0 392.6 286.3 391.3 287.9 389.4 290.2 388.1 291.8 386.1 294.0 384.7 295.5 382.5 297.6 381.0 298.8 378.5 300.4 375.8 301.7 373.9 302.3 371.0 303.0 369.0 303.4 366.1 303.8 364.1 304.1 361.1 304.3 359.0 304.5 356.0 304.6 354.0 304.7 351.0 304.8" fill="none" stroke="#3a3a3a" stroke-width="1.53" stroke-linecap="round" stroke-linejoin="round"/>
<path d="M277.6 305.0 277.3 302.0 277.1 300.0M280.0 300.0 279.7 297.0 279.5 295.0M393.2 231.1 395.6 232.9 397.2 234.1M282.0 310.0 281.7 307.0 281.6 305.0M350.7 230.1 353.7 230.5 355.6 230.8M283.4 258.7 285.3 256.4 286.6 254.9M280.0 300.0 281.1 297.2 281.9 295.4 281.9 295.4M280.0 330.0 282.0 329.5 284.9 328.9M287.0 274.0 289.3 272.0 290.8 270.8M312.0 268.0 314.0 267.7 317.0 267.3M308.0 285.0 311.0 284.6 313.0 284.3M320.0 289.0 323.0 289.1 325.0 289.2M322.0 295.0 325.0 295.1 327.0 295.2M351.0 304.8 354.0 304.7 356.0 304.6M278.5 330.6 280.5 330.4 283.5 330.0M277.6 312.7 279.9 310.7 281.4 309.4M288.9 324.0 290.2 321.3 291.1 319.5M388.5 368.2 390.1 365.6 391.1 363.9M384.7 370.0 386.9 367.9 388.3 366.5M296.5 356.2 299.5 356.7 301.4 357.0M277.6 305.0 277.9 308.0 278.1 310.0M428.0 265.0 427.9 267.0 427.4 269.8 427.4 269.9M430.0 279.0 427.6 280.8 426.0 281.9 426.0 281.9M427.0 302.0 425.1 299.6 423.8 298.2M426.0 315.0 424.9 313.3 423.3 310.8M425.0 330.0 423.7 327.3 422.8 325.5M423.0 259.0 420.5 260.7 419.0 262.0M422.0 268.0 419.8 270.1 418.4 271.4M420.0 318.0 420.4 315.0 420.6 313.1 420.6 313.0M371.8 255.7 373.9 257.9 375.2 259.4M386.0 258.5 386.9 261.4 387.5 263.3M394.5 258.5 394.6 260.5 394.8 263.5M402.0 253.8 401.7 255.8 401.4 258.8M418.0 330.0 418.7 327.0 419.1 325.1M422.0 318.0 422.8 315.1 423.3 313.2M281.0 304.7 280.7 301.7 280.5 299.7 280.5 299.7M287.6 268.0 289.0 265.3 290.0 263.6M294.1 272.0 295.6 270.5 297.7 268.4M285.5 299.8 286.6 297.0 287.4 295.2 287.4 295.2M300.6 352.0 302.6 352.3 305.6 352.8M285.0 304.2 285.3 307.2 285.5 309.2" fill="none" stroke="#1a1a1a" stroke-width="1.80" stroke-linecap="round"/>
<ellipse cx="612" cy="291" rx="5" ry="7" fill="#9a0c12"/>
<path d="M612.5 291.0 614.7 289.0 616.2 287.6 618.6 285.7 620.1 284.4 622.5 282.6 624.1 281.3 626.3 279.3 627.8 277.9 629.8 275.7 631.0 274.1 632.7 271.7 633.6 269.9 634.9 267.2 635.5 265.3 636.0 262.4 636.1 260.5 635.7 257.6 635.2 255.7 634.1 252.9 633.2 251.1 631.6 248.6 630.4 247.0 628.6 244.6 627.3 243.1 625.2 240.9 623.8 239.4 621.7 237.3 620.2 236.0 617.9 234.0 616.3 232.8 613.9 231.0 612.2 229.9 609.7 228.2 607.9 227.2 605.3 225.7 603.6 224.7 600.9 223.4 599.1 222.5 596.3 221.3 594.4 220.5 591.6 219.5 589.7 218.9 586.8 218.0 584.8 217.6 581.9 216.9 579.9 216.5 577.0 215.9 575.0 215.6 572.0 215.1 570.0 214.8 567.0 214.5 565.0 214.3 562.0 214.0M612.5 291.0 615.1 289.5 616.8 288.4 619.2 286.7 620.8 285.4 623.1 283.5 624.7 282.2 626.9 280.2 628.3 278.8 630.3 276.5 631.5 275.0 633.2 272.5 634.2 270.7 635.4 268.0 636.1 266.2 636.8 263.3 637.1 261.3 637.1 258.4 636.9 256.4 636.2 253.6 635.4 251.8 634.0 249.2 632.9 247.5 631.0 245.2 629.7 243.7 627.5 241.6 626.1 240.2 623.7 238.3 622.1 237.2 619.6 235.5 617.9 234.4 615.3 232.9 613.6 231.9 610.9 230.5 609.1 229.6 606.4 228.2 604.6 227.4 601.9 226.2 600.0 225.4 597.2 224.3 595.3 223.6 592.5 222.6 590.6 222.0 587.7 221.2 585.7 220.7 582.8 220.0 580.8 219.6 577.9 219.0 575.9 218.7 572.9 218.4 570.9 218.2 567.9 218.1 565.9 218.2 562.9 218.3 560.9 218.4 557.9 218.7 555.9 218.9 552.9 219.3 550.9 219.5 548.0 220.0 546.0 220.3 543.0 220.8 541.0 221.2 538.1 221.9 536.2 222.5 533.3 223.3 531.4 223.9 528.5 224.8M612.5 291.0 614.0 289.6 616.2 287.6 618.4 285.6 619.9 284.3 621.5 283.0 623.8 281.1 626.0 279.1 627.4 277.6 628.7 276.1 630.4 273.7 631.7 271.1 632.4 269.2 633.0 267.3 633.5 264.4 633.6 261.5 633.5 259.5 633.1 257.6 632.4 254.7 631.3 251.9 630.4 250.2 629.4 248.4 627.7 246.0 625.8 243.7 624.4 242.2 623.0 240.8 620.8 238.8 618.4 237.0 616.8 235.8 615.1 234.7 612.6 233.1 610.0 231.6 608.2 230.7 606.4 229.8 603.7 228.5 600.9 227.3 599.1 226.6 597.2 225.8 594.4 224.9 591.5 224.0 589.6 223.5 587.6 223.0 584.7 222.4 581.7 222.0 579.7 221.7 577.7 221.5 574.7 221.3 571.7 221.1 569.7 221.1 567.7 221.0 564.7 221.1 561.7 221.1 559.7 221.2 557.7 221.4 554.7 221.6 551.7 221.9 549.7 222.1 547.8 222.4 544.8 222.9 541.8 223.5 539.9 223.9 537.9 224.3 535.0 225.0M612.5 291.0 614.7 289.0 616.2 287.6 618.4 285.6 619.8 284.1 621.9 282.0 623.3 280.5 625.3 278.3 626.5 276.8 628.3 274.3 629.3 272.6 630.5 270.0 631.2 268.1 631.9 265.2 632.1 263.3 632.0 260.3 631.6 258.4 630.7 255.6 629.9 253.8 628.4 251.2 627.3 249.6 625.5 247.2 624.2 245.7 622.2 243.4 620.8 242.0 618.7 239.9 617.2 238.6 614.8 236.7 613.2 235.5 610.7 233.8 609.0 232.8 606.5 231.2 603.8 229.8 602.0 228.9 599.3 227.6 597.5 226.8 594.7 225.7 592.8 225.0 589.9 224.1 588.0 223.6 585.1 223.0 583.1 222.7 580.1 222.3 578.1 222.2 575.1 222.0 573.1 222.0 570.1 221.9 568.1 221.9 565.1 222.0 563.1 222.0 560.1 222.2 558.1 222.3 555.1 222.6 553.1 222.8 550.2 223.3 548.2 223.7 545.3 224.5 543.4 225.0 540.6 226.0 538.7 226.7 536.0 227.9 534.1 228.8 531.5 230.2 528.9 231.7 527.3 232.8 524.8 234.6 523.2 235.8 520.9 237.7 519.4 239.0 517.1 241.0 515.6 242.3 513.4 244.3 511.9 245.7 509.8 247.8 508.4 249.2 506.3 251.4 505.0 252.9 503.1 255.2 501.9 256.8 500.1 259.3 499.0 260.9 497.5 263.5 496.6 265.3 495.3 268.0 494.5 269.8 493.4 272.6 492.7 274.5 491.8 277.4 491.2 279.3 490.4 282.2 490.0 284.1 489.4 287.1 489.0 289.0 488.5 292.0M612.5 291.0 613.5 288.2 614.3 286.3 615.5 283.6 616.4 281.8 617.9 279.2 618.9 277.5 620.5 275.0 621.5 273.2 622.7 270.6 623.3 268.7 623.9 265.8 624.1 263.9 624.0 260.9 623.7 258.9 623.1 256.0 622.5 254.1 621.4 251.4 620.5 249.6 618.8 247.1 617.6 245.6 615.6 243.4 614.2 242.0 611.9 240.1 610.3 238.9 607.8 237.2 606.1 236.2 603.4 234.7 601.7 233.9 598.9 232.6 597.1 231.9 594.2 230.9 592.3 230.3 589.4 229.6 587.5 229.2 584.5 228.6 582.5 228.4 579.6 228.1 577.6 227.9 574.6 227.8 572.6 227.8 569.6 227.8 567.6 227.9 564.6 228.0 562.6 228.2 559.6 228.5 557.6 228.7 554.6 229.1 552.6 229.4 549.7 229.9 547.7 230.3 544.8 231.0 542.9 231.5 540.0 232.3 538.1 233.0 535.3 234.0 533.4 234.8 530.7 236.1 529.0 237.0 526.4 238.5 524.7 239.5 522.2 241.2 520.5 242.4 518.2 244.2 516.6 245.5 514.4 247.5 513.0 249.0 511.1 251.2 509.8 252.7 508.0 255.1 506.9 256.8 505.3 259.4 504.4 261.1 503.2 263.9 502.5 265.7 501.7 268.6 501.2 270.5 500.7 273.5 500.4 275.5 499.9 278.4 499.7 280.4 499.4 283.4 499.2 285.4 498.9 288.4 498.7 290.4 498.4 293.4 498.1 295.3 497.6 298.3 497.3 300.3 496.8 303.2 496.4 305.2 495.9 308.2 495.5 310.1 494.9 313.1 494.6 315.0 494.0 318.0M612.5 291.0 613.0 288.0 613.3 286.0 613.7 283.1 613.9 281.1 614.2 278.1 614.3 276.1 614.6 273.1 614.7 271.1 614.6 268.1 614.5 266.1 614.0 263.1 613.5 261.2 612.5 258.4 611.8 256.5 610.5 253.8 609.5 252.0 607.9 249.5 606.8 247.8 605.0 245.5 603.6 244.0 601.4 242.0 599.9 240.8 597.4 239.1 595.6 238.1 592.9 236.8 591.1 236.1 588.2 235.1 586.3 234.5 583.4 233.8 581.4 233.4 578.5 233.0 576.5 232.9 573.5 232.8 571.4 232.8 568.4 232.9 566.4 233.0 563.4 233.2 560.4 233.5 558.4 233.8 555.5 234.3 553.5 234.7 550.6 235.4 548.7 235.9 545.8 236.9 543.9 237.6 541.2 238.8 539.4 239.6 536.7 241.1 535.0 242.1 532.5 243.8 530.9 244.9 528.5 246.8 527.0 248.1 524.8 250.1 523.3 251.5 521.3 253.8 520.0 255.3 518.2 257.6 517.0 259.3 515.3 261.8 514.2 263.5 512.8 266.1 511.8 267.9 510.6 270.6 509.8 272.4 508.7 275.2 508.0 277.1 507.1 280.0 506.6 281.9 506.0 284.9 505.6 286.9 505.2 289.8 504.9 291.8 504.5 294.8 504.3 296.8 503.9 299.8M612.5 291.0 614.1 289.8 616.6 288.1 619.0 286.3 620.6 285.0 622.1 283.7 624.2 281.6 626.2 279.4 627.4 277.7 628.4 276.1 629.9 273.5 631.3 270.8 632.0 268.9 632.7 267.0 633.3 264.1 633.6 261.2 633.5 259.2 633.2 257.3 632.4 254.4 631.3 251.7 630.4 249.9 629.3 248.2 627.5 245.8 625.5 243.6 624.1 242.2 622.5 241.0 620.1 239.1 617.6 237.4 615.9 236.4 614.2 235.3 611.6 233.9 608.9 232.5 607.1 231.6 605.3 230.7 602.5 229.5 599.7 228.5 597.8 227.8 595.9 227.2 593.0 226.4 590.1 225.7 588.1 225.3 586.1 225.0 583.1 224.6 580.1 224.3 578.1 224.1 576.1 224.0 573.1 224.0 570.1 224.1 568.1 224.2 566.1 224.4 563.1 224.8 560.1 225.2 558.2 225.6 556.2 226.0 553.2 226.7 550.3 227.4 548.4 228.0 546.5 228.6 543.7 229.7 540.9 230.8 539.1 231.6 537.2 232.5 534.5 233.8 531.8 235.1 530.0 236.0M612.5 291.0 614.2 288.5 615.3 286.9 617.1 284.4 618.3 282.8 620.1 280.4 621.3 278.8 623.1 276.4 624.2 274.8 625.6 272.2 626.4 270.4 627.3 267.6 627.6 265.6 627.8 262.7 627.8 260.7 627.4 257.8 626.9 255.9 625.9 253.1 625.0 251.3 623.4 248.9 622.1 247.3 620.1 245.1 618.6 243.8 616.3 242.0 614.6 240.9 612.0 239.4 610.3 238.5 607.5 237.2 605.7 236.4 602.9 235.4 601.0 234.7 598.1 233.8 596.2 233.2 593.3 232.4 591.4 232.0 588.5 231.3 586.5 230.9 583.5 230.5 581.5 230.3 578.6 230.1 576.6 230.0 573.6 230.1 571.6 230.2 568.6 230.4 566.6 230.6 563.6 231.1 561.7 231.4 558.7 231.9 556.7 232.4 553.8 233.1 551.9 233.6 549.0 234.5 547.2 235.1 544.4 236.2 542.5 237.0 539.8 238.2 538.0 239.1 535.3 240.5 533.6 241.5 531.0 243.0 529.4 244.1 526.9 245.8 525.3 247.1 523.1 249.0 521.6 250.4 519.5 252.5 518.2 254.0 516.3 256.3 515.0 257.9 513.3 260.3 512.2 262.0 510.6 264.5 509.6 266.3 508.2 268.9 507.4 270.7 506.1 273.5 505.3 275.3 504.0 278.0M612.5 291.0 613.4 293.9 613.9 295.8 614.8 298.7 615.4 300.6 616.3 303.4 616.9 305.3 617.9 308.2 618.6 310.0 619.8 312.8 620.6 314.6 621.8 317.4 622.6 319.2 623.7 322.0 624.3 323.9 625.1 326.8 625.4 328.7 625.5 331.7 625.4 333.7 625.0 336.6 624.6 338.5 623.7 341.4 623.0 343.2 621.6 345.8 620.5 347.4 618.5 349.5 617.0 350.8 614.5 352.4 612.8 353.4 610.1 354.7 608.3 355.6 605.5 356.7 603.6 357.5 600.8 358.6 599.0 359.3 596.1 360.3 594.3 361.0 591.4 361.9 589.5 362.5 586.6 363.4 584.7 363.9 581.8 364.7 579.8 365.1 576.9 365.6 574.9 365.8 571.9 366.0 569.9 366.0 567.0 365.8 565.0 365.6 562.0 365.2 560.0 364.9 557.1 364.4 555.1 364.0 552.2 363.4 550.2 363.0 547.3 362.4 545.3 361.9 542.4 361.2 540.5 360.7 537.6 359.8 535.7 359.2 532.9 358.2 531.0 357.5 528.2 356.3 526.4 355.5 523.8 354.1 522.0 353.1 519.5 351.5 517.9 350.4 515.5 348.6 514.0 347.3 511.8 345.3 510.3 343.8 508.3 341.6 507.0 340.1 505.2 337.7 504.1 336.1 502.5 333.5 501.6 331.8 500.3 329.1 499.6 327.2 498.5 324.4 497.9 322.5 497.1 319.6 496.6 317.7 495.9 314.8 495.5 312.8 494.9 309.9 494.5 307.9 494.0 305.0 493.8 303.0 493.5 300.0 493.3 298.0 493.1 295.0 493.0 293.0 492.8 290.0 492.7 288.0 492.6 285.0M612.5 291.0 612.8 294.0 613.1 296.0 613.4 299.0 613.7 301.0 614.1 304.0 614.4 305.9 614.9 308.9 615.3 310.9 616.0 313.8 616.6 315.7 617.4 318.6 618.0 320.5 618.8 323.4 619.2 325.4 619.6 328.3 619.7 330.3 619.5 333.3 619.2 335.2 618.4 338.1 617.7 339.9 616.3 342.6 615.2 344.2 613.3 346.5 611.9 347.9 609.6 349.8 607.9 350.9 605.4 352.4 603.6 353.3 600.8 354.5 599.0 355.2 596.1 356.2 593.2 357.0 591.3 357.5 588.3 358.1 586.3 358.5 583.4 358.9 581.4 359.1 578.4 359.3 576.4 359.3 573.4 359.2 571.4 359.1 568.4 358.9 566.4 358.7 563.4 358.3 561.4 358.0 558.4 357.6 556.4 357.2 553.5 356.6 551.5 356.2 548.6 355.5 546.6 355.0 543.7 354.2 541.8 353.6 539.0 352.6 537.2 351.8 534.5 350.5 532.7 349.5 530.2 347.9 528.5 346.8 526.1 345.0 524.5 343.8 522.2 341.8 520.0 339.9 518.5 338.5 516.4 336.4 515.0 334.9 513.1 332.5 512.0 330.9 510.4 328.4 509.5 326.6 508.2 323.9 507.4 322.1 506.4 319.2 505.7 317.3 504.8 314.5 504.3 312.5 503.5 309.6 503.1 307.7 502.5 304.7 502.1 302.7 501.7 299.8 501.6 297.8 501.5 294.8 501.5 292.8 501.6 289.8 501.8 287.8 502.1 284.8 502.4 282.8 502.9 279.8 503.3 277.8 503.9 274.9 504.3 272.9 505.0 270.0M612.5 291.0 612.4 294.0 612.4 296.0 612.3 299.0 612.2 301.0 612.2 304.0 612.1 306.0 612.1 309.0 612.1 311.0 612.1 314.0 612.2 316.0 612.4 319.0 612.5 321.0 612.6 324.0 612.7 326.0 612.6 329.0 612.5 331.0 611.9 333.9 611.3 335.7 610.1 338.4 609.1 340.1 607.2 342.4 605.1 344.4 603.5 345.6 601.0 347.2 599.2 348.1 596.5 349.3 594.6 350.0 591.7 350.8 589.8 351.3 586.9 352.0 584.9 352.3 582.0 352.8 580.0 353.1 577.0 353.4 575.0 353.6 572.0 353.7 570.0 353.6 567.0 353.5 565.0 353.4 562.0 353.1 560.0 352.8 557.1 352.4 555.1 352.2 552.1 351.8M612.5 291.0 613.5 293.9 614.1 295.8 615.1 298.6 615.7 300.5 616.7 303.4 617.4 305.3 618.5 308.1 619.2 309.9 620.5 312.6 621.4 314.4 622.9 317.0 624.0 318.7 625.6 321.3 626.6 323.0 628.0 325.7 628.8 327.5 629.7 330.3 630.1 332.3 630.3 335.2 630.3 337.2 630.1 340.2 629.5 343.1 628.9 345.0 627.7 347.7 626.6 349.3 624.8 351.6 623.3 352.9 620.9 354.7 619.2 355.7 616.6 357.1 614.7 358.0 612.0 359.1 610.1 359.8 607.2 360.7 605.3 361.3 602.4 362.1 600.4 362.6 597.5 363.3 595.6 363.8 592.6 364.4 589.7 365.0 587.7 365.4 584.7 366.0 582.8 366.3 579.8 366.8 577.8 367.1 574.8 367.4 572.8 367.6 569.8 367.8 567.8 367.9 564.8 367.9 562.8 367.8 559.8 367.5 557.8 367.3 554.8 366.8 552.8 366.5 549.9 365.9 547.9 365.6 544.9 365.0 543.0 364.6 540.0 364.0M612.5 291.0 613.3 293.9 613.9 295.8 614.7 298.7 615.2 300.6 616.1 303.5 616.6 305.4 617.5 308.3 618.2 310.2 619.2 313.0 619.9 314.9 620.9 317.7 621.6 319.6 622.6 322.4 623.1 324.3 623.6 327.2 623.7 329.2 623.6 332.2 623.4 334.1 622.7 337.0 622.1 338.9 620.9 341.6 620.0 343.4 618.3 345.8 617.0 347.3 614.9 349.4 613.3 350.6 610.8 352.2 609.1 353.2 606.4 354.6 603.7 355.7 601.8 356.4 598.9 357.3 597.0 357.9 594.1 358.6 592.2 359.1 589.2 359.7 587.3 360.1 584.3 360.5 582.3 360.8 579.3 361.2 577.4 361.4 574.4 361.6 572.4 361.7 569.4 361.9 567.4 361.9 564.4 361.9 562.4 361.9 559.4 361.8 557.4 361.7 554.4 361.5 552.4 361.3 549.4 360.8 547.5 360.4 544.6 359.8 542.6 359.3 539.7 358.4 537.8 357.8 535.0 356.8 532.3 355.6 530.4 354.8 527.8 353.4 526.0 352.4 523.5 350.8 521.9 349.7 519.5 347.8 518.0 346.5 515.9 344.5 514.5 343.0 512.5 340.8 511.2 339.3 509.3 336.9 508.2 335.3 506.5 332.8 505.5 331.1 504.0 328.5 503.1 326.7 501.8 324.0 501.0 322.2 499.9 319.4 499.3 317.5 498.4 314.6 497.8 312.7 497.1 309.8 496.7 307.8 496.0 304.9 495.6 302.9 495.0 300.0M612.5 291.0 615.2 289.5 616.9 288.5 619.7 287.2 621.5 286.4 624.4 285.6 626.3 285.2 629.3 285.0 631.3 285.1 634.3 285.6 636.1 286.2 638.7 287.5 640.3 288.7 642.2 290.8 643.4 292.4 645.0 295.0M612.5 291.0 615.4 291.8 617.3 292.4 620.2 293.3 622.1 293.9 624.9 294.9 626.7 295.7 629.3 297.1 631.0 298.2 633.4 299.9 635.8 301.8 637.4 303.0 639.8 304.7 641.5 305.8 644.0 307.5 645.7 308.6 648.2 310.2M612.5 291.0 615.0 292.7 616.7 293.9 619.2 295.7 620.8 296.9 623.2 298.7 624.8 300.0 627.2 301.9 628.7 303.3 630.9 305.4 632.9 307.6 634.1 309.2 635.8 311.7 636.9 313.5 638.3 316.2 639.2 318.0 640.4 320.8 641.3 322.6 642.5 325.4M612.5 291.0 614.8 289.1 616.4 287.8 618.7 285.8 620.2 284.5 622.5 282.4 623.9 281.0 625.9 278.8 627.2 277.2 629.0 274.8 630.8 272.3 631.9 270.6 633.3 268.0 634.2 266.2 635.3 263.4 635.8 261.5 636.5 258.5 636.8 256.5 637.2 253.5 637.5 251.5 637.8 248.5M612.5 291.0 613.9 292.5 616.0 294.7 618.0 297.0 619.4 298.5 620.8 300.0 622.8 302.4 624.7 304.8 625.9 306.4 627.0 308.1 628.5 310.7 629.9 313.5 630.7 315.3 631.5 317.2 632.4 320.1 633.3 323.1 633.8 325.0 634.3 327.0 635.0 330.0M612.5 291.0 615.5 291.7 617.5 292.1 620.6 292.7 623.6 293.3 625.6 293.5 628.6 293.7 630.6 293.5 633.4 292.6 636.0 291.2 637.6 290.0 640.0 288.0M612.5 291.0 611.0 293.6 609.8 295.2 607.9 297.4 606.4 298.6 603.8 300.0 602.0 300.8 599.1 301.6 597.2 302.1 594.2 302.7 592.2 303.1 589.3 303.6 587.3 303.9 584.3 304.4 582.3 304.6 579.3 305.1 577.3 305.4 574.3 305.7 572.3 306.0 569.3 306.2 567.3 306.4 564.3 306.7 562.3 306.8 559.3 307.0 557.2 307.1 554.2 307.3 552.2 307.3 549.2 307.4 547.2 307.5 544.2 307.7 542.1 307.8 539.1 308.1 537.1 308.3 534.2 308.8 532.2 309.2 529.3 309.9 527.3 310.5 524.5 311.4 522.6 312.1 519.7 313.1 517.9 313.9 515.1 315.1 513.3 315.9 510.6 317.2 508.8 318.2 506.1 319.7 504.4 320.7 501.8 322.2M612.5 291.0 611.2 292.5 609.2 294.8 607.2 297.0 605.8 298.4 604.3 299.7 601.9 301.5 599.3 303.0 597.5 303.8 595.6 304.5 592.7 305.3 589.8 306.0 587.8 306.5 585.9 306.9 583.0 307.7 580.0 308.4 578.1 309.0 576.2 309.7 573.4 310.7 570.6 311.8 568.8 312.6 566.9 313.4 564.2 314.7 561.4 315.9 559.6 316.8 557.8 317.6 555.1 318.9 552.3 320.3 550.5 321.1 548.7 322.0 546.0 323.3 543.3 324.6 541.5 325.5 539.7 326.4 537.0 327.7 534.3 329.0 532.5 329.9 530.7 330.8 528.0 332.2 525.3 333.5 523.5 334.4 521.7 335.3 519.0 336.7M612.5 291.0 610.4 288.9 608.9 287.5 606.7 285.5 605.2 284.2 602.9 282.3 601.3 281.0 598.9 279.3 597.2 278.2 594.7 276.5 593.0 275.4 590.5 273.8 588.8 272.8 586.2 271.3 583.6 269.9 581.8 269.0 579.1 267.7 577.2 267.0 574.4 265.9 572.5 265.3 569.6 264.6 567.6 264.1 564.7 263.5 562.7 263.1 559.8 262.7 556.8 262.3 554.8 262.1 551.8 261.9 549.8 261.8 546.8 261.8 544.8 261.8 541.8 262.0 539.9 262.3 536.9 262.7 535.0 263.2 532.1 263.9 529.2 264.9 527.4 265.6 524.6 266.7 522.8 267.6 520.1 269.0 518.4 270.0 515.9 271.6 514.3 272.7 511.8 274.5 510.2 275.7 507.9 277.5 506.3 278.8 503.9 280.6M612.5 291.0 611.5 288.1 610.9 286.2 609.9 283.4 609.2 281.5 608.2 278.7 607.5 276.8 606.5 273.9 605.7 272.1 604.5 269.3 603.6 267.5 602.3 264.8 601.3 263.1 599.7 260.5 598.0 258.0 596.8 256.5 594.8 254.2 593.4 252.9 591.0 251.1 589.3 250.0 586.6 248.7 584.8 248.0 581.9 247.2 579.9 246.7 577.0 246.1 575.0 245.7 572.0 245.2 570.1 244.8 567.1 244.3M612.5 291.0 610.9 288.5 609.8 286.8 608.1 284.3 607.0 282.7 605.2 280.2 604.0 278.6 602.1 276.3 600.8 274.8 598.8 272.6 597.4 271.2 595.2 269.1 593.0 267.1 591.5 265.8 589.1 264.0 587.5 262.8 584.9 261.2 583.2 260.3 580.5 259.0 578.6 258.3 575.8 257.4 573.9 256.8 571.0 256.1 568.0 255.4 566.1 255.1 563.1 254.6 561.1 254.3 558.2 253.9 556.2 253.7 553.2 253.4 551.2 253.3 548.2 253.1 546.2 253.1 543.2 253.0 540.2 253.0 538.2 253.0 535.2 253.0 533.2 253.0 530.2 253.1 528.2 253.1 525.2 253.2 523.2 253.2 520.2 253.3 518.2 253.4 515.2 253.5M612.5 291.0 611.1 292.4 609.0 294.6 606.9 296.7 605.4 298.0 603.8 299.2 601.3 300.8 598.7 302.1 596.8 302.7 594.9 303.2 592.0 303.7 589.0 304.0 587.0 304.2 585.0 304.4 582.0 304.6M612.5 291.0 611.9 288.0 611.6 286.1 611.0 283.1 610.6 281.2 610.0 278.2 609.6 276.3 608.8 273.4 608.3 271.4 607.5 268.5 606.9 266.6 605.9 263.8 605.3 261.9 604.2 259.1 603.0 256.3 602.2 254.5 600.9 251.8 599.9 250.1 598.3 247.5 597.2 245.9 595.4 243.5 594.1 241.9 592.1 239.8 590.6 238.4 588.3 236.5 585.9 234.8 584.2 233.7 581.5 232.3 579.7 231.4 577.0 230.3 575.1 229.6 572.2 228.7 570.3 228.3 567.4 227.7 565.4 227.5 562.4 227.3 559.4 227.3 557.4 227.4 554.4 227.6 552.4 227.8 549.4 228.2 547.5 228.5 544.5 229.1 542.6 229.6 539.6 230.3 537.7 230.8 534.8 231.6 532.9 232.2 530.0 233.0M612.5 291.0 611.8 289.1 610.7 286.3 610.0 284.4 608.9 281.6 608.1 279.7 606.9 277.0 606.0 275.2 604.5 272.6 603.5 270.8 601.9 268.3 600.8 266.6 599.1 264.1 597.9 262.5 596.0 260.2 594.7 258.6 592.6 256.5 591.1 255.1 588.9 253.1 587.3 251.8 584.9 250.0 583.2 248.9 580.7 247.3 578.9 246.3 576.3 244.9 574.5 244.0 571.7 242.8 569.8 242.2 566.9 241.3 564.9 240.9 562.0 240.5 560.0 240.3 557.0 240.2 555.0 240.2 551.9 240.3 549.9 240.5 547.0 240.9 545.0 241.2 542.0 241.7 540.0 242.0M612.5 291.0 612.2 288.0 612.0 286.0 611.8 283.0 611.6 281.0 611.3 278.0 611.1 276.0 610.8 273.0 610.6 271.0 610.3 268.0 610.1 266.0 609.8 263.0 609.4 260.0 609.2 258.0 608.8 255.0 608.5 253.0 608.0 250.1 607.6 248.1 606.9 245.2 606.3 243.3 605.2 240.5 604.3 238.7 602.8 236.1 601.7 234.5 599.8 232.2 597.6 230.1 596.1 228.9 593.6 227.2 591.9 226.2 589.2 224.8 587.4 223.9 584.6 222.8 582.7 222.2 579.8 221.3 577.9 220.8 575.0 220.0M612.5 291.0 614.6 288.8 616.0 287.4 618.2 285.4 619.7 284.0 621.9 282.1 623.4 280.7 625.5 278.6 626.8 277.0 628.4 274.6 629.4 272.8 630.6 270.1 631.2 268.2 631.8 265.3 631.9 263.4 631.7 260.5 631.3 258.6 630.3 255.8 629.4 254.0 627.8 251.5 626.6 249.9 624.8 247.5 622.8 245.3 621.4 243.8 619.3 241.7 617.8 240.3 615.6 238.3 614.0 237.1 611.6 235.3 609.9 234.1 607.4 232.5 605.7 231.5 603.1 230.0 601.3 229.0 598.6 227.7 596.8 226.8 594.1 225.6 592.2 224.9 589.4 223.9 587.4 223.3 584.5 222.6 582.6 222.1 579.6 221.5 577.7 221.1 574.7 220.4M612.5 291.0 614.9 289.3 616.5 288.0 618.9 286.1 620.4 284.8 622.5 282.8 624.0 281.4 626.0 279.1 627.2 277.6 628.8 275.1 629.7 273.3 630.8 270.6 631.4 268.7 631.9 265.8 632.1 263.8 632.1 260.8 631.8 258.9 631.0 256.1 630.2 254.3 628.7 251.7 627.6 250.1 625.6 247.9 624.2 246.4 622.0 244.4 620.5 243.1 618.1 241.3 616.5 240.2 613.9 238.6 612.2 237.6 609.6 236.1 606.9 234.7 605.1 233.8 602.4 232.5 600.6 231.7 597.8 230.5 596.0 229.8 593.2 228.7 591.3 228.1 588.4 227.2 586.5 226.7 583.5 225.9 581.6 225.5 578.7 224.9 576.7 224.6 573.7 224.2 571.7 224.0 568.7 223.9 566.7 223.9 563.7 224.0 561.7 224.1 558.7 224.4 556.7 224.6 553.8 225.0 551.8 225.3 548.8 225.7 546.8 226.0 543.9 226.5M612.5 291.0 613.9 289.5 615.9 287.3 617.3 285.9 619.5 283.8 621.0 282.4 623.1 280.3 624.4 278.8 626.2 276.5 627.2 274.7 628.2 272.0 628.7 270.1 629.0 267.1 629.1 265.2 628.8 262.2 628.4 260.2 627.6 257.4 626.9 255.5 625.6 252.8 624.5 251.1 622.8 248.7 621.5 247.2 619.4 245.0 617.9 243.7 615.6 241.8 614.0 240.6 611.5 238.9 609.8 237.8 607.1 236.3 605.4 235.4 602.7 234.0 600.8 233.2 598.1 232.0 596.2 231.3 593.3 230.3 591.4 229.7 588.5 228.9 586.6 228.4 583.6 227.8 581.6 227.5 578.6 227.1 576.6 226.9 573.6 226.7 571.6 226.6 568.6 226.5 566.6 226.5 563.6 226.6 561.6 226.7 558.6 226.9 556.6 227.0 553.5 227.2 551.5 227.4M612.5 291.0 614.6 288.9 616.0 287.4 618.1 285.2 619.5 283.8 621.5 281.5 622.7 280.0 624.6 277.6 625.7 276.0 627.1 273.3 627.9 271.5 628.6 268.7 628.9 266.7 628.9 263.8 628.6 261.8 627.8 259.0 627.0 257.2 625.6 254.5 624.6 252.9 622.8 250.4 621.6 248.8 619.6 246.6 618.2 245.1 616.1 243.0 614.5 241.7 612.2 239.8 610.6 238.6 608.1 237.0 606.4 235.9 603.8 234.4 602.0 233.5 599.3 232.1 597.5 231.3 594.7 230.1 592.8 229.4 590.0 228.4 588.1 227.9 585.1 227.2 583.2 226.8 580.2 226.4 578.2 226.3 575.2 226.1 573.2 226.1 570.2 226.0 568.2 226.0 565.1 226.0 563.1 226.1 560.1 226.2 558.1 226.4 555.1 226.7 553.1 227.0 550.2 227.6 548.2 228.0 545.3 228.8 543.4 229.4 540.6 230.5 538.8 231.3 536.0 232.6 534.3 233.5 531.7 235.0 530.0 236.1 527.5 237.8 525.9 239.1 523.6 241.0 522.1 242.3 519.8 244.2 518.3 245.6 516.1 247.6 514.6 249.0 512.5 251.1 511.1 252.6 509.1 254.8 507.8 256.4 506.0 258.7 504.8 260.4 503.1 262.9 502.0 264.6 500.5 267.1M612.5 291.0 613.1 289.1 613.9 286.2 615.0 283.4 615.8 281.6 616.7 279.8 618.2 277.2 619.6 274.6 620.4 272.8 621.1 270.9 621.7 268.1 621.9 265.1 621.7 263.2 621.4 261.2 620.6 258.3 619.6 255.5 618.7 253.7 617.8 252.0 616.1 249.5 614.2 247.2 612.8 245.8 611.4 244.4 609.1 242.5 606.6 240.8 604.9 239.7 603.2 238.7 600.5 237.3 597.8 236.1 596.0 235.3 594.1 234.6 591.2 233.7 588.3 233.0 586.3 232.6 584.4 232.2 581.4 231.8 578.4 231.5 576.4 231.4 574.4 231.3 571.4 231.3 568.4 231.4 566.4 231.5 564.4 231.6 561.4 231.9 558.4 232.2 556.4 232.5 554.4 232.7 551.5 233.3 548.5 233.8 546.6 234.3 544.6 234.8 541.7 235.6 538.9 236.6 537.0 237.3 535.2 238.1 532.5 239.4 529.8 240.8 528.1 241.8 526.4 242.9 523.9 244.6 521.5 246.4 520.0 247.7 518.5 249.0 516.4 251.1 514.4 253.3 513.1 254.9 511.9 256.5 510.2 259.0 508.7 261.6 507.8 263.3 507.0 265.2 506.0 268.0 505.2 270.9 504.8 272.8 504.4 274.8 503.8 277.8M612.5 291.0 612.8 288.0 612.9 286.0 613.1 283.0 613.2 281.0 613.3 278.0 613.4 276.0 613.5 272.9 613.4 270.9 613.2 268.0 612.9 266.0 612.2 263.1 611.5 261.2 610.3 258.5 609.4 256.7 607.9 254.1 606.8 252.4 605.0 250.0 603.7 248.5 601.6 246.3 600.1 245.0 597.7 243.2 596.0 242.1 593.4 240.7 591.6 239.9 588.8 238.7 586.9 238.1 584.0 237.3 582.0 236.9 579.1 236.4 577.1 236.2 574.1 236.0 572.1 236.0 569.1 236.1 567.0 236.2 564.0 236.4 562.0 236.6 559.1 237.0 556.1 237.5 554.1 237.9 551.2 238.6 549.3 239.2 546.4 240.2 544.6 240.9 541.8 242.2 540.0 243.1 537.4 244.6 535.7 245.6 533.3 247.3 531.7 248.5 529.3 250.5 527.9 251.8 525.7 253.9 524.4 255.4 522.4 257.7 521.2 259.3 519.4 261.7 518.3 263.4 516.7 266.0 515.7 267.7 514.4 270.4 513.6 272.2 512.4 275.0 511.7 276.9 510.8 279.8 510.2 281.7 509.6 284.6 509.2 286.6 508.7 289.6 508.4 291.6 508.0 294.5 507.8 296.5 507.4 299.5M612.5 291.0 614.1 289.8 616.5 287.9 618.0 286.6 620.3 284.6 621.7 283.2 623.6 280.9 624.7 279.3 626.3 276.7 627.1 274.9 628.3 272.2 628.9 270.3 629.5 267.4 629.6 265.4 629.4 262.5 629.0 260.6 627.9 257.9 626.9 256.2 625.3 253.7 624.0 252.1 622.0 249.9 620.6 248.5 618.3 246.5 616.8 245.2 614.3 243.5 612.7 242.3 610.1 240.7 608.4 239.7 605.7 238.3 603.9 237.4 601.2 236.2 599.3 235.4 596.5 234.3 594.6 233.7 591.7 232.8 589.8 232.4 586.8 231.7 584.9 231.4 581.9 231.0 579.9 230.8 576.9 230.6 574.9 230.5 571.9 230.5 569.9 230.6 566.9 230.9 564.9 231.2 561.9 231.6 559.9 232.0 557.0 232.6 555.0 233.0 552.0 233.7 550.1 234.1M612.5 291.0 614.1 288.4 615.2 286.7 616.8 284.2 617.9 282.6 619.6 280.1 620.8 278.5 622.5 276.0 623.5 274.3 624.7 271.6 625.3 269.7 625.8 266.8 625.9 264.8 625.7 261.9 625.3 259.9 624.5 257.1 623.8 255.2 622.4 252.6 621.3 251.0 619.5 248.6 618.1 247.2 615.8 245.2 614.2 244.0 611.7 242.4 610.0 241.4 607.3 240.1 604.5 238.9 602.7 238.2 599.8 237.2 597.9 236.6 595.1 235.7 593.1 235.2 590.2 234.4 588.2 234.0 585.3 233.4 583.3 233.1 580.3 232.8 578.3 232.7 575.3 232.6 573.3 232.7 570.3 232.9 568.3 233.1 565.3 233.4 563.4 233.7 560.4 234.3 558.4 234.6 555.5 235.3 553.6 235.8 550.7 236.7 547.8 237.6 546.0 238.4 543.2 239.5 541.4 240.3 538.7 241.7 536.9 242.6 534.3 244.1 532.6 245.1 530.1 246.8 528.5 248.0 526.1 249.9 524.6 251.2 522.5 253.3 521.1 254.8 519.2 257.0 517.9 258.6 516.1 261.0 515.0 262.7 513.4 265.2 512.4 267.0 511.0 269.6 510.1 271.4 508.8 274.1 508.0 275.9 506.7 278.7M612.5 291.0 613.1 293.9 613.5 295.9 614.2 298.8 614.6 300.8 615.3 303.7 615.8 305.7 616.6 308.6 617.3 310.5 618.2 313.3 618.9 315.2 619.9 318.0 620.5 319.9 621.2 322.8 621.4 324.8 621.4 327.7 621.1 329.7 620.4 332.5 619.7 334.4 618.5 337.1 617.6 338.9 616.0 341.4 614.7 342.9 612.6 344.9 610.2 346.6 608.5 347.6 605.8 348.9 604.0 349.8 601.2 350.9 599.3 351.7 596.5 352.7 594.6 353.4 591.8 354.4 589.9 355.1 587.0 356.0 585.1 356.6 582.2 357.3 580.3 357.8 577.3 358.4 575.3 358.6 572.4 358.9 570.4 358.9 567.4 358.8 565.4 358.5 562.4 358.1 560.4 357.8 557.5 357.3 554.5 356.7 552.6 356.3 549.6 355.7 547.7 355.2 544.7 354.5 542.8 353.9 539.9 353.0 538.1 352.4 535.2 351.3 533.4 350.6 530.7 349.3 528.9 348.4 526.3 346.9 524.6 345.8 522.2 344.0 520.7 342.7 518.5 340.7 517.2 339.2 515.2 337.0 513.9 335.4 512.0 333.1 510.7 331.5 508.8 329.2M612.5 291.0 612.7 294.0 612.9 296.0 613.2 299.0 613.4 301.0 613.7 304.0 613.9 306.0 614.4 308.9 614.7 310.9 615.4 313.8 615.9 315.8 616.6 318.7 617.1 320.6 617.8 323.6 618.1 325.5 618.2 328.5 618.2 330.5 617.7 333.4 617.1 335.3 616.0 338.0 615.0 339.7 613.3 342.2 612.1 343.7 609.9 345.8 608.4 347.0 606.0 348.7 604.3 349.8 601.6 351.1 599.8 351.9 597.0 353.0 595.0 353.6 592.2 354.4 590.2 354.9 587.3 355.5 585.3 355.8 582.3 356.2 580.3 356.4 577.3 356.5 575.3 356.6 572.3 356.5 570.3 356.3 567.3 356.1 565.3 355.9 562.4 355.5 560.4 355.1 557.4 354.6 555.5 354.3 552.5 353.7 550.6 353.2 547.6 352.5 545.7 352.0 542.8 351.0 541.0 350.4 538.2 349.2 536.4 348.3 533.8 346.9 532.1 345.8 529.6 344.1 528.0 342.9 525.7 341.0 524.1 339.7 521.9 337.8 520.4 336.4 518.3 334.2 517.0 332.7 515.2 330.4 514.1 328.7 512.5 326.1 511.7 324.4 510.5 321.6 509.8 319.7 508.9 316.9 508.3 315.0 507.5 312.1 506.9 310.1 506.2 307.2 505.7 305.3 504.9 302.4M612.5 291.0 613.1 292.9 614.0 295.8 614.5 297.7 615.4 300.6 616.0 302.5 617.0 305.4 617.7 307.3 618.7 310.1 619.5 311.9 620.8 314.6 621.8 316.4 623.3 319.0 624.3 320.7 625.7 323.3 626.6 325.1 627.5 327.9 628.0 329.9 628.2 332.8 628.2 334.8 627.9 337.7 627.4 339.7 626.5 342.5 625.7 344.3 624.1 346.8 622.9 348.3 620.8 350.4 619.2 351.6 616.7 353.2 614.9 354.1 612.2 355.4 610.3 356.1 607.5 357.1 605.6 357.7 602.7 358.6 600.8 359.1 597.8 359.9 595.9 360.3 593.0 361.0 591.0 361.4 588.0 362.0 586.1 362.4 583.1 362.9 581.1 363.3 578.2 363.7 576.2 364.0 573.2 364.3 571.2 364.4 568.2 364.6 566.2 364.6 563.2 364.5 561.2 364.3 558.2 364.0 556.2 363.7 553.2 363.2 551.2 362.8 548.3 362.3 546.3 361.9 543.4 361.3 541.4 360.9M612.5 291.0 612.9 293.0 613.6 295.9 614.2 298.8 614.7 300.8 615.1 302.8 615.8 305.7 616.5 308.6 617.0 310.5 617.6 312.5 618.4 315.3 619.3 318.2 619.8 320.1 620.2 322.1 620.5 325.0 620.4 328.0 620.1 329.9 619.6 331.8 618.5 334.6 617.1 337.2 616.1 338.9 614.9 340.5 613.0 342.8 610.8 344.8 609.2 346.0 607.6 347.1 605.0 348.6 602.3 349.9 600.4 350.6 598.5 351.3 595.7 352.2 592.8 353.0 590.8 353.5 588.8 353.9 585.9 354.5 582.9 354.9 580.9 355.2 579.0 355.4 576.0 355.7 573.0 356.0 571.0 356.1 569.0 356.1 565.9 356.2 562.9 356.2 560.9 356.1 558.9 356.0 555.9 355.8 553.0 355.4 551.0 355.1 549.0 354.7 546.1 354.0 543.2 353.2 541.3 352.6 539.4 351.9 536.6 350.9 533.9 349.6 532.1 348.7 530.3 347.8 527.8 346.2 525.4 344.4 523.8 343.2 522.3 341.8 520.1 339.8 518.1 337.6 516.8 336.1 515.5 334.5 513.7 332.1 512.1 329.6 511.0 327.9 510.0 326.1 508.6 323.5 507.4 320.7 506.6 318.9 505.9 317.0 505.0 314.2 504.1 311.3 503.6 309.3 503.2 307.4 502.5 304.5 501.9 301.5 501.5 299.6" fill="none" stroke="#760a10" stroke-width="1.8" stroke-linecap="round" stroke-linejoin="round"/>
<path d="M612.5 291.0 614.7 289.0 616.2 287.6 618.6 285.7 620.1 284.4 622.5 282.6 624.1 281.3 626.3 279.3 627.8 277.9 629.8 275.7 631.0 274.1 632.7 271.7 633.6 269.9 634.9 267.2 635.5 265.3 636.0 262.4 636.1 260.5 635.7 257.6 635.2 255.7 634.1 252.9 633.2 251.1 631.6 248.6 630.4 247.0 628.6 244.6 627.3 243.1 625.2 240.9 623.8 239.4 621.7 237.3 620.2 236.0 617.9 234.0 616.3 232.8 613.9 231.0 612.2 229.9 609.7 228.2 607.9 227.2 605.3 225.7 603.6 224.7 600.9 223.4 599.1 222.5 596.3 221.3 594.4 220.5 591.6 219.5 589.7 218.9 586.8 218.0 584.8 217.6 581.9 216.9 579.9 216.5 577.0 215.9 575.0 215.6 572.0 215.1 570.0 214.8 567.0 214.5 565.0 214.3 562.0 214.0M612.5 291.0 615.1 289.5 616.8 288.4 619.2 286.7 620.8 285.4 623.1 283.5 624.7 282.2 626.9 280.2 628.3 278.8 630.3 276.5 631.5 275.0 633.2 272.5 634.2 270.7 635.4 268.0 636.1 266.2 636.8 263.3 637.1 261.3 637.1 258.4 636.9 256.4 636.2 253.6 635.4 251.8 634.0 249.2 632.9 247.5 631.0 245.2 629.7 243.7 627.5 241.6 626.1 240.2 623.7 238.3 622.1 237.2 619.6 235.5 617.9 234.4 615.3 232.9 613.6 231.9 610.9 230.5 609.1 229.6 606.4 228.2 604.6 227.4 601.9 226.2 600.0 225.4 597.2 224.3 595.3 223.6 592.5 222.6 590.6 222.0 587.7 221.2 585.7 220.7 582.8 220.0 580.8 219.6 577.9 219.0 575.9 218.7 572.9 218.4 570.9 218.2 567.9 218.1 565.9 218.2 562.9 218.3 560.9 218.4 557.9 218.7 555.9 218.9 552.9 219.3 550.9 219.5 548.0 220.0 546.0 220.3 543.0 220.8 541.0 221.2 538.1 221.9 536.2 222.5 533.3 223.3 531.4 223.9 528.5 224.8M612.5 291.0 614.0 289.6 616.2 287.6 618.4 285.6 619.9 284.3 621.5 283.0 623.8 281.1 626.0 279.1 627.4 277.6 628.7 276.1 630.4 273.7 631.7 271.1 632.4 269.2 633.0 267.3 633.5 264.4 633.6 261.5 633.5 259.5 633.1 257.6 632.4 254.7 631.3 251.9 630.4 250.2 629.4 248.4 627.7 246.0 625.8 243.7 624.4 242.2 623.0 240.8 620.8 238.8 618.4 237.0 616.8 235.8 615.1 234.7 612.6 233.1 610.0 231.6 608.2 230.7 606.4 229.8 603.7 228.5 600.9 227.3 599.1 226.6 597.2 225.8 594.4 224.9 591.5 224.0 589.6 223.5 587.6 223.0 584.7 222.4 581.7 222.0 579.7 221.7 577.7 221.5 574.7 221.3 571.7 221.1 569.7 221.1 567.7 221.0 564.7 221.1 561.7 221.1 559.7 221.2 557.7 221.4 554.7 221.6 551.7 221.9 549.7 222.1 547.8 222.4 544.8 222.9 541.8 223.5 539.9 223.9 537.9 224.3 535.0 225.0M612.5 291.0 614.7 289.0 616.2 287.6 618.4 285.6 619.8 284.1 621.9 282.0 623.3 280.5 625.3 278.3 626.5 276.8 628.3 274.3 629.3 272.6 630.5 270.0 631.2 268.1 631.9 265.2 632.1 263.3 632.0 260.3 631.6 258.4 630.7 255.6 629.9 253.8 628.4 251.2 627.3 249.6 625.5 247.2 624.2 245.7 622.2 243.4 620.8 242.0 618.7 239.9 617.2 238.6 614.8 236.7 613.2 235.5 610.7 233.8 609.0 232.8 606.5 231.2 603.8 229.8 602.0 228.9 599.3 227.6 597.5 226.8 594.7 225.7 592.8 225.0 589.9 224.1 588.0 223.6 585.1 223.0 583.1 222.7 580.1 222.3 578.1 222.2 575.1 222.0 573.1 222.0 570.1 221.9 568.1 221.9 565.1 222.0 563.1 222.0 560.1 222.2 558.1 222.3 555.1 222.6 553.1 222.8 550.2 223.3 548.2 223.7 545.3 224.5 543.4 225.0 540.6 226.0 538.7 226.7 536.0 227.9 534.1 228.8 531.5 230.2 528.9 231.7 527.3 232.8 524.8 234.6 523.2 235.8 520.9 237.7 519.4 239.0 517.1 241.0 515.6 242.3 513.4 244.3 511.9 245.7 509.8 247.8 508.4 249.2 506.3 251.4 505.0 252.9 503.1 255.2 501.9 256.8 500.1 259.3 499.0 260.9 497.5 263.5 496.6 265.3 495.3 268.0 494.5 269.8 493.4 272.6 492.7 274.5 491.8 277.4 491.2 279.3 490.4 282.2 490.0 284.1 489.4 287.1 489.0 289.0 488.5 292.0M612.5 291.0 613.5 288.2 614.3 286.3 615.5 283.6 616.4 281.8 617.9 279.2 618.9 277.5 620.5 275.0 621.5 273.2 622.7 270.6 623.3 268.7 623.9 265.8 624.1 263.9 624.0 260.9 623.7 258.9 623.1 256.0 622.5 254.1 621.4 251.4 620.5 249.6 618.8 247.1 617.6 245.6 615.6 243.4 614.2 242.0 611.9 240.1 610.3 238.9 607.8 237.2 606.1 236.2 603.4 234.7 601.7 233.9 598.9 232.6 597.1 231.9 594.2 230.9 592.3 230.3 589.4 229.6 587.5 229.2 584.5 228.6 582.5 228.4 579.6 228.1 577.6 227.9 574.6 227.8 572.6 227.8 569.6 227.8 567.6 227.9 564.6 228.0 562.6 228.2 559.6 228.5 557.6 228.7 554.6 229.1 552.6 229.4 549.7 229.9 547.7 230.3 544.8 231.0 542.9 231.5 540.0 232.3 538.1 233.0 535.3 234.0 533.4 234.8 530.7 236.1 529.0 237.0 526.4 238.5 524.7 239.5 522.2 241.2 520.5 242.4 518.2 244.2 516.6 245.5 514.4 247.5 513.0 249.0 511.1 251.2 509.8 252.7 508.0 255.1 506.9 256.8 505.3 259.4 504.4 261.1 503.2 263.9 502.5 265.7 501.7 268.6 501.2 270.5 500.7 273.5 500.4 275.5 499.9 278.4 499.7 280.4 499.4 283.4 499.2 285.4 498.9 288.4 498.7 290.4 498.4 293.4 498.1 295.3 497.6 298.3 497.3 300.3 496.8 303.2 496.4 305.2 495.9 308.2 495.5 310.1 494.9 313.1 494.6 315.0 494.0 318.0M612.5 291.0 613.0 288.0 613.3 286.0 613.7 283.1 613.9 281.1 614.2 278.1 614.3 276.1 614.6 273.1 614.7 271.1 614.6 268.1 614.5 266.1 614.0 263.1 613.5 261.2 612.5 258.4 611.8 256.5 610.5 253.8 609.5 252.0 607.9 249.5 606.8 247.8 605.0 245.5 603.6 244.0 601.4 242.0 599.9 240.8 597.4 239.1 595.6 238.1 592.9 236.8 591.1 236.1 588.2 235.1 586.3 234.5 583.4 233.8 581.4 233.4 578.5 233.0 576.5 232.9 573.5 232.8 571.4 232.8 568.4 232.9 566.4 233.0 563.4 233.2 560.4 233.5 558.4 233.8 555.5 234.3 553.5 234.7 550.6 235.4 548.7 235.9 545.8 236.9 543.9 237.6 541.2 238.8 539.4 239.6 536.7 241.1 535.0 242.1 532.5 243.8 530.9 244.9 528.5 246.8 527.0 248.1 524.8 250.1 523.3 251.5 521.3 253.8 520.0 255.3 518.2 257.6 517.0 259.3 515.3 261.8 514.2 263.5 512.8 266.1 511.8 267.9 510.6 270.6 509.8 272.4 508.7 275.2 508.0 277.1 507.1 280.0 506.6 281.9 506.0 284.9 505.6 286.9 505.2 289.8 504.9 291.8 504.5 294.8 504.3 296.8 503.9 299.8M612.5 291.0 614.1 289.8 616.6 288.1 619.0 286.3 620.6 285.0 622.1 283.7 624.2 281.6 626.2 279.4 627.4 277.7 628.4 276.1 629.9 273.5 631.3 270.8 632.0 268.9 632.7 267.0 633.3 264.1 633.6 261.2 633.5 259.2 633.2 257.3 632.4 254.4 631.3 251.7 630.4 249.9 629.3 248.2 627.5 245.8 625.5 243.6 624.1 242.2 622.5 241.0 620.1 239.1 617.6 237.4 615.9 236.4 614.2 235.3 611.6 233.9 608.9 232.5 607.1 231.6 605.3 230.7 602.5 229.5 599.7 228.5 597.8 227.8 595.9 227.2 593.0 226.4 590.1 225.7 588.1 225.3 586.1 225.0 583.1 224.6 580.1 224.3 578.1 224.1 576.1 224.0 573.1 224.0 570.1 224.1 568.1 224.2 566.1 224.4 563.1 224.8 560.1 225.2 558.2 225.6 556.2 226.0 553.2 226.7 550.3 227.4 548.4 228.0 546.5 228.6 543.7 229.7 540.9 230.8 539.1 231.6 537.2 232.5 534.5 233.8 531.8 235.1 530.0 236.0M612.5 291.0 614.2 288.5 615.3 286.9 617.1 284.4 618.3 282.8 620.1 280.4 621.3 278.8 623.1 276.4 624.2 274.8 625.6 272.2 626.4 270.4 627.3 267.6 627.6 265.6 627.8 262.7 627.8 260.7 627.4 257.8 626.9 255.9 625.9 253.1 625.0 251.3 623.4 248.9 622.1 247.3 620.1 245.1 618.6 243.8 616.3 242.0 614.6 240.9 612.0 239.4 610.3 238.5 607.5 237.2 605.7 236.4 602.9 235.4 601.0 234.7 598.1 233.8 596.2 233.2 593.3 232.4 591.4 232.0 588.5 231.3 586.5 230.9 583.5 230.5 581.5 230.3 578.6 230.1 576.6 230.0 573.6 230.1 571.6 230.2 568.6 230.4 566.6 230.6 563.6 231.1 561.7 231.4 558.7 231.9 556.7 232.4 553.8 233.1 551.9 233.6 549.0 234.5 547.2 235.1 544.4 236.2 542.5 237.0 539.8 238.2 538.0 239.1 535.3 240.5 533.6 241.5 531.0 243.0 529.4 244.1 526.9 245.8 525.3 247.1 523.1 249.0 521.6 250.4 519.5 252.5 518.2 254.0 516.3 256.3 515.0 257.9 513.3 260.3 512.2 262.0 510.6 264.5 509.6 266.3 508.2 268.9 507.4 270.7 506.1 273.5 505.3 275.3 504.0 278.0M612.5 291.0 613.4 293.9 613.9 295.8 614.8 298.7 615.4 300.6 616.3 303.4 616.9 305.3 617.9 308.2 618.6 310.0 619.8 312.8 620.6 314.6 621.8 317.4 622.6 319.2 623.7 322.0 624.3 323.9 625.1 326.8 625.4 328.7 625.5 331.7 625.4 333.7 625.0 336.6 624.6 338.5 623.7 341.4 623.0 343.2 621.6 345.8 620.5 347.4 618.5 349.5 617.0 350.8 614.5 352.4 612.8 353.4 610.1 354.7 608.3 355.6 605.5 356.7 603.6 357.5 600.8 358.6 599.0 359.3 596.1 360.3 594.3 361.0 591.4 361.9 589.5 362.5 586.6 363.4 584.7 363.9 581.8 364.7 579.8 365.1 576.9 365.6 574.9 365.8 571.9 366.0 569.9 366.0 567.0 365.8 565.0 365.6 562.0 365.2 560.0 364.9 557.1 364.4 555.1 364.0 552.2 363.4 550.2 363.0 547.3 362.4 545.3 361.9 542.4 361.2 540.5 360.7 537.6 359.8 535.7 359.2 532.9 358.2 531.0 357.5 528.2 356.3 526.4 355.5 523.8 354.1 522.0 353.1 519.5 351.5 517.9 350.4 515.5 348.6 514.0 347.3 511.8 345.3 510.3 343.8 508.3 341.6 507.0 340.1 505.2 337.7 504.1 336.1 502.5 333.5 501.6 331.8 500.3 329.1 499.6 327.2 498.5 324.4 497.9 322.5 497.1 319.6 496.6 317.7 495.9 314.8 495.5 312.8 494.9 309.9 494.5 307.9 494.0 305.0 493.8 303.0 493.5 300.0 493.3 298.0 493.1 295.0 493.0 293.0 492.8 290.0 492.7 288.0 492.6 285.0M612.5 291.0 612.8 294.0 613.1 296.0 613.4 299.0 613.7 301.0 614.1 304.0 614.4 305.9 614.9 308.9 615.3 310.9 616.0 313.8 616.6 315.7 617.4 318.6 618.0 320.5 618.8 323.4 619.2 325.4 619.6 328.3 619.7 330.3 619.5 333.3 619.2 335.2 618.4 338.1 617.7 339.9 616.3 342.6 615.2 344.2 613.3 346.5 611.9 347.9 609.6 349.8 607.9 350.9 605.4 352.4 603.6 353.3 600.8 354.5 599.0 355.2 596.1 356.2 593.2 357.0 591.3 357.5 588.3 358.1 586.3 358.5 583.4 358.9 581.4 359.1 578.4 359.3 576.4 359.3 573.4 359.2 571.4 359.1 568.4 358.9 566.4 358.7 563.4 358.3 561.4 358.0 558.4 357.6 556.4 357.2 553.5 356.6 551.5 356.2 548.6 355.5 546.6 355.0 543.7 354.2 541.8 353.6 539.0 352.6 537.2 351.8 534.5 350.5 532.7 349.5 530.2 347.9 528.5 346.8 526.1 345.0 524.5 343.8 522.2 341.8 520.0 339.9 518.5 338.5 516.4 336.4 515.0 334.9 513.1 332.5 512.0 330.9 510.4 328.4 509.5 326.6 508.2 323.9 507.4 322.1 506.4 319.2 505.7 317.3 504.8 314.5 504.3 312.5 503.5 309.6 503.1 307.7 502.5 304.7 502.1 302.7 501.7 299.8 501.6 297.8 501.5 294.8 501.5 292.8 501.6 289.8 501.8 287.8 502.1 284.8 502.4 282.8 502.9 279.8 503.3 277.8 503.9 274.9 504.3 272.9 505.0 270.0M612.5 291.0 612.4 294.0 612.4 296.0 612.3 299.0 612.2 301.0 612.2 304.0 612.1 306.0 612.1 309.0 612.1 311.0 612.1 314.0 612.2 316.0 612.4 319.0 612.5 321.0 612.6 324.0 612.7 326.0 612.6 329.0 612.5 331.0 611.9 333.9 611.3 335.7 610.1 338.4 609.1 340.1 607.2 342.4 605.1 344.4 603.5 345.6 601.0 347.2 599.2 348.1 596.5 349.3 594.6 350.0 591.7 350.8 589.8 351.3 586.9 352.0 584.9 352.3 582.0 352.8 580.0 353.1 577.0 353.4 575.0 353.6 572.0 353.7 570.0 353.6 567.0 353.5 565.0 353.4 562.0 353.1 560.0 352.8 557.1 352.4 555.1 352.2 552.1 351.8M612.5 291.0 613.5 293.9 614.1 295.8 615.1 298.6 615.7 300.5 616.7 303.4 617.4 305.3 618.5 308.1 619.2 309.9 620.5 312.6 621.4 314.4 622.9 317.0 624.0 318.7 625.6 321.3 626.6 323.0 628.0 325.7 628.8 327.5 629.7 330.3 630.1 332.3 630.3 335.2 630.3 337.2 630.1 340.2 629.5 343.1 628.9 345.0 627.7 347.7 626.6 349.3 624.8 351.6 623.3 352.9 620.9 354.7 619.2 355.7 616.6 357.1 614.7 358.0 612.0 359.1 610.1 359.8 607.2 360.7 605.3 361.3 602.4 362.1 600.4 362.6 597.5 363.3 595.6 363.8 592.6 364.4 589.7 365.0 587.7 365.4 584.7 366.0 582.8 366.3 579.8 366.8 577.8 367.1 574.8 367.4 572.8 367.6 569.8 367.8 567.8 367.9 564.8 367.9 562.8 367.8 559.8 367.5 557.8 367.3 554.8 366.8 552.8 366.5 549.9 365.9 547.9 365.6 544.9 365.0 543.0 364.6 540.0 364.0M612.5 291.0 613.3 293.9 613.9 295.8 614.7 298.7 615.2 300.6 616.1 303.5 616.6 305.4 617.5 308.3 618.2 310.2 619.2 313.0 619.9 314.9 620.9 317.7 621.6 319.6 622.6 322.4 623.1 324.3 623.6 327.2 623.7 329.2 623.6 332.2 623.4 334.1 622.7 337.0 622.1 338.9 620.9 341.6 620.0 343.4 618.3 345.8 617.0 347.3 614.9 349.4 613.3 350.6 610.8 352.2 609.1 353.2 606.4 354.6 603.7 355.7 601.8 356.4 598.9 357.3 597.0 357.9 594.1 358.6 592.2 359.1 589.2 359.7 587.3 360.1 584.3 360.5 582.3 360.8 579.3 361.2 577.4 361.4 574.4 361.6 572.4 361.7 569.4 361.9 567.4 361.9 564.4 361.9 562.4 361.9 559.4 361.8 557.4 361.7 554.4 361.5 552.4 361.3 549.4 360.8 547.5 360.4 544.6 359.8 542.6 359.3 539.7 358.4 537.8 357.8 535.0 356.8 532.3 355.6 530.4 354.8 527.8 353.4 526.0 352.4 523.5 350.8 521.9 349.7 519.5 347.8 518.0 346.5 515.9 344.5 514.5 343.0 512.5 340.8 511.2 339.3 509.3 336.9 508.2 335.3 506.5 332.8 505.5 331.1 504.0 328.5 503.1 326.7 501.8 324.0 501.0 322.2 499.9 319.4 499.3 317.5 498.4 314.6 497.8 312.7 497.1 309.8 496.7 307.8 496.0 304.9 495.6 302.9 495.0 300.0M612.5 291.0 615.2 289.5 616.9 288.5 619.7 287.2 621.5 286.4 624.4 285.6 626.3 285.2 629.3 285.0 631.3 285.1 634.3 285.6 636.1 286.2 638.7 287.5 640.3 288.7 642.2 290.8 643.4 292.4 645.0 295.0M612.5 291.0 615.4 291.8 617.3 292.4 620.2 293.3 622.1 293.9 624.9 294.9 626.7 295.7 629.3 297.1 631.0 298.2 633.4 299.9 635.8 301.8 637.4 303.0 639.8 304.7 641.5 305.8 644.0 307.5 645.7 308.6 648.2 310.2M612.5 291.0 615.0 292.7 616.7 293.9 619.2 295.7 620.8 296.9 623.2 298.7 624.8 300.0 627.2 301.9 628.7 303.3 630.9 305.4 632.9 307.6 634.1 309.2 635.8 311.7 636.9 313.5 638.3 316.2 639.2 318.0 640.4 320.8 641.3 322.6 642.5 325.4M612.5 291.0 614.8 289.1 616.4 287.8 618.7 285.8 620.2 284.5 622.5 282.4 623.9 281.0 625.9 278.8 627.2 277.2 629.0 274.8 630.8 272.3 631.9 270.6 633.3 268.0 634.2 266.2 635.3 263.4 635.8 261.5 636.5 258.5 636.8 256.5 637.2 253.5 637.5 251.5 637.8 248.5M612.5 291.0 613.9 292.5 616.0 294.7 618.0 297.0 619.4 298.5 620.8 300.0 622.8 302.4 624.7 304.8 625.9 306.4 627.0 308.1 628.5 310.7 629.9 313.5 630.7 315.3 631.5 317.2 632.4 320.1 633.3 323.1 633.8 325.0 634.3 327.0 635.0 330.0M612.5 291.0 615.5 291.7 617.5 292.1 620.6 292.7 623.6 293.3 625.6 293.5 628.6 293.7 630.6 293.5 633.4 292.6 636.0 291.2 637.6 290.0 640.0 288.0M612.5 291.0 611.0 293.6 609.8 295.2 607.9 297.4 606.4 298.6 603.8 300.0 602.0 300.8 599.1 301.6 597.2 302.1 594.2 302.7 592.2 303.1 589.3 303.6 587.3 303.9 584.3 304.4 582.3 304.6 579.3 305.1 577.3 305.4 574.3 305.7 572.3 306.0 569.3 306.2 567.3 306.4 564.3 306.7 562.3 306.8 559.3 307.0 557.2 307.1 554.2 307.3 552.2 307.3 549.2 307.4 547.2 307.5 544.2 307.7 542.1 307.8 539.1 308.1 537.1 308.3 534.2 308.8 532.2 309.2 529.3 309.9 527.3 310.5 524.5 311.4 522.6 312.1 519.7 313.1 517.9 313.9 515.1 315.1 513.3 315.9 510.6 317.2 508.8 318.2 506.1 319.7 504.4 320.7 501.8 322.2M612.5 291.0 611.2 292.5 609.2 294.8 607.2 297.0 605.8 298.4 604.3 299.7 601.9 301.5 599.3 303.0 597.5 303.8 595.6 304.5 592.7 305.3 589.8 306.0 587.8 306.5 585.9 306.9 583.0 307.7 580.0 308.4 578.1 309.0 576.2 309.7 573.4 310.7 570.6 311.8 568.8 312.6 566.9 313.4 564.2 314.7 561.4 315.9 559.6 316.8 557.8 317.6 555.1 318.9 552.3 320.3 550.5 321.1 548.7 322.0 546.0 323.3 543.3 324.6 541.5 325.5 539.7 326.4 537.0 327.7 534.3 329.0 532.5 329.9 530.7 330.8 528.0 332.2 525.3 333.5 523.5 334.4 521.7 335.3 519.0 336.7M612.5 291.0 610.4 288.9 608.9 287.5 606.7 285.5 605.2 284.2 602.9 282.3 601.3 281.0 598.9 279.3 597.2 278.2 594.7 276.5 593.0 275.4 590.5 273.8 588.8 272.8 586.2 271.3 583.6 269.9 581.8 269.0 579.1 267.7 577.2 267.0 574.4 265.9 572.5 265.3 569.6 264.6 567.6 264.1 564.7 263.5 562.7 263.1 559.8 262.7 556.8 262.3 554.8 262.1 551.8 261.9 549.8 261.8 546.8 261.8 544.8 261.8 541.8 262.0 539.9 262.3 536.9 262.7 535.0 263.2 532.1 263.9 529.2 264.9 527.4 265.6 524.6 266.7 522.8 267.6 520.1 269.0 518.4 270.0 515.9 271.6 514.3 272.7 511.8 274.5 510.2 275.7 507.9 277.5 506.3 278.8 503.9 280.6M612.5 291.0 611.5 288.1 610.9 286.2 609.9 283.4 609.2 281.5 608.2 278.7 607.5 276.8 606.5 273.9 605.7 272.1 604.5 269.3 603.6 267.5 602.3 264.8 601.3 263.1 599.7 260.5 598.0 258.0 596.8 256.5 594.8 254.2 593.4 252.9 591.0 251.1 589.3 250.0 586.6 248.7 584.8 248.0 581.9 247.2 579.9 246.7 577.0 246.1 575.0 245.7 572.0 245.2 570.1 244.8 567.1 244.3M612.5 291.0 610.9 288.5 609.8 286.8 608.1 284.3 607.0 282.7 605.2 280.2 604.0 278.6 602.1 276.3 600.8 274.8 598.8 272.6 597.4 271.2 595.2 269.1 593.0 267.1 591.5 265.8 589.1 264.0 587.5 262.8 584.9 261.2 583.2 260.3 580.5 259.0 578.6 258.3 575.8 257.4 573.9 256.8 571.0 256.1 568.0 255.4 566.1 255.1 563.1 254.6 561.1 254.3 558.2 253.9 556.2 253.7 553.2 253.4 551.2 253.3 548.2 253.1 546.2 253.1 543.2 253.0 540.2 253.0 538.2 253.0 535.2 253.0 533.2 253.0 530.2 253.1 528.2 253.1 525.2 253.2 523.2 253.2 520.2 253.3 518.2 253.4 515.2 253.5M612.5 291.0 611.1 292.4 609.0 294.6 606.9 296.7 605.4 298.0 603.8 299.2 601.3 300.8 598.7 302.1 596.8 302.7 594.9 303.2 592.0 303.7 589.0 304.0 587.0 304.2 585.0 304.4 582.0 304.6M612.5 291.0 611.9 288.0 611.6 286.1 611.0 283.1 610.6 281.2 610.0 278.2 609.6 276.3 608.8 273.4 608.3 271.4 607.5 268.5 606.9 266.6 605.9 263.8 605.3 261.9 604.2 259.1 603.0 256.3 602.2 254.5 600.9 251.8 599.9 250.1 598.3 247.5 597.2 245.9 595.4 243.5 594.1 241.9 592.1 239.8 590.6 238.4 588.3 236.5 585.9 234.8 584.2 233.7 581.5 232.3 579.7 231.4 577.0 230.3 575.1 229.6 572.2 228.7 570.3 228.3 567.4 227.7 565.4 227.5 562.4 227.3 559.4 227.3 557.4 227.4 554.4 227.6 552.4 227.8 549.4 228.2 547.5 228.5 544.5 229.1 542.6 229.6 539.6 230.3 537.7 230.8 534.8 231.6 532.9 232.2 530.0 233.0M612.5 291.0 611.8 289.1 610.7 286.3 610.0 284.4 608.9 281.6 608.1 279.7 606.9 277.0 606.0 275.2 604.5 272.6 603.5 270.8 601.9 268.3 600.8 266.6 599.1 264.1 597.9 262.5 596.0 260.2 594.7 258.6 592.6 256.5 591.1 255.1 588.9 253.1 587.3 251.8 584.9 250.0 583.2 248.9 580.7 247.3 578.9 246.3 576.3 244.9 574.5 244.0 571.7 242.8 569.8 242.2 566.9 241.3 564.9 240.9 562.0 240.5 560.0 240.3 557.0 240.2 555.0 240.2 551.9 240.3 549.9 240.5 547.0 240.9 545.0 241.2 542.0 241.7 540.0 242.0M612.5 291.0 612.2 288.0 612.0 286.0 611.8 283.0 611.6 281.0 611.3 278.0 611.1 276.0 610.8 273.0 610.6 271.0 610.3 268.0 610.1 266.0 609.8 263.0 609.4 260.0 609.2 258.0 608.8 255.0 608.5 253.0 608.0 250.1 607.6 248.1 606.9 245.2 606.3 243.3 605.2 240.5 604.3 238.7 602.8 236.1 601.7 234.5 599.8 232.2 597.6 230.1 596.1 228.9 593.6 227.2 591.9 226.2 589.2 224.8 587.4 223.9 584.6 222.8 582.7 222.2 579.8 221.3 577.9 220.8 575.0 220.0M612.5 291.0 614.6 288.8 616.0 287.4 618.2 285.4 619.7 284.0 621.9 282.1 623.4 280.7 625.5 278.6 626.8 277.0 628.4 274.6 629.4 272.8 630.6 270.1 631.2 268.2 631.8 265.3 631.9 263.4 631.7 260.5 631.3 258.6 630.3 255.8 629.4 254.0 627.8 251.5 626.6 249.9 624.8 247.5 622.8 245.3 621.4 243.8 619.3 241.7 617.8 240.3 615.6 238.3 614.0 237.1 611.6 235.3 609.9 234.1 607.4 232.5 605.7 231.5 603.1 230.0 601.3 229.0 598.6 227.7 596.8 226.8 594.1 225.6 592.2 224.9 589.4 223.9 587.4 223.3 584.5 222.6 582.6 222.1 579.6 221.5 577.7 221.1 574.7 220.4M612.5 291.0 614.9 289.3 616.5 288.0 618.9 286.1 620.4 284.8 622.5 282.8 624.0 281.4 626.0 279.1 627.2 277.6 628.8 275.1 629.7 273.3 630.8 270.6 631.4 268.7 631.9 265.8 632.1 263.8 632.1 260.8 631.8 258.9 631.0 256.1 630.2 254.3 628.7 251.7 627.6 250.1 625.6 247.9 624.2 246.4 622.0 244.4 620.5 243.1 618.1 241.3 616.5 240.2 613.9 238.6 612.2 237.6 609.6 236.1 606.9 234.7 605.1 233.8 602.4 232.5 600.6 231.7 597.8 230.5 596.0 229.8 593.2 228.7 591.3 228.1 588.4 227.2 586.5 226.7 583.5 225.9 581.6 225.5 578.7 224.9 576.7 224.6 573.7 224.2 571.7 224.0 568.7 223.9 566.7 223.9 563.7 224.0 561.7 224.1 558.7 224.4 556.7 224.6 553.8 225.0 551.8 225.3 548.8 225.7 546.8 226.0 543.9 226.5M612.5 291.0 613.9 289.5 615.9 287.3 617.3 285.9 619.5 283.8 621.0 282.4 623.1 280.3 624.4 278.8 626.2 276.5 627.2 274.7 628.2 272.0 628.7 270.1 629.0 267.1 629.1 265.2 628.8 262.2 628.4 260.2 627.6 257.4 626.9 255.5 625.6 252.8 624.5 251.1 622.8 248.7 621.5 247.2 619.4 245.0 617.9 243.7 615.6 241.8 614.0 240.6 611.5 238.9 609.8 237.8 607.1 236.3 605.4 235.4 602.7 234.0 600.8 233.2 598.1 232.0 596.2 231.3 593.3 230.3 591.4 229.7 588.5 228.9 586.6 228.4 583.6 227.8 581.6 227.5 578.6 227.1 576.6 226.9 573.6 226.7 571.6 226.6 568.6 226.5 566.6 226.5 563.6 226.6 561.6 226.7 558.6 226.9 556.6 227.0 553.5 227.2 551.5 227.4M612.5 291.0 614.6 288.9 616.0 287.4 618.1 285.2 619.5 283.8 621.5 281.5 622.7 280.0 624.6 277.6 625.7 276.0 627.1 273.3 627.9 271.5 628.6 268.7 628.9 266.7 628.9 263.8 628.6 261.8 627.8 259.0 627.0 257.2 625.6 254.5 624.6 252.9 622.8 250.4 621.6 248.8 619.6 246.6 618.2 245.1 616.1 243.0 614.5 241.7 612.2 239.8 610.6 238.6 608.1 237.0 606.4 235.9 603.8 234.4 602.0 233.5 599.3 232.1 597.5 231.3 594.7 230.1 592.8 229.4 590.0 228.4 588.1 227.9 585.1 227.2 583.2 226.8 580.2 226.4 578.2 226.3 575.2 226.1 573.2 226.1 570.2 226.0 568.2 226.0 565.1 226.0 563.1 226.1 560.1 226.2 558.1 226.4 555.1 226.7 553.1 227.0 550.2 227.6 548.2 228.0 545.3 228.8 543.4 229.4 540.6 230.5 538.8 231.3 536.0 232.6 534.3 233.5 531.7 235.0 530.0 236.1 527.5 237.8 525.9 239.1 523.6 241.0 522.1 242.3 519.8 244.2 518.3 245.6 516.1 247.6 514.6 249.0 512.5 251.1 511.1 252.6 509.1 254.8 507.8 256.4 506.0 258.7 504.8 260.4 503.1 262.9 502.0 264.6 500.5 267.1M612.5 291.0 613.1 289.1 613.9 286.2 615.0 283.4 615.8 281.6 616.7 279.8 618.2 277.2 619.6 274.6 620.4 272.8 621.1 270.9 621.7 268.1 621.9 265.1 621.7 263.2 621.4 261.2 620.6 258.3 619.6 255.5 618.7 253.7 617.8 252.0 616.1 249.5 614.2 247.2 612.8 245.8 611.4 244.4 609.1 242.5 606.6 240.8 604.9 239.7 603.2 238.7 600.5 237.3 597.8 236.1 596.0 235.3 594.1 234.6 591.2 233.7 588.3 233.0 586.3 232.6 584.4 232.2 581.4 231.8 578.4 231.5 576.4 231.4 574.4 231.3 571.4 231.3 568.4 231.4 566.4 231.5 564.4 231.6 561.4 231.9 558.4 232.2 556.4 232.5 554.4 232.7 551.5 233.3 548.5 233.8 546.6 234.3 544.6 234.8 541.7 235.6 538.9 236.6 537.0 237.3 535.2 238.1 532.5 239.4 529.8 240.8 528.1 241.8 526.4 242.9 523.9 244.6 521.5 246.4 520.0 247.7 518.5 249.0 516.4 251.1 514.4 253.3 513.1 254.9 511.9 256.5 510.2 259.0 508.7 261.6 507.8 263.3 507.0 265.2 506.0 268.0 505.2 270.9 504.8 272.8 504.4 274.8 503.8 277.8M612.5 291.0 612.8 288.0 612.9 286.0 613.1 283.0 613.2 281.0 613.3 278.0 613.4 276.0 613.5 272.9 613.4 270.9 613.2 268.0 612.9 266.0 612.2 263.1 611.5 261.2 610.3 258.5 609.4 256.7 607.9 254.1 606.8 252.4 605.0 250.0 603.7 248.5 601.6 246.3 600.1 245.0 597.7 243.2 596.0 242.1 593.4 240.7 591.6 239.9 588.8 238.7 586.9 238.1 584.0 237.3 582.0 236.9 579.1 236.4 577.1 236.2 574.1 236.0 572.1 236.0 569.1 236.1 567.0 236.2 564.0 236.4 562.0 236.6 559.1 237.0 556.1 237.5 554.1 237.9 551.2 238.6 549.3 239.2 546.4 240.2 544.6 240.9 541.8 242.2 540.0 243.1 537.4 244.6 535.7 245.6 533.3 247.3 531.7 248.5 529.3 250.5 527.9 251.8 525.7 253.9 524.4 255.4 522.4 257.7 521.2 259.3 519.4 261.7 518.3 263.4 516.7 266.0 515.7 267.7 514.4 270.4 513.6 272.2 512.4 275.0 511.7 276.9 510.8 279.8 510.2 281.7 509.6 284.6 509.2 286.6 508.7 289.6 508.4 291.6 508.0 294.5 507.8 296.5 507.4 299.5M612.5 291.0 614.1 289.8 616.5 287.9 618.0 286.6 620.3 284.6 621.7 283.2 623.6 280.9 624.7 279.3 626.3 276.7 627.1 274.9 628.3 272.2 628.9 270.3 629.5 267.4 629.6 265.4 629.4 262.5 629.0 260.6 627.9 257.9 626.9 256.2 625.3 253.7 624.0 252.1 622.0 249.9 620.6 248.5 618.3 246.5 616.8 245.2 614.3 243.5 612.7 242.3 610.1 240.7 608.4 239.7 605.7 238.3 603.9 237.4 601.2 236.2 599.3 235.4 596.5 234.3 594.6 233.7 591.7 232.8 589.8 232.4 586.8 231.7 584.9 231.4 581.9 231.0 579.9 230.8 576.9 230.6 574.9 230.5 571.9 230.5 569.9 230.6 566.9 230.9 564.9 231.2 561.9 231.6 559.9 232.0 557.0 232.6 555.0 233.0 552.0 233.7 550.1 234.1M612.5 291.0 614.1 288.4 615.2 286.7 616.8 284.2 617.9 282.6 619.6 280.1 620.8 278.5 622.5 276.0 623.5 274.3 624.7 271.6 625.3 269.7 625.8 266.8 625.9 264.8 625.7 261.9 625.3 259.9 624.5 257.1 623.8 255.2 622.4 252.6 621.3 251.0 619.5 248.6 618.1 247.2 615.8 245.2 614.2 244.0 611.7 242.4 610.0 241.4 607.3 240.1 604.5 238.9 602.7 238.2 599.8 237.2 597.9 236.6 595.1 235.7 593.1 235.2 590.2 234.4 588.2 234.0 585.3 233.4 583.3 233.1 580.3 232.8 578.3 232.7 575.3 232.6 573.3 232.7 570.3 232.9 568.3 233.1 565.3 233.4 563.4 233.7 560.4 234.3 558.4 234.6 555.5 235.3 553.6 235.8 550.7 236.7 547.8 237.6 546.0 238.4 543.2 239.5 541.4 240.3 538.7 241.7 536.9 242.6 534.3 244.1 532.6 245.1 530.1 246.8 528.5 248.0 526.1 249.9 524.6 251.2 522.5 253.3 521.1 254.8 519.2 257.0 517.9 258.6 516.1 261.0 515.0 262.7 513.4 265.2 512.4 267.0 511.0 269.6 510.1 271.4 508.8 274.1 508.0 275.9 506.7 278.7M612.5 291.0 613.1 293.9 613.5 295.9 614.2 298.8 614.6 300.8 615.3 303.7 615.8 305.7 616.6 308.6 617.3 310.5 618.2 313.3 618.9 315.2 619.9 318.0 620.5 319.9 621.2 322.8 621.4 324.8 621.4 327.7 621.1 329.7 620.4 332.5 619.7 334.4 618.5 337.1 617.6 338.9 616.0 341.4 614.7 342.9 612.6 344.9 610.2 346.6 608.5 347.6 605.8 348.9 604.0 349.8 601.2 350.9 599.3 351.7 596.5 352.7 594.6 353.4 591.8 354.4 589.9 355.1 587.0 356.0 585.1 356.6 582.2 357.3 580.3 357.8 577.3 358.4 575.3 358.6 572.4 358.9 570.4 358.9 567.4 358.8 565.4 358.5 562.4 358.1 560.4 357.8 557.5 357.3 554.5 356.7 552.6 356.3 549.6 355.7 547.7 355.2 544.7 354.5 542.8 353.9 539.9 353.0 538.1 352.4 535.2 351.3 533.4 350.6 530.7 349.3 528.9 348.4 526.3 346.9 524.6 345.8 522.2 344.0 520.7 342.7 518.5 340.7 517.2 339.2 515.2 337.0 513.9 335.4 512.0 333.1 510.7 331.5 508.8 329.2M612.5 291.0 612.7 294.0 612.9 296.0 613.2 299.0 613.4 301.0 613.7 304.0 613.9 306.0 614.4 308.9 614.7 310.9 615.4 313.8 615.9 315.8 616.6 318.7 617.1 320.6 617.8 323.6 618.1 325.5 618.2 328.5 618.2 330.5 617.7 333.4 617.1 335.3 616.0 338.0 615.0 339.7 613.3 342.2 612.1 343.7 609.9 345.8 608.4 347.0 606.0 348.7 604.3 349.8 601.6 351.1 599.8 351.9 597.0 353.0 595.0 353.6 592.2 354.4 590.2 354.9 587.3 355.5 585.3 355.8 582.3 356.2 580.3 356.4 577.3 356.5 575.3 356.6 572.3 356.5 570.3 356.3 567.3 356.1 565.3 355.9 562.4 355.5 560.4 355.1 557.4 354.6 555.5 354.3 552.5 353.7 550.6 353.2 547.6 352.5 545.7 352.0 542.8 351.0 541.0 350.4 538.2 349.2 536.4 348.3 533.8 346.9 532.1 345.8 529.6 344.1 528.0 342.9 525.7 341.0 524.1 339.7 521.9 337.8 520.4 336.4 518.3 334.2 517.0 332.7 515.2 330.4 514.1 328.7 512.5 326.1 511.7 324.4 510.5 321.6 509.8 319.7 508.9 316.9 508.3 315.0 507.5 312.1 506.9 310.1 506.2 307.2 505.7 305.3 504.9 302.4M612.5 291.0 613.1 292.9 614.0 295.8 614.5 297.7 615.4 300.6 616.0 302.5 617.0 305.4 617.7 307.3 618.7 310.1 619.5 311.9 620.8 314.6 621.8 316.4 623.3 319.0 624.3 320.7 625.7 323.3 626.6 325.1 627.5 327.9 628.0 329.9 628.2 332.8 628.2 334.8 627.9 337.7 627.4 339.7 626.5 342.5 625.7 344.3 624.1 346.8 622.9 348.3 620.8 350.4 619.2 351.6 616.7 353.2 614.9 354.1 612.2 355.4 610.3 356.1 607.5 357.1 605.6 357.7 602.7 358.6 600.8 359.1 597.8 359.9 595.9 360.3 593.0 361.0 591.0 361.4 588.0 362.0 586.1 362.4 583.1 362.9 581.1 363.3 578.2 363.7 576.2 364.0 573.2 364.3 571.2 364.4 568.2 364.6 566.2 364.6 563.2 364.5 561.2 364.3 558.2 364.0 556.2 363.7 553.2 363.2 551.2 362.8 548.3 362.3 546.3 361.9 543.4 361.3 541.4 360.9M612.5 291.0 612.9 293.0 613.6 295.9 614.2 298.8 614.7 300.8 615.1 302.8 615.8 305.7 616.5 308.6 617.0 310.5 617.6 312.5 618.4 315.3 619.3 318.2 619.8 320.1 620.2 322.1 620.5 325.0 620.4 328.0 620.1 329.9 619.6 331.8 618.5 334.6 617.1 337.2 616.1 338.9 614.9 340.5 613.0 342.8 610.8 344.8 609.2 346.0 607.6 347.1 605.0 348.6 602.3 349.9 600.4 350.6 598.5 351.3 595.7 352.2 592.8 353.0 590.8 353.5 588.8 353.9 585.9 354.5 582.9 354.9 580.9 355.2 579.0 355.4 576.0 355.7 573.0 356.0 571.0 356.1 569.0 356.1 565.9 356.2 562.9 356.2 560.9 356.1 558.9 356.0 555.9 355.8 553.0 355.4 551.0 355.1 549.0 354.7 546.1 354.0 543.2 353.2 541.3 352.6 539.4 351.9 536.6 350.9 533.9 349.6 532.1 348.7 530.3 347.8 527.8 346.2 525.4 344.4 523.8 343.2 522.3 341.8 520.1 339.8 518.1 337.6 516.8 336.1 515.5 334.5 513.7 332.1 512.1 329.6 511.0 327.9 510.0 326.1 508.6 323.5 507.4 320.7 506.6 318.9 505.9 317.0 505.0 314.2 504.1 311.3 503.6 309.3 503.2 307.4 502.5 304.5 501.9 301.5 501.5 299.6" fill="none" stroke="#bc1820" stroke-width="0.90" stroke-linecap="round" stroke-linejoin="round"/>
<path d="M612.5 291.0 609.6 291.1 607.7 290.9 604.9 290.1 603.2 289.2 600.8 287.6 599.2 286.3 596.8 284.5 595.2 283.3 592.6 281.8 590.8 281.0 588.0 280.0 586.1 279.6 583.1 279.1 581.1 278.9 578.1 278.8 576.1 278.8 573.1 279.0 571.1 279.3 568.2 279.8 566.2 280.3 563.3 281.2 561.4 281.8 558.6 282.8 556.7 283.5 553.8 284.5 552.0 285.2 549.1 286.3 547.2 287.0 544.4 288.0 542.5 288.7 539.7 289.8 537.8 290.5 535.0 291.6M612.5 291.0 609.6 291.7 607.6 292.1 604.7 292.8 602.7 293.3 599.8 294.0 597.8 294.4 594.9 295.1 592.9 295.5 589.9 296.1 588.0 296.5 585.0 297.0 583.0 297.3 580.0 297.7 578.0 297.9 575.0 298.2 573.0 298.4 570.0 298.8 568.0 299.1 565.1 299.7 563.1 300.2 560.2 301.0 557.4 302.0 555.5 302.7 552.7 303.7 550.8 304.4 547.9 305.3 546.0 305.8 543.0 306.2 541.0 306.2 538.1 306.0 536.1 305.8 533.1 305.3 531.1 305.0 528.1 304.6 526.1 304.2 523.2 303.7 521.2 303.4 518.2 302.8 516.3 302.4 513.3 301.7 511.3 301.3 508.4 300.6 506.4 300.2 503.5 299.5" fill="none" stroke="#3a3a3a" stroke-width="1.53" stroke-linecap="round" stroke-linejoin="round"/>
<path d="M562.0 214.0 565.0 214.3 567.0 214.5M528.5 224.8 531.4 223.9 533.3 223.3M535.0 225.0 537.9 224.3 539.9 223.9M488.5 292.0 489.0 289.0 489.4 287.1M494.0 318.0 494.6 315.0 494.9 313.1M503.9 299.8 504.3 296.8 504.5 294.8M530.0 236.0 531.8 235.1 534.5 233.8M504.0 278.0 505.3 275.3 506.1 273.5M492.6 285.0 492.7 288.0 492.8 290.0M505.0 270.0 504.3 272.9 503.9 274.9M552.1 351.8 555.1 352.2 557.1 352.4M540.0 364.0 543.0 364.6 544.9 365.0M495.0 300.0 495.6 302.9 496.0 304.9M645.0 295.0 643.4 292.4 642.2 290.8M648.2 310.2 645.7 308.6 644.0 307.5M642.5 325.4 641.3 322.6 640.5 320.8M637.8 248.5 637.5 251.5 637.2 253.5M635.0 330.0 634.3 327.0 633.8 325.1M640.0 288.0 637.6 290.0 636.1 291.1M503.5 299.5 506.4 300.2 508.4 300.6M501.8 322.2 504.4 320.7 506.1 319.7M519.0 336.7 521.7 335.3 523.5 334.4M503.9 280.6 506.3 278.8 507.9 277.5M567.1 244.3 570.1 244.8 572.0 245.2M515.2 253.5 518.2 253.4 520.2 253.3M582.0 304.6 585.0 304.4 587.0 304.2M530.0 233.0 532.9 232.2 534.8 231.6M540.0 242.0 542.0 241.7 544.9 241.2M575.0 220.0 577.9 220.8 579.8 221.3M574.7 220.4 577.7 221.1 579.6 221.5M543.9 226.5 546.8 226.0 548.8 225.7M551.5 227.4 553.5 227.2 556.5 227.0M500.5 267.1 502.0 264.6 503.1 262.9M503.8 277.8 504.4 274.8 504.8 272.8M507.4 299.5 507.8 296.5 508.0 294.6M550.1 234.1 552.0 233.7 555.0 233.0M506.7 278.7 508.0 275.9 508.8 274.1M508.8 329.2 510.7 331.5 512.0 333.1M504.9 302.4 505.7 305.3 506.2 307.2M541.4 360.9 543.4 361.3 546.3 361.9M501.5 299.6 501.9 301.5 502.5 304.4" fill="none" stroke="#1a1a1a" stroke-width="1.80" stroke-linecap="round"/>
</svg>
</body></html>
